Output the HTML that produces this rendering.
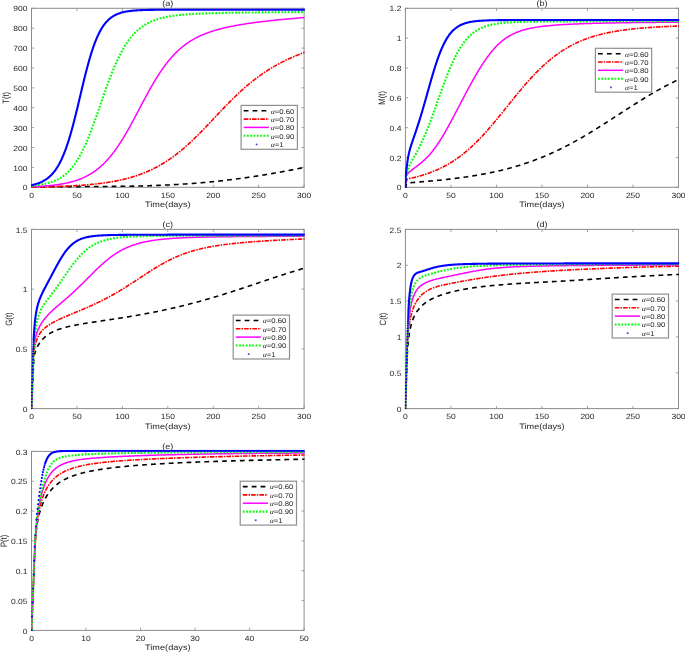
<!DOCTYPE html>
<html><head><meta charset="utf-8"><style>
html,body{margin:0;padding:0;background:#fff;}
body{width:685px;height:652px;overflow:hidden;}
svg{display:block;will-change:transform;}
text{font-family:"Liberation Sans", sans-serif;text-rendering:geometricPrecision;}
</style></head><body>
<svg width="685" height="652" viewBox="0 0 685 652" font-family='"Liberation Sans", sans-serif'>
<rect width="685" height="652" fill="#ffffff"/>
<rect x="31.50" y="8.30" width="272.60" height="179.00" fill="none" stroke="#8c8c8c" stroke-width="1"/>
<path d="M31.50 187.30V184.60M31.50 8.30V11.00M76.93 187.30V184.60M76.93 8.30V11.00M122.37 187.30V184.60M122.37 8.30V11.00M167.80 187.30V184.60M167.80 8.30V11.00M213.23 187.30V184.60M213.23 8.30V11.00M258.67 187.30V184.60M258.67 8.30V11.00M304.10 187.30V184.60M304.10 8.30V11.00M31.50 187.30H34.20M304.10 187.30H301.40M31.50 167.41H34.20M304.10 167.41H301.40M31.50 147.52H34.20M304.10 147.52H301.40M31.50 127.63H34.20M304.10 127.63H301.40M31.50 107.74H34.20M304.10 107.74H301.40M31.50 87.86H34.20M304.10 87.86H301.40M31.50 67.97H34.20M304.10 67.97H301.40M31.50 48.08H34.20M304.10 48.08H301.40M31.50 28.19H34.20M304.10 28.19H301.40M31.50 8.30H34.20M304.10 8.30H301.40" stroke="#8c8c8c" stroke-width="0.8" fill="none"/>
<clipPath id="cpa"><rect x="31.00" y="6.70" width="273.80" height="181.20"/></clipPath>
<g clip-path="url(#cpa)" fill="none" stroke-linejoin="round">
<path d="M31.50 187.19 L32.50 187.15 L33.50 187.11 L34.50 187.08 L35.50 187.05 L36.50 187.02 L37.51 186.99 L38.51 186.96 L39.51 186.94 L40.51 186.91 L41.51 186.89 L42.51 186.87 L43.51 186.85 L44.51 186.83 L45.52 186.81 L46.52 186.80 L47.52 186.78 L48.52 186.77 L49.52 186.75 L50.52 186.74 L51.52 186.73 L52.53 186.72 L53.53 186.71 L54.53 186.70 L55.53 186.69 L56.53 186.68 L57.53 186.67 L58.53 186.66 L59.54 186.66 L60.54 186.65 L61.54 186.64 L62.54 186.64 L63.54 186.63 L64.54 186.63 L65.54 186.62 L66.55 186.62 L67.55 186.62 L68.55 186.61 L69.55 186.61 L70.55 186.60 L71.55 186.60 L72.56 186.60 L73.56 186.59 L74.56 186.59 L75.56 186.59 L76.56 186.59 L77.56 186.58 L78.56 186.58 L79.57 186.58 L80.57 186.58 L81.57 186.57 L82.57 186.57 L83.57 186.57 L84.57 186.57 L85.57 186.56 L86.58 186.56 L87.58 186.56 L88.58 186.56 L89.58 186.55 L90.58 186.55 L91.58 186.55 L92.59 186.54 L93.59 186.54 L94.59 186.54 L95.59 186.53 L96.59 186.53 L97.59 186.52 L98.59 186.52 L99.60 186.51 L100.60 186.51 L101.60 186.50 L102.60 186.50 L103.60 186.49 L104.60 186.49 L105.60 186.48 L106.61 186.47 L107.61 186.47 L108.61 186.46 L109.61 186.45 L110.61 186.44 L111.61 186.43 L112.61 186.42 L113.62 186.41 L114.62 186.40 L115.62 186.39 L116.62 186.38 L117.62 186.37 L118.62 186.36 L119.62 186.35 L120.63 186.34 L121.63 186.32 L122.63 186.31 L123.63 186.29 L124.63 186.28 L125.63 186.26 L126.63 186.25 L127.64 186.23 L128.64 186.21 L129.64 186.20 L130.64 186.18 L131.64 186.16 L132.64 186.14 L133.64 186.12 L134.65 186.10 L135.65 186.08 L136.65 186.05 L137.65 186.03 L138.65 186.01 L139.65 185.98 L140.65 185.96 L141.65 185.93 L142.65 185.91 L143.66 185.88 L144.66 185.85 L145.66 185.82 L146.66 185.79 L147.66 185.76 L148.66 185.73 L149.66 185.70 L150.66 185.67 L151.66 185.63 L152.67 185.60 L153.67 185.56 L154.67 185.53 L155.67 185.49 L156.67 185.45 L157.67 185.42 L158.67 185.38 L159.67 185.34 L160.67 185.29 L161.67 185.25 L162.67 185.21 L163.67 185.16 L164.67 185.12 L165.67 185.07 L166.67 185.03 L167.67 184.98 L168.67 184.93 L169.68 184.88 L170.68 184.83 L171.68 184.78 L172.68 184.72 L173.68 184.67 L174.68 184.61 L175.68 184.56 L176.68 184.50 L177.68 184.44 L178.68 184.38 L179.67 184.32 L180.67 184.26 L181.67 184.20 L182.67 184.14 L183.67 184.07 L184.67 184.01 L185.67 183.94 L186.67 183.87 L187.67 183.80 L188.67 183.73 L189.67 183.66 L190.67 183.59 L191.67 183.51 L192.66 183.44 L193.66 183.36 L194.66 183.29 L195.66 183.21 L196.66 183.13 L197.66 183.05 L198.65 182.97 L199.65 182.88 L200.65 182.80 L201.65 182.72 L202.65 182.63 L203.64 182.54 L204.64 182.45 L205.64 182.36 L206.64 182.27 L207.63 182.18 L208.63 182.08 L209.63 181.99 L210.62 181.89 L211.62 181.80 L212.62 181.70 L213.61 181.60 L214.61 181.50 L215.61 181.39 L216.60 181.29 L217.60 181.19 L218.59 181.08 L219.59 180.97 L220.59 180.86 L221.58 180.75 L222.58 180.64 L223.57 180.53 L224.57 180.42 L225.56 180.30 L226.56 180.19 L227.55 180.07 L228.55 179.95 L229.54 179.83 L230.53 179.71 L231.53 179.59 L232.52 179.47 L233.52 179.34 L234.51 179.22 L235.50 179.09 L236.50 178.96 L237.49 178.83 L238.48 178.70 L239.48 178.57 L240.47 178.43 L241.46 178.30 L242.45 178.16 L243.44 178.03 L244.44 177.89 L245.43 177.75 L246.42 177.61 L247.41 177.47 L248.40 177.32 L249.39 177.18 L250.38 177.03 L251.38 176.89 L252.37 176.74 L253.36 176.59 L254.35 176.44 L255.34 176.29 L256.33 176.14 L257.32 175.98 L258.31 175.83 L259.29 175.67 L260.28 175.51 L261.27 175.36 L262.26 175.20 L263.25 175.04 L264.24 174.87 L265.23 174.71 L266.21 174.55 L267.20 174.38 L268.19 174.22 L269.18 174.05 L270.16 173.88 L271.15 173.71 L272.14 173.54 L273.12 173.37 L274.11 173.20 L275.10 173.02 L276.08 172.85 L277.07 172.67 L278.06 172.49 L279.04 172.32 L280.03 172.14 L281.01 171.96 L282.00 171.78 L282.98 171.59 L283.97 171.41 L284.95 171.23 L285.93 171.04 L286.92 170.85 L287.90 170.67 L288.89 170.48 L289.87 170.29 L290.85 170.10 L291.84 169.91 L292.82 169.72 L293.80 169.52 L294.78 169.33 L295.77 169.14 L296.75 168.94 L297.73 168.74 L298.71 168.55 L299.69 168.35 L300.68 168.15 L301.66 167.95 L302.64 167.75 L303.62 167.55 L304.60 167.34" stroke="#000000" stroke-width="1.60" stroke-linecap="butt" stroke-dasharray="4.8 4.1"/>
<path d="M31.50 187.13 L32.50 187.11 L33.50 187.10 L34.50 187.08 L35.51 187.06 L36.51 187.04 L37.51 187.02 L38.51 187.00 L39.51 186.98 L40.51 186.96 L41.51 186.94 L42.51 186.92 L43.52 186.90 L44.52 186.87 L45.52 186.85 L46.52 186.83 L47.52 186.80 L48.52 186.77 L49.52 186.75 L50.52 186.72 L51.52 186.69 L52.53 186.66 L53.53 186.63 L54.53 186.60 L55.53 186.57 L56.53 186.53 L57.53 186.50 L58.53 186.46 L59.53 186.43 L60.53 186.39 L61.53 186.35 L62.53 186.31 L63.54 186.27 L64.54 186.23 L65.54 186.18 L66.54 186.14 L67.54 186.09 L68.54 186.04 L69.54 185.99 L70.54 185.94 L71.54 185.89 L72.54 185.83 L73.54 185.78 L74.54 185.72 L75.54 185.66 L76.54 185.60 L77.54 185.54 L78.54 185.47 L79.53 185.40 L80.53 185.33 L81.53 185.26 L82.53 185.19 L83.53 185.11 L84.53 185.03 L85.53 184.95 L86.53 184.87 L87.52 184.79 L88.52 184.70 L89.52 184.61 L90.52 184.51 L91.51 184.42 L92.51 184.32 L93.50 184.22 L94.50 184.11 L95.50 184.01 L96.49 183.90 L97.49 183.78 L98.48 183.66 L99.48 183.54 L100.47 183.42 L101.46 183.29 L102.46 183.16 L103.45 183.03 L104.44 182.89 L105.43 182.75 L106.42 182.60 L107.41 182.45 L108.40 182.30 L109.39 182.14 L110.38 181.97 L111.37 181.81 L112.35 181.64 L113.34 181.46 L114.32 181.28 L115.31 181.09 L116.29 180.90 L117.27 180.71 L118.25 180.51 L119.23 180.30 L120.21 180.09 L121.19 179.87 L122.17 179.65 L123.14 179.43 L124.12 179.19 L125.09 178.95 L126.06 178.71 L127.03 178.46 L128.00 178.20 L128.97 177.94 L129.93 177.67 L130.89 177.40 L131.86 177.12 L132.82 176.83 L133.77 176.54 L134.73 176.24 L135.68 175.93 L136.63 175.62 L137.58 175.30 L138.53 174.97 L139.47 174.64 L140.41 174.30 L141.35 173.95 L142.29 173.59 L143.22 173.23 L144.15 172.86 L145.08 172.49 L146.01 172.10 L146.93 171.71 L147.85 171.32 L148.77 170.91 L149.68 170.50 L150.59 170.08 L151.50 169.66 L152.40 169.23 L153.30 168.79 L154.20 168.34 L155.09 167.89 L155.98 167.43 L156.86 166.96 L157.75 166.48 L158.62 166.00 L159.50 165.51 L160.37 165.02 L161.24 164.52 L162.10 164.01 L162.96 163.49 L163.81 162.97 L164.66 162.44 L165.51 161.91 L166.35 161.37 L167.19 160.82 L168.03 160.27 L168.86 159.71 L169.69 159.15 L170.51 158.58 L171.33 158.00 L172.15 157.42 L172.96 156.84 L173.77 156.24 L174.57 155.65 L175.37 155.04 L176.17 154.44 L176.96 153.83 L177.75 153.21 L178.53 152.59 L179.31 151.96 L180.09 151.33 L180.87 150.69 L181.64 150.05 L182.41 149.41 L183.17 148.76 L183.93 148.11 L184.69 147.46 L185.44 146.80 L186.19 146.14 L186.94 145.47 L187.69 144.80 L188.43 144.13 L189.17 143.45 L189.90 142.77 L190.64 142.09 L191.37 141.41 L192.09 140.72 L192.82 140.03 L193.54 139.34 L194.26 138.64 L194.98 137.94 L195.70 137.24 L196.41 136.54 L197.13 135.84 L197.84 135.13 L198.54 134.42 L199.25 133.71 L199.95 133.00 L200.66 132.29 L201.36 131.57 L202.06 130.85 L202.76 130.14 L203.45 129.42 L204.15 128.70 L204.84 127.98 L205.54 127.25 L206.23 126.53 L206.92 125.80 L207.61 125.08 L208.30 124.35 L208.99 123.63 L209.68 122.90 L210.37 122.17 L211.05 121.44 L211.74 120.71 L212.43 119.98 L213.11 119.26 L213.80 118.53 L214.49 117.80 L215.17 117.07 L215.86 116.34 L216.54 115.61 L217.23 114.88 L217.92 114.15 L218.61 113.42 L219.29 112.69 L219.98 111.97 L220.67 111.24 L221.36 110.51 L222.05 109.79 L222.74 109.06 L223.44 108.34 L224.13 107.62 L224.82 106.90 L225.52 106.18 L226.22 105.46 L226.91 104.74 L227.61 104.02 L228.32 103.31 L229.02 102.59 L229.72 101.88 L230.43 101.17 L231.14 100.46 L231.85 99.76 L232.56 99.05 L233.27 98.35 L233.99 97.65 L234.70 96.95 L235.42 96.25 L236.15 95.56 L236.87 94.87 L237.60 94.18 L238.32 93.49 L239.06 92.81 L239.79 92.13 L240.53 91.45 L241.27 90.77 L242.01 90.10 L242.75 89.43 L243.50 88.76 L244.25 88.10 L245.00 87.44 L245.76 86.78 L246.52 86.13 L247.28 85.48 L248.04 84.83 L248.81 84.19 L249.58 83.55 L250.36 82.91 L251.13 82.28 L251.91 81.65 L252.70 81.03 L253.48 80.41 L254.27 79.79 L255.07 79.18 L255.86 78.58 L256.66 77.97 L257.47 77.37 L258.27 76.78 L259.08 76.19 L259.89 75.61 L260.71 75.03 L261.53 74.45 L262.35 73.88 L263.18 73.31 L264.01 72.75 L264.84 72.19 L265.68 71.64 L266.52 71.10 L267.36 70.55 L268.20 70.02 L269.05 69.48 L269.90 68.96 L270.76 68.43 L271.61 67.92 L272.47 67.40 L273.34 66.90 L274.20 66.39 L275.07 65.90 L275.95 65.40 L276.82 64.92 L277.70 64.43 L278.58 63.96 L279.46 63.48 L280.35 63.02 L281.24 62.55 L282.13 62.10 L283.02 61.64 L283.91 61.19 L284.81 60.75 L285.71 60.31 L286.61 59.88 L287.52 59.45 L288.43 59.02 L289.34 58.60 L290.25 58.19 L291.16 57.78 L292.08 57.37 L292.99 56.97 L293.91 56.57 L294.83 56.18 L295.75 55.79 L296.68 55.40 L297.60 55.02 L298.53 54.64 L299.46 54.27 L300.39 53.90 L301.33 53.53 L302.26 53.17 L303.19 52.81 L304.13 52.46 L304.60 52.28" stroke="#ff0000" stroke-width="1.60" stroke-linecap="butt" stroke-dasharray="4.6 1.1 1.5 1.1"/>
<path d="M31.50 186.77 L32.50 186.72 L33.50 186.68 L34.50 186.63 L35.50 186.58 L36.50 186.52 L37.50 186.47 L38.50 186.41 L39.50 186.35 L40.50 186.29 L41.50 186.22 L42.50 186.15 L43.49 186.08 L44.49 186.01 L45.49 185.93 L46.49 185.85 L47.49 185.76 L48.48 185.67 L49.48 185.58 L50.48 185.48 L51.47 185.38 L52.47 185.27 L53.46 185.16 L54.46 185.04 L55.45 184.92 L56.44 184.79 L57.43 184.65 L58.43 184.51 L59.42 184.36 L60.40 184.21 L61.39 184.04 L62.38 183.87 L63.36 183.70 L64.35 183.51 L65.33 183.32 L66.31 183.12 L67.29 182.90 L68.27 182.68 L69.24 182.45 L70.21 182.21 L71.18 181.96 L72.15 181.70 L73.11 181.43 L74.07 181.15 L75.03 180.86 L75.98 180.55 L76.93 180.24 L77.88 179.91 L78.82 179.57 L79.76 179.21 L80.69 178.85 L81.62 178.47 L82.54 178.08 L83.45 177.67 L84.36 177.26 L85.27 176.82 L86.16 176.38 L87.05 175.92 L87.94 175.45 L88.81 174.97 L89.68 174.47 L90.55 173.96 L91.40 173.44 L92.24 172.90 L93.08 172.35 L93.91 171.79 L94.73 171.22 L95.54 170.63 L96.35 170.04 L97.14 169.43 L97.93 168.81 L98.71 168.18 L99.48 167.54 L100.24 166.89 L100.99 166.22 L101.73 165.55 L102.46 164.87 L103.19 164.18 L103.91 163.48 L104.62 162.78 L105.32 162.06 L106.01 161.34 L106.69 160.61 L107.37 159.87 L108.04 159.13 L108.70 158.37 L109.35 157.62 L110.00 156.85 L110.64 156.08 L111.27 155.30 L111.90 154.52 L112.52 153.74 L113.13 152.94 L113.74 152.15 L114.34 151.35 L114.93 150.54 L115.52 149.73 L116.10 148.92 L116.68 148.10 L117.25 147.28 L117.82 146.45 L118.38 145.62 L118.93 144.79 L119.49 143.95 L120.03 143.12 L120.58 142.27 L121.12 141.43 L121.65 140.58 L122.18 139.74 L122.71 138.88 L123.23 138.03 L123.75 137.18 L124.27 136.32 L124.78 135.46 L125.29 134.60 L125.80 133.73 L126.30 132.87 L126.80 132.00 L127.30 131.13 L127.80 130.26 L128.29 129.39 L128.78 128.52 L129.27 127.65 L129.76 126.77 L130.24 125.90 L130.73 125.02 L131.21 124.14 L131.69 123.26 L132.17 122.38 L132.64 121.50 L133.12 120.62 L133.59 119.74 L134.07 118.86 L134.54 117.98 L135.01 117.09 L135.48 116.21 L135.95 115.32 L136.42 114.44 L136.89 113.55 L137.35 112.67 L137.82 111.78 L138.29 110.90 L138.75 110.01 L139.22 109.13 L139.69 108.24 L140.15 107.35 L140.62 106.47 L141.09 105.58 L141.56 104.70 L142.02 103.81 L142.49 102.93 L142.96 102.04 L143.43 101.16 L143.90 100.28 L144.37 99.39 L144.84 98.51 L145.32 97.63 L145.79 96.75 L146.27 95.87 L146.75 94.99 L147.23 94.11 L147.71 93.23 L148.19 92.35 L148.67 91.47 L149.16 90.60 L149.65 89.72 L150.14 88.85 L150.63 87.98 L151.12 87.11 L151.62 86.24 L152.12 85.37 L152.62 84.51 L153.12 83.64 L153.63 82.78 L154.14 81.92 L154.66 81.06 L155.17 80.20 L155.69 79.34 L156.22 78.49 L156.74 77.64 L157.27 76.79 L157.81 75.94 L158.35 75.10 L158.89 74.26 L159.44 73.42 L159.99 72.59 L160.54 71.75 L161.10 70.92 L161.67 70.10 L162.24 69.27 L162.81 68.45 L163.40 67.64 L163.98 66.83 L164.57 66.02 L165.17 65.21 L165.77 64.41 L166.38 63.62 L166.99 62.83 L167.61 62.04 L168.24 61.26 L168.87 60.49 L169.51 59.72 L170.16 58.95 L170.81 58.19 L171.47 57.44 L172.14 56.69 L172.81 55.95 L173.49 55.22 L174.18 54.49 L174.88 53.77 L175.58 53.06 L176.29 52.35 L177.01 51.66 L177.73 50.97 L178.47 50.28 L179.21 49.61 L179.96 48.95 L180.71 48.29 L181.48 47.64 L182.25 47.01 L183.03 46.38 L183.82 45.76 L184.61 45.15 L185.41 44.55 L186.22 43.96 L187.04 43.38 L187.86 42.81 L188.69 42.25 L189.53 41.70 L190.37 41.17 L191.22 40.64 L192.08 40.12 L192.94 39.61 L193.81 39.12 L194.69 38.63 L195.57 38.15 L196.46 37.69 L197.35 37.23 L198.24 36.79 L199.15 36.35 L200.05 35.93 L200.96 35.51 L201.88 35.11 L202.80 34.71 L203.72 34.33 L204.65 33.95 L205.58 33.58 L206.51 33.22 L207.45 32.87 L208.39 32.53 L209.34 32.19 L210.28 31.86 L211.23 31.55 L212.18 31.24 L213.14 30.93 L214.09 30.64 L215.05 30.35 L216.01 30.06 L216.98 29.79 L217.94 29.52 L218.91 29.25 L219.87 29.00 L220.84 28.75 L221.81 28.50 L222.78 28.26 L223.76 28.03 L224.73 27.80 L225.71 27.57 L226.68 27.35 L227.66 27.14 L228.64 26.92 L229.62 26.72 L230.60 26.52 L231.58 26.32 L232.56 26.12 L233.55 25.93 L234.53 25.75 L235.52 25.56 L236.50 25.38 L237.49 25.21 L238.47 25.03 L239.46 24.86 L240.45 24.70 L241.43 24.53 L242.42 24.37 L243.41 24.21 L244.40 24.06 L245.39 23.90 L246.38 23.75 L247.37 23.60 L248.36 23.46 L249.35 23.31 L250.34 23.17 L251.33 23.03 L252.32 22.89 L253.31 22.76 L254.31 22.62 L255.30 22.49 L256.29 22.36 L257.28 22.23 L258.28 22.10 L259.27 21.98 L260.26 21.86 L261.26 21.73 L262.25 21.61 L263.25 21.49 L264.24 21.38 L265.23 21.26 L266.23 21.15 L267.22 21.03 L268.22 20.92 L269.21 20.81 L270.21 20.70 L271.20 20.59 L272.20 20.49 L273.20 20.38 L274.19 20.27 L275.19 20.17 L276.18 20.07 L277.18 19.97 L278.17 19.87 L279.17 19.77 L280.17 19.67 L281.16 19.57 L282.16 19.47 L283.16 19.38 L284.15 19.28 L285.15 19.19 L286.15 19.09 L287.14 19.00 L288.14 18.91 L289.14 18.82 L290.13 18.73 L291.13 18.64 L292.13 18.55 L293.13 18.46 L294.12 18.38 L295.12 18.29 L296.12 18.21 L297.12 18.12 L298.11 18.04 L299.11 17.95 L300.11 17.87 L301.11 17.79 L302.11 17.71 L303.10 17.63 L304.10 17.55 L304.60 17.51" stroke="#ff00ff" stroke-width="1.50" stroke-linecap="butt"/>
<path d="M31.50 186.06 L32.49 185.91 L33.48 185.75 L34.47 185.60 L35.46 185.45 L36.44 185.29 L37.43 185.13 L38.42 184.97 L39.41 184.81 L40.39 184.64 L41.38 184.46 L42.36 184.28 L43.35 184.09 L44.33 183.88 L45.30 183.67 L46.28 183.45 L47.25 183.21 L48.22 182.96 L49.19 182.70 L50.15 182.42 L51.10 182.12 L52.05 181.81 L53.00 181.48 L53.93 181.12 L54.86 180.75 L55.78 180.36 L56.70 179.95 L57.60 179.52 L58.49 179.06 L59.37 178.58 L60.24 178.09 L61.09 177.56 L61.93 177.02 L62.76 176.46 L63.57 175.88 L64.37 175.27 L65.16 174.65 L65.92 174.01 L66.68 173.35 L67.42 172.67 L68.14 171.98 L68.85 171.27 L69.54 170.55 L70.22 169.82 L70.88 169.07 L71.53 168.31 L72.17 167.53 L72.79 166.75 L73.40 165.96 L74.00 165.15 L74.58 164.34 L75.16 163.52 L75.72 162.69 L76.27 161.86 L76.81 161.02 L77.34 160.17 L77.87 159.32 L78.38 158.46 L78.88 157.59 L79.38 156.72 L79.86 155.85 L80.34 154.97 L80.82 154.09 L81.28 153.20 L81.74 152.31 L82.19 151.42 L82.63 150.52 L83.07 149.62 L83.51 148.72 L83.93 147.81 L84.35 146.91 L84.77 146.00 L85.18 145.08 L85.59 144.17 L85.99 143.25 L86.39 142.34 L86.79 141.42 L87.18 140.49 L87.56 139.57 L87.95 138.65 L88.33 137.72 L88.70 136.79 L89.07 135.86 L89.44 134.93 L89.81 134.00 L90.18 133.07 L90.54 132.14 L90.90 131.20 L91.25 130.27 L91.61 129.33 L91.96 128.40 L92.31 127.46 L92.66 126.52 L93.01 125.58 L93.35 124.64 L93.69 123.70 L94.03 122.76 L94.37 121.82 L94.71 120.88 L95.05 119.93 L95.39 118.99 L95.72 118.05 L96.05 117.11 L96.39 116.16 L96.72 115.22 L97.05 114.27 L97.38 113.33 L97.71 112.38 L98.04 111.44 L98.37 110.49 L98.70 109.55 L99.02 108.60 L99.35 107.66 L99.68 106.71 L100.01 105.76 L100.33 104.82 L100.66 103.87 L100.99 102.93 L101.32 101.98 L101.64 101.04 L101.97 100.09 L102.30 99.14 L102.63 98.20 L102.96 97.25 L103.29 96.31 L103.62 95.36 L103.95 94.42 L104.28 93.48 L104.61 92.53 L104.95 91.59 L105.28 90.64 L105.62 89.70 L105.95 88.76 L106.29 87.82 L106.63 86.88 L106.97 85.93 L107.31 84.99 L107.66 84.05 L108.00 83.11 L108.35 82.18 L108.70 81.24 L109.05 80.30 L109.40 79.36 L109.75 78.43 L110.11 77.49 L110.47 76.56 L110.83 75.63 L111.20 74.69 L111.56 73.76 L111.93 72.83 L112.30 71.90 L112.68 70.98 L113.06 70.05 L113.44 69.12 L113.82 68.20 L114.21 67.28 L114.60 66.36 L115.00 65.44 L115.40 64.52 L115.80 63.60 L116.21 62.69 L116.62 61.78 L117.04 60.87 L117.46 59.96 L117.88 59.05 L118.31 58.15 L118.75 57.25 L119.19 56.35 L119.64 55.45 L120.09 54.56 L120.55 53.67 L121.01 52.78 L121.48 51.90 L121.96 51.02 L122.44 50.15 L122.94 49.27 L123.43 48.41 L123.94 47.54 L124.46 46.68 L124.98 45.83 L125.51 44.98 L126.05 44.14 L126.60 43.30 L127.15 42.47 L127.72 41.65 L128.30 40.83 L128.88 40.02 L129.48 39.21 L130.09 38.42 L130.71 37.63 L131.34 36.86 L131.98 36.09 L132.63 35.33 L133.30 34.58 L133.97 33.84 L134.66 33.12 L135.36 32.40 L136.08 31.70 L136.80 31.01 L137.54 30.34 L138.29 29.67 L139.05 29.03 L139.83 28.39 L140.62 27.78 L141.42 27.18 L142.23 26.59 L143.05 26.02 L143.89 25.47 L144.73 24.93 L145.59 24.41 L146.45 23.91 L147.33 23.43 L148.22 22.96 L149.11 22.51 L150.01 22.08 L150.92 21.66 L151.84 21.26 L152.76 20.88 L153.70 20.51 L154.63 20.16 L155.57 19.82 L156.52 19.50 L157.47 19.19 L158.43 18.90 L159.39 18.62 L160.36 18.35 L161.32 18.09 L162.29 17.85 L163.27 17.62 L164.24 17.39 L165.22 17.18 L166.20 16.98 L167.18 16.79 L168.17 16.61 L169.15 16.43 L170.14 16.27 L171.13 16.11 L172.12 15.96 L173.11 15.81 L174.10 15.68 L175.09 15.55 L176.08 15.42 L177.08 15.30 L178.07 15.19 L179.07 15.08 L180.06 14.98 L181.06 14.88 L182.06 14.78 L183.05 14.69 L184.05 14.60 L185.05 14.52 L186.04 14.44 L187.04 14.37 L188.04 14.29 L189.04 14.22 L190.04 14.16 L191.04 14.09 L192.03 14.03 L193.03 13.97 L194.03 13.91 L195.03 13.86 L196.03 13.81 L197.03 13.76 L198.03 13.71 L199.03 13.66 L200.03 13.62 L201.03 13.57 L202.03 13.53 L203.03 13.49 L204.03 13.45 L205.03 13.42 L206.03 13.38 L207.03 13.34 L208.03 13.31 L209.03 13.28 L210.03 13.25 L211.03 13.22 L212.03 13.19 L213.03 13.16 L214.03 13.13 L215.03 13.10 L216.03 13.08 L217.03 13.05 L218.04 13.03 L219.04 13.00 L220.04 12.98 L221.04 12.96 L222.04 12.93 L223.04 12.91 L224.04 12.89 L225.04 12.87 L226.04 12.85 L227.04 12.83 L228.04 12.82 L229.04 12.80 L230.04 12.78 L231.04 12.76 L232.04 12.75 L233.04 12.73 L234.05 12.71 L235.05 12.70 L236.05 12.68 L237.05 12.67 L238.05 12.65 L239.05 12.64 L240.05 12.62 L241.05 12.61 L242.05 12.60 L243.05 12.59 L244.05 12.57 L245.05 12.56 L246.05 12.55 L247.05 12.54 L248.06 12.52 L249.06 12.51 L250.06 12.50 L251.06 12.49 L252.06 12.48 L253.06 12.47 L254.06 12.46 L255.06 12.45 L256.06 12.44 L257.06 12.43 L258.06 12.42 L259.06 12.41 L260.06 12.40 L261.07 12.39 L262.07 12.39 L263.07 12.38 L264.07 12.37 L265.07 12.36 L266.07 12.35 L267.07 12.34 L268.07 12.34 L269.07 12.33 L270.07 12.32 L271.07 12.31 L272.07 12.31 L273.07 12.30 L274.08 12.29 L275.08 12.29 L276.08 12.28 L277.08 12.27 L278.08 12.27 L279.08 12.26 L280.08 12.25 L281.08 12.25 L282.08 12.24 L283.08 12.24 L284.08 12.23 L285.08 12.22 L286.09 12.22 L287.09 12.21 L288.09 12.21 L289.09 12.20 L290.09 12.20 L291.09 12.19 L292.09 12.19 L293.09 12.18 L294.09 12.18 L295.09 12.17 L296.09 12.17 L297.09 12.16 L298.09 12.16 L299.10 12.15 L300.10 12.15 L301.10 12.14 L302.10 12.14 L303.10 12.13 L304.10 12.13 L304.60 12.13" stroke="#00ff00" stroke-width="2.10" stroke-linecap="butt" stroke-dasharray="1.8 1.5"/>
<path d="M31.50 185.16 L32.14 185.01 L32.77 184.86 L33.41 184.71 L34.04 184.55 L34.68 184.37 L35.32 184.20 L35.95 184.01 L36.59 183.81 L37.22 183.61 L37.86 183.39 L38.50 183.16 L39.13 182.92 L39.77 182.67 L40.40 182.40 L41.04 182.12 L41.59 181.87 L42.13 181.61 L42.68 181.34 L43.22 181.05 L43.77 180.75 L44.31 180.44 L44.86 180.11 L45.40 179.77 L45.95 179.42 L46.49 179.04 L47.04 178.65 L47.58 178.25 L48.13 177.82 L48.67 177.38 L49.22 176.92 L49.67 176.52 L50.13 176.10 L50.58 175.67 L51.04 175.22 L51.49 174.76 L51.95 174.28 L52.40 173.79 L52.85 173.27 L53.31 172.74 L53.76 172.19 L54.22 171.62 L54.67 171.03 L55.03 170.54 L55.40 170.05 L55.76 169.53 L56.12 169.00 L56.49 168.46 L56.85 167.91 L57.22 167.34 L57.58 166.75 L57.94 166.15 L58.31 165.54 L58.67 164.90 L59.03 164.25 L59.40 163.59 L59.76 162.91 L60.12 162.21 L60.40 161.67 L60.67 161.13 L60.94 160.58 L61.21 160.01 L61.49 159.44 L61.76 158.85 L62.03 158.25 L62.30 157.65 L62.58 157.03 L62.85 156.41 L63.12 155.77 L63.39 155.12 L63.67 154.46 L63.94 153.79 L64.21 153.11 L64.48 152.42 L64.76 151.72 L65.03 151.00 L65.30 150.28 L65.58 149.54 L65.85 148.79 L66.12 148.04 L66.39 147.27 L66.67 146.48 L66.94 145.69 L67.21 144.89 L67.48 144.07 L67.76 143.25 L68.03 142.41 L68.30 141.56 L68.57 140.71 L68.76 140.13 L68.94 139.54 L69.12 138.96 L69.30 138.36 L69.48 137.76 L69.66 137.16 L69.85 136.55 L70.03 135.94 L70.21 135.33 L70.39 134.70 L70.57 134.08 L70.75 133.45 L70.94 132.81 L71.12 132.17 L71.30 131.53 L71.48 130.88 L71.66 130.23 L71.84 129.57 L72.03 128.91 L72.21 128.24 L72.39 127.57 L72.57 126.90 L72.75 126.22 L72.94 125.54 L73.12 124.85 L73.30 124.17 L73.48 123.47 L73.66 122.78 L73.84 122.08 L74.03 121.37 L74.21 120.66 L74.39 119.95 L74.57 119.24 L74.75 118.52 L74.93 117.80 L75.12 117.08 L75.30 116.35 L75.48 115.62 L75.66 114.89 L75.84 114.16 L76.02 113.42 L76.21 112.68 L76.39 111.94 L76.57 111.19 L76.75 110.45 L76.93 109.70 L77.12 108.95 L77.30 108.20 L77.48 107.44 L77.66 106.69 L77.84 105.93 L78.02 105.17 L78.21 104.41 L78.39 103.65 L78.57 102.88 L78.75 102.12 L78.93 101.36 L79.11 100.59 L79.30 99.82 L79.48 99.06 L79.66 98.29 L79.84 97.52 L80.02 96.76 L80.20 95.99 L80.39 95.22 L80.57 94.45 L80.75 93.69 L80.93 92.92 L81.11 92.15 L81.29 91.39 L81.48 90.62 L81.66 89.86 L81.84 89.10 L82.02 88.33 L82.20 87.57 L82.39 86.81 L82.57 86.06 L82.75 85.30 L82.93 84.54 L83.11 83.79 L83.29 83.04 L83.48 82.29 L83.66 81.54 L83.84 80.80 L84.02 80.05 L84.20 79.31 L84.38 78.58 L84.57 77.84 L84.75 77.11 L84.93 76.38 L85.11 75.65 L85.29 74.93 L85.47 74.21 L85.66 73.49 L85.84 72.78 L86.02 72.06 L86.20 71.36 L86.38 70.65 L86.57 69.95 L86.75 69.26 L86.93 68.56 L87.11 67.87 L87.29 67.19 L87.47 66.51 L87.66 65.83 L87.84 65.16 L88.02 64.49 L88.20 63.82 L88.38 63.16 L88.56 62.51 L88.75 61.86 L88.93 61.21 L89.11 60.57 L89.29 59.93 L89.47 59.30 L89.65 58.67 L89.84 58.05 L90.02 57.43 L90.20 56.81 L90.38 56.21 L90.56 55.60 L90.75 55.00 L90.93 54.41 L91.11 53.82 L91.29 53.24 L91.47 52.66 L91.65 52.09 L91.93 51.23 L92.20 50.40 L92.47 49.57 L92.74 48.75 L93.02 47.95 L93.29 47.16 L93.56 46.38 L93.83 45.61 L94.11 44.85 L94.38 44.11 L94.65 43.37 L94.92 42.65 L95.20 41.94 L95.47 41.25 L95.74 40.56 L96.02 39.89 L96.29 39.22 L96.56 38.57 L96.83 37.93 L97.11 37.31 L97.38 36.69 L97.65 36.08 L97.92 35.49 L98.20 34.90 L98.47 34.33 L98.74 33.77 L99.01 33.22 L99.29 32.68 L99.65 31.97 L100.01 31.29 L100.38 30.62 L100.74 29.97 L101.10 29.34 L101.47 28.72 L101.83 28.13 L102.19 27.54 L102.56 26.98 L102.92 26.43 L103.28 25.90 L103.65 25.38 L104.01 24.87 L104.38 24.38 L104.83 23.79 L105.28 23.22 L105.74 22.68 L106.19 22.15 L106.65 21.64 L107.10 21.15 L107.56 20.68 L108.01 20.23 L108.46 19.80 L108.92 19.38 L109.37 18.98 L109.92 18.52 L110.46 18.08 L111.01 17.66 L111.55 17.26 L112.10 16.88 L112.64 16.52 L113.19 16.18 L113.73 15.85 L114.28 15.54 L114.82 15.24 L115.37 14.96 L115.92 14.70 L116.46 14.44 L117.10 14.16 L117.73 13.90 L118.37 13.65 L119.00 13.41 L119.64 13.19 L120.28 12.99 L120.91 12.79 L121.55 12.61 L122.18 12.43 L122.82 12.27 L123.46 12.12 L124.09 11.97 L124.73 11.84 L125.37 11.71 L126.00 11.59 L126.64 11.48 L127.27 11.37 L127.91 11.27 L128.55 11.18 L129.18 11.09 L129.82 11.00 L130.45 10.93 L131.09 10.85 L131.73 10.78 L132.36 10.72 L133.00 10.66 L133.63 10.60 L134.27 10.55 L134.91 10.50 L135.54 10.45 L136.18 10.40 L136.81 10.36 L137.45 10.32 L138.09 10.29 L138.72 10.25 L139.36 10.22 L139.99 10.19 L140.63 10.16 L141.27 10.13 L141.90 10.11 L142.54 10.08 L143.18 10.06 L143.81 10.04 L144.45 10.02 L145.08 10.00 L145.72 9.98 L146.36 9.97 L146.99 9.95 L147.63 9.94 L148.26 9.92 L148.90 9.91 L149.54 9.90 L150.17 9.89 L150.81 9.87 L151.44 9.86 L152.08 9.86 L152.72 9.85 L153.35 9.84 L153.99 9.83 L154.62 9.82 L155.26 9.82 L155.90 9.81 L156.53 9.80 L157.17 9.80 L157.80 9.79 L158.44 9.79 L159.08 9.78 L159.71 9.78 L160.35 9.77 L160.99 9.77 L161.62 9.77 L162.26 9.76 L162.89 9.76 L163.53 9.75 L164.17 9.75 L164.80 9.75 L165.44 9.75 L166.07 9.74 L166.71 9.74 L167.35 9.74 L167.98 9.74 L168.62 9.74 L169.25 9.73 L169.89 9.73 L170.53 9.73 L171.16 9.73 L171.80 9.73 L172.43 9.73 L173.07 9.72 L173.71 9.72 L174.34 9.72 L174.98 9.72 L175.61 9.72 L176.25 9.72 L176.89 9.72 L177.52 9.72 L178.16 9.72 L178.79 9.72 L179.43 9.72 L180.07 9.71 L180.70 9.71 L181.34 9.71 L181.98 9.71 L182.61 9.71 L183.25 9.71 L183.88 9.71 L184.52 9.71 L185.16 9.71 L185.79 9.71 L186.43 9.71 L187.06 9.71 L187.70 9.71 L188.34 9.71 L188.97 9.71 L189.61 9.71 L190.24 9.71 L190.88 9.71 L191.52 9.71 L192.15 9.71 L192.79 9.71 L193.42 9.71 L194.06 9.71 L194.70 9.71 L195.33 9.71 L195.97 9.71 L196.60 9.70 L197.24 9.70 L197.88 9.70 L198.51 9.70 L199.15 9.70 L199.79 9.70 L200.42 9.70 L201.06 9.70 L201.69 9.70 L202.33 9.70 L202.97 9.70 L203.60 9.70 L204.24 9.70 L204.87 9.70 L205.51 9.70 L206.15 9.70 L206.78 9.70 L207.42 9.70 L208.05 9.70 L208.69 9.70 L209.33 9.70 L209.96 9.70 L210.60 9.70 L211.23 9.70 L211.87 9.70 L212.51 9.70 L213.14 9.70 L213.78 9.70 L214.41 9.70 L215.05 9.70 L215.69 9.70 L216.32 9.70 L216.96 9.70 L217.59 9.70 L218.23 9.70 L218.87 9.70 L219.50 9.70 L220.14 9.70 L220.78 9.70 L221.41 9.70 L222.05 9.70 L222.68 9.70 L223.32 9.70 L223.96 9.70 L224.59 9.70 L225.23 9.70 L225.86 9.70 L226.50 9.70 L227.14 9.70 L227.77 9.70 L228.41 9.70 L229.04 9.70 L229.68 9.70 L230.32 9.70 L230.95 9.70 L231.59 9.70 L232.22 9.70 L232.86 9.70 L233.50 9.70 L234.13 9.70 L234.77 9.70 L235.40 9.70 L236.04 9.70 L236.68 9.70 L237.31 9.70 L237.95 9.70 L238.59 9.70 L239.22 9.70 L239.86 9.70 L240.49 9.70 L241.13 9.70 L241.77 9.70 L242.40 9.70 L243.04 9.70 L243.67 9.70 L244.31 9.70 L244.95 9.70 L245.58 9.70 L246.22 9.70 L246.85 9.70 L247.49 9.70 L248.13 9.70 L248.76 9.70 L249.40 9.70 L250.03 9.70 L250.67 9.70 L251.31 9.70 L251.94 9.70 L252.58 9.70 L253.21 9.70 L253.85 9.70 L254.49 9.70 L255.12 9.70 L255.76 9.70 L256.40 9.70 L257.03 9.70 L257.67 9.70 L258.30 9.70 L258.94 9.70 L259.58 9.70 L260.21 9.70 L260.85 9.70 L261.48 9.70 L262.12 9.70 L262.76 9.70 L263.39 9.70 L264.03 9.70 L264.66 9.70 L265.30 9.70 L265.94 9.70 L266.57 9.70 L267.21 9.70 L267.84 9.70 L268.48 9.70 L269.12 9.70 L269.75 9.70 L270.39 9.70 L271.02 9.70 L271.66 9.70 L272.30 9.70 L272.93 9.70 L273.57 9.70 L274.20 9.70 L274.84 9.70 L275.48 9.70 L276.11 9.70 L276.75 9.70 L277.39 9.70 L278.02 9.70 L278.66 9.70 L279.29 9.70 L279.93 9.70 L280.57 9.70 L281.20 9.70 L281.84 9.70 L282.47 9.70 L283.11 9.70 L283.75 9.70 L284.38 9.70 L285.02 9.70 L285.65 9.70 L286.29 9.70 L286.93 9.70 L287.56 9.70 L288.20 9.70 L288.83 9.70 L289.47 9.70 L290.11 9.70 L290.74 9.70 L291.38 9.70 L292.01 9.70 L292.65 9.70 L293.29 9.70 L293.92 9.70 L294.56 9.70 L295.20 9.70 L295.83 9.70 L296.47 9.70 L297.10 9.70 L297.74 9.70 L298.38 9.70 L299.01 9.70 L299.65 9.70 L300.28 9.70 L300.92 9.70 L301.56 9.70 L302.19 9.70 L302.83 9.70 L303.46 9.70 L304.10 9.70 L304.55 9.70" stroke="#0000ff" stroke-width="2.10" stroke-linecap="round"/>
</g>
<text transform="translate(31.50 197.80) scale(1.120 1)" font-size="7.60" text-anchor="middle" fill="#262626">0</text>
<text transform="translate(76.93 197.80) scale(1.120 1)" font-size="7.60" text-anchor="middle" fill="#262626">50</text>
<text transform="translate(122.37 197.80) scale(1.120 1)" font-size="7.60" text-anchor="middle" fill="#262626">100</text>
<text transform="translate(167.80 197.80) scale(1.120 1)" font-size="7.60" text-anchor="middle" fill="#262626">150</text>
<text transform="translate(213.23 197.80) scale(1.120 1)" font-size="7.60" text-anchor="middle" fill="#262626">200</text>
<text transform="translate(258.67 197.80) scale(1.120 1)" font-size="7.60" text-anchor="middle" fill="#262626">250</text>
<text transform="translate(304.10 197.80) scale(1.120 1)" font-size="7.60" text-anchor="middle" fill="#262626">300</text>
<text transform="translate(27.50 190.40) scale(1.120 1)" font-size="7.60" text-anchor="end" fill="#262626">0</text>
<text transform="translate(27.50 170.51) scale(1.120 1)" font-size="7.60" text-anchor="end" fill="#262626">100</text>
<text transform="translate(27.50 150.62) scale(1.120 1)" font-size="7.60" text-anchor="end" fill="#262626">200</text>
<text transform="translate(27.50 130.73) scale(1.120 1)" font-size="7.60" text-anchor="end" fill="#262626">300</text>
<text transform="translate(27.50 110.84) scale(1.120 1)" font-size="7.60" text-anchor="end" fill="#262626">400</text>
<text transform="translate(27.50 90.96) scale(1.120 1)" font-size="7.60" text-anchor="end" fill="#262626">500</text>
<text transform="translate(27.50 71.07) scale(1.120 1)" font-size="7.60" text-anchor="end" fill="#262626">600</text>
<text transform="translate(27.50 51.18) scale(1.120 1)" font-size="7.60" text-anchor="end" fill="#262626">700</text>
<text transform="translate(27.50 31.29) scale(1.120 1)" font-size="7.60" text-anchor="end" fill="#262626">800</text>
<text transform="translate(27.50 11.40) scale(1.120 1)" font-size="7.60" text-anchor="end" fill="#262626">900</text>
<text transform="translate(167.80 207.30) scale(1.160 1)" font-size="7.90" text-anchor="middle" fill="#262626">Time(days)</text>
<text transform="translate(8.90 97.80) rotate(-90) scale(1 1.200)" font-size="7.70" text-anchor="middle" fill="#262626">T(t)</text>
<text transform="translate(167.80 6.30) scale(1.120 1)" font-size="8.10" text-anchor="middle" fill="#262626">(a)</text>
<rect x="241.10" y="105.40" width="56.30" height="43.90" fill="#ffffff" stroke="#8f8f8f" stroke-width="1.2"/>
<path d="M243.70 110.80H268.90" stroke="#000000" stroke-width="1.60" stroke-linecap="butt" stroke-dasharray="4.8 4.1" fill="none"/>
<text transform="translate(270.70 113.60) scale(1.120 1)" font-size="6.90" text-anchor="start" fill="#262626"><tspan font-family="Liberation Serif" font-style="italic">&#945;</tspan>=0.60</text>
<path d="M243.70 119.10H268.90" stroke="#ff0000" stroke-width="1.60" stroke-linecap="butt" stroke-dasharray="4.6 1.1 1.5 1.1" fill="none"/>
<text transform="translate(270.70 121.90) scale(1.120 1)" font-size="6.90" text-anchor="start" fill="#262626"><tspan font-family="Liberation Serif" font-style="italic">&#945;</tspan>=0.70</text>
<path d="M243.70 127.40H268.90" stroke="#ff00ff" stroke-width="1.50" stroke-linecap="butt" fill="none"/>
<text transform="translate(270.70 130.20) scale(1.120 1)" font-size="6.90" text-anchor="start" fill="#262626"><tspan font-family="Liberation Serif" font-style="italic">&#945;</tspan>=0.80</text>
<path d="M243.70 135.80H268.90" stroke="#00ff00" stroke-width="2.10" stroke-linecap="butt" stroke-dasharray="1.8 1.5" fill="none"/>
<text transform="translate(270.70 138.60) scale(1.120 1)" font-size="6.90" text-anchor="start" fill="#262626"><tspan font-family="Liberation Serif" font-style="italic">&#945;</tspan>=0.90</text>
<rect x="255.75" y="143.60" width="1.7" height="1.7" fill="#3c3cff"/>
<text transform="translate(270.70 147.00) scale(1.120 1)" font-size="6.90" text-anchor="start" fill="#262626"><tspan font-family="Liberation Serif" font-style="italic">&#945;</tspan>=1</text>
<rect x="405.40" y="8.30" width="273.10" height="179.00" fill="none" stroke="#8c8c8c" stroke-width="1"/>
<path d="M405.40 187.30V184.60M405.40 8.30V11.00M450.92 187.30V184.60M450.92 8.30V11.00M496.43 187.30V184.60M496.43 8.30V11.00M541.95 187.30V184.60M541.95 8.30V11.00M587.47 187.30V184.60M587.47 8.30V11.00M632.98 187.30V184.60M632.98 8.30V11.00M678.50 187.30V184.60M678.50 8.30V11.00M405.40 187.30H408.10M678.50 187.30H675.80M405.40 157.47H408.10M678.50 157.47H675.80M405.40 127.63H408.10M678.50 127.63H675.80M405.40 97.80H408.10M678.50 97.80H675.80M405.40 67.97H408.10M678.50 67.97H675.80M405.40 38.13H408.10M678.50 38.13H675.80M405.40 8.30H408.10M678.50 8.30H675.80" stroke="#8c8c8c" stroke-width="0.8" fill="none"/>
<clipPath id="cpb"><rect x="404.90" y="6.70" width="274.30" height="181.20"/></clipPath>
<g clip-path="url(#cpb)" fill="none" stroke-linejoin="round">
<path d="M405.40 188.54 L405.66 187.59 L405.80 186.60 L405.97 185.62 L406.21 184.65 L406.67 183.76 L407.50 183.22 L408.47 182.99 L409.47 182.85 L410.46 182.75 L411.46 182.66 L412.46 182.57 L413.45 182.48 L414.45 182.40 L415.45 182.32 L416.45 182.23 L417.44 182.15 L418.44 182.07 L419.44 181.99 L420.44 181.90 L421.44 181.82 L422.43 181.74 L423.43 181.65 L424.43 181.57 L425.43 181.48 L426.43 181.39 L427.42 181.31 L428.42 181.22 L429.42 181.13 L430.41 181.04 L431.41 180.95 L432.41 180.85 L433.41 180.76 L434.40 180.67 L435.40 180.57 L436.40 180.47 L437.39 180.38 L438.39 180.28 L439.39 180.18 L440.38 180.08 L441.38 179.98 L442.37 179.87 L443.37 179.77 L444.37 179.66 L445.36 179.55 L446.36 179.44 L447.35 179.33 L448.35 179.22 L449.34 179.11 L450.34 178.99 L451.33 178.88 L452.33 178.76 L453.32 178.64 L454.31 178.52 L455.31 178.39 L456.30 178.27 L457.29 178.14 L458.29 178.01 L459.28 177.88 L460.27 177.75 L461.27 177.62 L462.26 177.48 L463.25 177.35 L464.24 177.21 L465.23 177.07 L466.22 176.92 L467.21 176.78 L468.21 176.63 L469.20 176.48 L470.19 176.33 L471.17 176.17 L472.16 176.02 L473.15 175.86 L474.14 175.70 L475.13 175.54 L476.12 175.37 L477.10 175.21 L478.09 175.04 L479.08 174.86 L480.06 174.69 L481.05 174.51 L482.03 174.33 L483.02 174.15 L484.00 173.97 L484.99 173.78 L485.97 173.59 L486.95 173.40 L487.94 173.21 L488.92 173.01 L489.90 172.81 L490.88 172.61 L491.86 172.40 L492.84 172.19 L493.82 171.98 L494.80 171.77 L495.77 171.55 L496.75 171.33 L497.73 171.11 L498.70 170.88 L499.68 170.66 L500.65 170.43 L501.63 170.19 L502.60 169.95 L503.57 169.71 L504.54 169.47 L505.51 169.22 L506.48 168.97 L507.45 168.72 L508.42 168.47 L509.39 168.21 L510.35 167.94 L511.32 167.68 L512.28 167.41 L513.25 167.14 L514.21 166.86 L515.17 166.59 L516.13 166.30 L517.09 166.02 L518.05 165.73 L519.01 165.44 L519.97 165.14 L520.92 164.85 L521.88 164.54 L522.83 164.24 L523.78 163.93 L524.74 163.62 L525.69 163.30 L526.64 162.98 L527.58 162.66 L528.53 162.34 L529.48 162.01 L530.42 161.67 L531.36 161.34 L532.31 161.00 L533.25 160.66 L534.19 160.31 L535.13 159.96 L536.06 159.61 L537.00 159.25 L537.93 158.89 L538.87 158.53 L539.80 158.16 L540.73 157.79 L541.66 157.42 L542.59 157.04 L543.51 156.66 L544.44 156.28 L545.36 155.89 L546.28 155.50 L547.20 155.11 L548.12 154.71 L549.04 154.31 L549.96 153.90 L550.87 153.50 L551.79 153.09 L552.70 152.68 L553.61 152.26 L554.52 151.84 L555.43 151.42 L556.33 150.99 L557.24 150.56 L558.14 150.13 L559.04 149.70 L559.94 149.26 L560.84 148.82 L561.74 148.37 L562.64 147.93 L563.53 147.48 L564.42 147.03 L565.32 146.57 L566.21 146.11 L567.10 145.65 L567.98 145.19 L568.87 144.72 L569.76 144.25 L570.64 143.78 L571.52 143.31 L572.40 142.83 L573.28 142.35 L574.16 141.87 L575.04 141.39 L575.91 140.90 L576.79 140.41 L577.66 139.92 L578.53 139.43 L579.40 138.94 L580.27 138.44 L581.14 137.94 L582.01 137.44 L582.87 136.94 L583.74 136.43 L584.60 135.92 L585.46 135.41 L586.32 134.90 L587.18 134.39 L588.04 133.88 L588.90 133.36 L589.76 132.84 L590.61 132.32 L591.47 131.80 L592.32 131.28 L593.18 130.76 L594.03 130.23 L594.88 129.70 L595.73 129.18 L596.58 128.65 L597.43 128.12 L598.28 127.59 L599.13 127.05 L599.98 126.52 L600.82 125.98 L601.67 125.45 L602.51 124.91 L603.36 124.37 L604.20 123.84 L605.05 123.30 L605.89 122.76 L606.73 122.22 L607.58 121.68 L608.42 121.13 L609.26 120.59 L610.10 120.05 L610.94 119.51 L611.78 118.96 L612.62 118.42 L613.46 117.87 L614.31 117.33 L615.15 116.78 L615.99 116.24 L616.83 115.70 L617.67 115.15 L618.51 114.61 L619.35 114.06 L620.19 113.52 L621.03 112.97 L621.87 112.43 L622.71 111.88 L623.55 111.34 L624.39 110.80 L625.23 110.25 L626.07 109.71 L626.92 109.17 L627.76 108.63 L628.60 108.09 L629.44 107.55 L630.29 107.01 L631.13 106.47 L631.98 105.93 L632.82 105.40 L633.67 104.86 L634.51 104.32 L635.36 103.79 L636.21 103.26 L637.06 102.73 L637.91 102.19 L638.76 101.66 L639.61 101.14 L640.46 100.61 L641.31 100.08 L642.16 99.56 L643.02 99.04 L643.87 98.51 L644.73 97.99 L645.59 97.48 L646.44 96.96 L647.30 96.44 L648.16 95.93 L649.02 95.42 L649.88 94.91 L650.75 94.40 L651.61 93.89 L652.47 93.39 L653.34 92.88 L654.21 92.38 L655.08 91.89 L655.95 91.39 L656.82 90.89 L657.69 90.40 L658.56 89.91 L659.44 89.42 L660.31 88.94 L661.19 88.45 L662.07 87.97 L662.95 87.49 L663.83 87.02 L664.71 86.54 L665.59 86.07 L666.48 85.60 L667.36 85.13 L668.25 84.67 L669.14 84.21 L670.03 83.75 L670.92 83.29 L671.81 82.84 L672.71 82.39 L673.60 81.94 L674.50 81.49 L675.39 81.05 L676.29 80.61 L677.19 80.17 L678.10 79.74 L679.00 79.30" stroke="#000000" stroke-width="1.60" stroke-linecap="butt" stroke-dasharray="4.8 4.1"/>
<path d="M405.40 182.56 L406.10 181.94 L406.41 180.99 L406.74 180.05 L407.32 179.24 L408.22 178.82 L409.19 178.57 L410.16 178.35 L411.14 178.13 L412.12 177.91 L413.09 177.69 L414.07 177.46 L415.04 177.22 L416.01 176.98 L416.98 176.73 L417.95 176.48 L418.91 176.22 L419.88 175.95 L420.84 175.68 L421.80 175.40 L422.76 175.11 L423.72 174.82 L424.67 174.52 L425.63 174.21 L426.58 173.89 L427.53 173.57 L428.47 173.24 L429.41 172.91 L430.35 172.56 L431.29 172.21 L432.23 171.85 L433.16 171.49 L434.09 171.11 L435.01 170.73 L435.93 170.34 L436.85 169.94 L437.77 169.54 L438.68 169.12 L439.59 168.70 L440.49 168.27 L441.39 167.83 L442.29 167.39 L443.18 166.94 L444.07 166.47 L444.95 166.01 L445.83 165.53 L446.71 165.05 L447.58 164.55 L448.45 164.05 L449.31 163.55 L450.17 163.03 L451.02 162.51 L451.87 161.98 L452.72 161.44 L453.56 160.90 L454.40 160.35 L455.23 159.79 L456.05 159.23 L456.88 158.66 L457.69 158.08 L458.51 157.49 L459.31 156.90 L460.12 156.31 L460.92 155.70 L461.71 155.09 L462.50 154.48 L463.28 153.86 L464.06 153.23 L464.84 152.60 L465.61 151.96 L466.38 151.32 L467.14 150.67 L467.90 150.01 L468.65 149.36 L469.40 148.69 L470.15 148.02 L470.89 147.35 L471.63 146.67 L472.36 145.99 L473.09 145.31 L473.82 144.62 L474.54 143.92 L475.26 143.23 L475.97 142.52 L476.68 141.82 L477.39 141.11 L478.09 140.40 L478.79 139.68 L479.49 138.97 L480.18 138.24 L480.87 137.52 L481.56 136.79 L482.24 136.06 L482.92 135.33 L483.60 134.59 L484.28 133.85 L484.95 133.11 L485.62 132.37 L486.29 131.62 L486.95 130.87 L487.62 130.12 L488.28 129.37 L488.94 128.62 L489.59 127.86 L490.25 127.10 L490.90 126.34 L491.55 125.58 L492.20 124.82 L492.84 124.06 L493.49 123.29 L494.13 122.52 L494.77 121.75 L495.41 120.98 L496.05 120.21 L496.69 119.44 L497.32 118.67 L497.96 117.90 L498.59 117.12 L499.23 116.35 L499.86 115.57 L500.49 114.79 L501.12 114.01 L501.75 113.24 L502.38 112.46 L503.01 111.68 L503.63 110.90 L504.26 110.12 L504.89 109.34 L505.52 108.56 L506.14 107.78 L506.77 107.00 L507.39 106.21 L508.02 105.43 L508.65 104.65 L509.27 103.87 L509.90 103.09 L510.53 102.31 L511.16 101.53 L511.78 100.75 L512.41 99.97 L513.04 99.20 L513.67 98.42 L514.30 97.64 L514.93 96.86 L515.57 96.09 L516.20 95.31 L516.83 94.54 L517.47 93.76 L518.11 92.99 L518.75 92.22 L519.38 91.45 L520.03 90.68 L520.67 89.91 L521.31 89.15 L521.96 88.38 L522.60 87.62 L523.25 86.86 L523.90 86.10 L524.56 85.34 L525.21 84.58 L525.87 83.83 L526.53 83.07 L527.19 82.32 L527.85 81.57 L528.52 80.82 L529.19 80.08 L529.86 79.34 L530.53 78.60 L531.21 77.86 L531.89 77.12 L532.57 76.39 L533.26 75.66 L533.94 74.93 L534.64 74.21 L535.33 73.49 L536.03 72.77 L536.73 72.06 L537.43 71.34 L538.14 70.64 L538.85 69.93 L539.56 69.23 L540.28 68.53 L541.00 67.84 L541.73 67.15 L542.46 66.46 L543.19 65.78 L543.93 65.10 L544.67 64.43 L545.42 63.76 L546.16 63.10 L546.92 62.44 L547.68 61.79 L548.44 61.14 L549.20 60.49 L549.97 59.85 L550.75 59.22 L551.53 58.59 L552.31 57.97 L553.10 57.35 L553.89 56.74 L554.69 56.13 L555.49 55.53 L556.29 54.94 L557.10 54.35 L557.92 53.77 L558.74 53.19 L559.56 52.62 L560.39 52.06 L561.22 51.50 L562.06 50.95 L562.90 50.41 L563.74 49.88 L564.59 49.35 L565.45 48.83 L566.31 48.31 L567.17 47.80 L568.04 47.30 L568.91 46.81 L569.79 46.33 L570.67 45.85 L571.55 45.38 L572.44 44.92 L573.33 44.46 L574.22 44.01 L575.12 43.57 L576.02 43.14 L576.93 42.72 L577.84 42.30 L578.75 41.89 L579.67 41.49 L580.59 41.09 L581.51 40.70 L582.44 40.32 L583.37 39.95 L584.30 39.59 L585.24 39.23 L586.17 38.88 L587.11 38.53 L588.06 38.20 L589.00 37.87 L589.95 37.55 L590.90 37.23 L591.85 36.92 L592.81 36.62 L593.76 36.33 L594.72 36.04 L595.68 35.76 L596.65 35.48 L597.61 35.22 L598.58 34.95 L599.54 34.70 L600.51 34.45 L601.48 34.20 L602.46 33.97 L603.43 33.73 L604.40 33.51 L605.38 33.28 L606.36 33.07 L607.34 32.86 L608.32 32.65 L609.30 32.45 L610.28 32.26 L611.26 32.07 L612.25 31.88 L613.23 31.70 L614.22 31.52 L615.20 31.35 L616.19 31.18 L617.18 31.02 L618.16 30.86 L619.15 30.71 L620.14 30.56 L621.13 30.41 L622.12 30.27 L623.12 30.13 L624.11 29.99 L625.10 29.86 L626.09 29.73 L627.09 29.60 L628.08 29.48 L629.07 29.36 L630.07 29.25 L631.06 29.13 L632.06 29.02 L633.05 28.92 L634.05 28.81 L635.04 28.71 L636.04 28.61 L637.04 28.51 L638.03 28.42 L639.03 28.33 L640.03 28.24 L641.02 28.15 L642.02 28.07 L643.02 27.98 L644.02 27.90 L645.01 27.83 L646.01 27.75 L647.01 27.68 L648.01 27.60 L649.01 27.53 L650.01 27.46 L651.00 27.40 L652.00 27.33 L653.00 27.27 L654.00 27.21 L655.00 27.14 L656.00 27.09 L657.00 27.03 L658.00 26.97 L659.00 26.92 L660.00 26.86 L661.00 26.81 L662.00 26.76 L663.00 26.71 L664.00 26.66 L665.00 26.62 L666.00 26.57 L667.00 26.53 L668.00 26.48 L669.00 26.44 L670.00 26.40 L671.00 26.36 L672.00 26.32 L673.00 26.28 L674.00 26.24 L675.00 26.20 L676.00 26.17 L677.00 26.13 L678.00 26.10 L679.00 26.06" stroke="#ff0000" stroke-width="1.60" stroke-linecap="butt" stroke-dasharray="4.6 1.1 1.5 1.1"/>
<path d="M405.40 176.10 L406.06 175.34 L406.73 174.61 L407.43 173.89 L408.15 173.19 L408.88 172.51 L409.63 171.85 L410.39 171.20 L411.16 170.56 L411.94 169.93 L412.73 169.32 L413.52 168.71 L414.31 168.10 L415.11 167.50 L415.91 166.90 L416.71 166.29 L417.50 165.69 L418.30 165.08 L419.09 164.46 L419.87 163.84 L420.65 163.21 L421.42 162.58 L422.18 161.93 L422.94 161.27 L423.68 160.61 L424.42 159.93 L425.15 159.25 L425.87 158.55 L426.58 157.85 L427.28 157.14 L427.97 156.41 L428.66 155.68 L429.33 154.94 L429.99 154.19 L430.65 153.44 L431.29 152.67 L431.93 151.90 L432.55 151.12 L433.17 150.34 L433.79 149.55 L434.39 148.75 L434.99 147.94 L435.57 147.14 L436.16 146.32 L436.73 145.50 L437.30 144.68 L437.86 143.86 L438.42 143.02 L438.97 142.19 L439.52 141.35 L440.06 140.51 L440.59 139.67 L441.12 138.82 L441.65 137.97 L442.17 137.11 L442.69 136.26 L443.20 135.40 L443.71 134.54 L444.22 133.68 L444.72 132.81 L445.22 131.95 L445.72 131.08 L446.21 130.21 L446.71 129.34 L447.20 128.47 L447.68 127.59 L448.17 126.72 L448.65 125.84 L449.13 124.96 L449.61 124.08 L450.08 123.21 L450.56 122.33 L451.03 121.44 L451.50 120.56 L451.98 119.68 L452.44 118.80 L452.91 117.91 L453.38 117.03 L453.85 116.14 L454.31 115.26 L454.78 114.37 L455.24 113.49 L455.71 112.60 L456.17 111.72 L456.63 110.83 L457.09 109.94 L457.56 109.05 L458.02 108.17 L458.48 107.28 L458.94 106.39 L459.40 105.51 L459.87 104.62 L460.33 103.73 L460.79 102.84 L461.25 101.96 L461.72 101.07 L462.18 100.19 L462.64 99.30 L463.11 98.41 L463.57 97.53 L464.04 96.64 L464.50 95.76 L464.97 94.87 L465.44 93.99 L465.91 93.11 L466.38 92.22 L466.85 91.34 L467.32 90.46 L467.79 89.58 L468.27 88.70 L468.74 87.82 L469.22 86.94 L469.70 86.06 L470.18 85.18 L470.66 84.30 L471.14 83.43 L471.62 82.55 L472.11 81.68 L472.60 80.80 L473.09 79.93 L473.58 79.06 L474.07 78.19 L474.57 77.32 L475.07 76.46 L475.57 75.59 L476.07 74.72 L476.57 73.86 L477.08 73.00 L477.59 72.14 L478.11 71.28 L478.62 70.43 L479.14 69.57 L479.67 68.72 L480.19 67.87 L480.72 67.02 L481.26 66.17 L481.79 65.33 L482.34 64.49 L482.88 63.65 L483.43 62.82 L483.99 61.98 L484.54 61.15 L485.11 60.33 L485.68 59.51 L486.25 58.69 L486.83 57.87 L487.42 57.06 L488.01 56.25 L488.61 55.45 L489.21 54.65 L489.82 53.86 L490.44 53.07 L491.06 52.29 L491.69 51.52 L492.33 50.75 L492.98 49.99 L493.64 49.23 L494.30 48.48 L494.97 47.74 L495.65 47.01 L496.34 46.29 L497.04 45.57 L497.75 44.87 L498.47 44.17 L499.20 43.49 L499.94 42.82 L500.69 42.16 L501.45 41.51 L502.22 40.87 L503.01 40.24 L503.80 39.63 L504.60 39.04 L505.41 38.45 L506.24 37.89 L507.07 37.33 L507.91 36.80 L508.77 36.27 L509.63 35.77 L510.50 35.28 L511.38 34.80 L512.27 34.35 L513.17 33.90 L514.07 33.48 L514.99 33.07 L515.90 32.67 L516.83 32.29 L517.76 31.93 L518.70 31.58 L519.64 31.24 L520.59 30.92 L521.54 30.61 L522.49 30.31 L523.45 30.03 L524.41 29.76 L525.38 29.50 L526.35 29.25 L527.32 29.01 L528.30 28.79 L529.27 28.57 L530.25 28.36 L531.23 28.16 L532.21 27.97 L533.19 27.79 L534.18 27.61 L535.17 27.44 L536.15 27.28 L537.14 27.13 L538.13 26.98 L539.12 26.84 L540.11 26.70 L541.10 26.57 L542.09 26.44 L543.09 26.32 L544.08 26.20 L545.07 26.09 L546.07 25.98 L547.06 25.88 L548.06 25.78 L549.05 25.68 L550.05 25.59 L551.05 25.50 L552.04 25.41 L553.04 25.32 L554.04 25.24 L555.03 25.16 L556.03 25.09 L557.03 25.01 L558.02 24.94 L559.02 24.87 L560.02 24.80 L561.02 24.74 L562.02 24.68 L563.02 24.62 L564.01 24.56 L565.01 24.50 L566.01 24.44 L567.01 24.39 L568.01 24.33 L569.01 24.28 L570.01 24.23 L571.00 24.18 L572.00 24.14 L573.00 24.09 L574.00 24.04 L575.00 24.00 L576.00 23.96 L577.00 23.92 L578.00 23.88 L579.00 23.84 L580.00 23.80 L581.00 23.76 L582.00 23.72 L583.00 23.69 L584.00 23.65 L585.00 23.62 L586.00 23.59 L587.00 23.55 L587.99 23.52 L588.99 23.49 L589.99 23.46 L590.99 23.43 L591.99 23.40 L592.99 23.37 L593.99 23.34 L594.99 23.32 L595.99 23.29 L596.99 23.27 L597.99 23.24 L598.99 23.21 L599.99 23.19 L600.99 23.17 L601.99 23.14 L602.99 23.12 L603.99 23.10 L604.99 23.08 L605.99 23.05 L606.99 23.03 L607.99 23.01 L608.99 22.99 L609.99 22.97 L610.99 22.95 L611.99 22.94 L612.99 22.92 L613.99 22.90 L614.99 22.88 L615.99 22.86 L616.99 22.85 L617.99 22.83 L618.99 22.81 L619.99 22.80 L620.99 22.78 L621.99 22.76 L622.99 22.75 L623.99 22.73 L624.99 22.72 L625.99 22.70 L626.99 22.69 L627.99 22.68 L628.99 22.66 L629.99 22.65 L630.99 22.64 L631.99 22.62 L632.99 22.61 L633.99 22.60 L634.99 22.59 L635.99 22.57 L636.99 22.56 L637.99 22.55 L638.99 22.54 L639.99 22.53 L640.99 22.52 L641.99 22.50 L642.99 22.49 L643.99 22.48 L644.99 22.47 L645.99 22.46 L647.00 22.45 L648.00 22.44 L649.00 22.43 L650.00 22.42 L651.00 22.41 L652.00 22.41 L653.00 22.40 L654.00 22.39 L655.00 22.38 L656.00 22.37 L657.00 22.36 L658.00 22.35 L659.00 22.35 L660.00 22.34 L661.00 22.33 L662.00 22.32 L663.00 22.31 L664.00 22.31 L665.00 22.30 L666.00 22.29 L667.00 22.28 L668.00 22.28 L669.00 22.27 L670.00 22.26 L671.00 22.26 L672.00 22.25 L673.00 22.24 L674.00 22.24 L675.00 22.23 L676.00 22.22 L677.00 22.22 L678.00 22.21 L679.00 22.21" stroke="#ff00ff" stroke-width="1.50" stroke-linecap="butt"/>
<path d="M405.40 178.85 L405.95 178.02 L406.39 177.12 L406.69 176.17 L406.93 175.19 L407.14 174.22 L407.33 173.23 L407.51 172.25 L407.70 171.27 L407.91 170.29 L408.13 169.31 L408.38 168.34 L408.67 167.38 L409.00 166.44 L409.38 165.52 L409.80 164.61 L410.26 163.72 L410.74 162.84 L411.23 161.97 L411.73 161.10 L412.23 160.24 L412.74 159.37 L413.24 158.51 L413.74 157.64 L414.23 156.77 L414.72 155.90 L415.21 155.02 L415.69 154.15 L416.17 153.27 L416.64 152.39 L417.11 151.50 L417.58 150.62 L418.03 149.73 L418.49 148.84 L418.94 147.94 L419.38 147.05 L419.82 146.15 L420.26 145.25 L420.69 144.34 L421.12 143.44 L421.54 142.53 L421.96 141.62 L422.38 140.71 L422.79 139.80 L423.20 138.89 L423.60 137.97 L424.01 137.06 L424.40 136.14 L424.80 135.22 L425.19 134.30 L425.58 133.38 L425.96 132.45 L426.34 131.53 L426.72 130.60 L427.10 129.67 L427.47 128.75 L427.84 127.82 L428.21 126.89 L428.58 125.96 L428.94 125.02 L429.31 124.09 L429.67 123.16 L430.02 122.22 L430.38 121.29 L430.74 120.35 L431.09 119.42 L431.44 118.48 L431.79 117.54 L432.14 116.60 L432.48 115.67 L432.83 114.73 L433.17 113.79 L433.52 112.85 L433.86 111.91 L434.20 110.97 L434.54 110.02 L434.88 109.08 L435.21 108.14 L435.55 107.20 L435.89 106.26 L436.23 105.31 L436.56 104.37 L436.90 103.43 L437.23 102.49 L437.57 101.54 L437.90 100.60 L438.24 99.66 L438.57 98.71 L438.91 97.77 L439.24 96.83 L439.58 95.89 L439.91 94.94 L440.25 94.00 L440.58 93.06 L440.92 92.12 L441.26 91.17 L441.60 90.23 L441.94 89.29 L442.28 88.35 L442.62 87.41 L442.96 86.47 L443.30 85.53 L443.65 84.59 L443.99 83.65 L444.34 82.71 L444.69 81.78 L445.04 80.84 L445.39 79.90 L445.75 78.97 L446.10 78.03 L446.46 77.10 L446.82 76.16 L447.18 75.23 L447.55 74.30 L447.92 73.37 L448.29 72.44 L448.66 71.51 L449.04 70.59 L449.42 69.66 L449.80 68.74 L450.19 67.81 L450.58 66.89 L450.98 65.97 L451.38 65.05 L451.78 64.14 L452.19 63.22 L452.60 62.31 L453.01 61.40 L453.44 60.50 L453.86 59.59 L454.30 58.69 L454.73 57.79 L455.18 56.89 L455.63 56.00 L456.09 55.11 L456.55 54.22 L457.02 53.34 L457.50 52.46 L457.99 51.59 L458.49 50.72 L458.99 49.86 L459.50 49.00 L460.02 48.14 L460.56 47.29 L461.10 46.45 L461.65 45.62 L462.21 44.79 L462.79 43.97 L463.37 43.16 L463.97 42.36 L464.58 41.57 L465.20 40.78 L465.84 40.01 L466.49 39.25 L467.16 38.50 L467.84 37.77 L468.53 37.05 L469.24 36.34 L469.96 35.65 L470.70 34.97 L471.45 34.31 L472.22 33.67 L473.00 33.05 L473.80 32.45 L474.61 31.86 L475.44 31.30 L476.28 30.76 L477.14 30.24 L478.00 29.74 L478.88 29.26 L479.77 28.80 L480.67 28.36 L481.58 27.95 L482.50 27.56 L483.43 27.18 L484.37 26.83 L485.31 26.49 L486.26 26.18 L487.21 25.88 L488.17 25.60 L489.14 25.34 L490.11 25.09 L491.08 24.86 L492.06 24.64 L493.04 24.44 L494.02 24.25 L495.01 24.07 L495.99 23.90 L496.98 23.74 L497.97 23.60 L498.96 23.46 L499.95 23.33 L500.95 23.21 L501.94 23.10 L502.94 22.99 L503.93 22.89 L504.93 22.80 L505.92 22.71 L506.92 22.63 L507.92 22.56 L508.92 22.49 L509.92 22.42 L510.92 22.36 L511.91 22.30 L512.91 22.25 L513.91 22.20 L514.91 22.15 L515.91 22.10 L516.91 22.06 L517.91 22.02 L518.91 21.99 L519.91 21.95 L520.91 21.92 L521.91 21.89 L522.91 21.86 L523.91 21.83 L524.91 21.81 L525.91 21.78 L526.91 21.76 L527.91 21.74 L528.91 21.72 L529.91 21.70 L530.91 21.68 L531.91 21.66 L532.91 21.65 L533.92 21.63 L534.92 21.62 L535.92 21.60 L536.92 21.59 L537.92 21.58 L538.92 21.56 L539.92 21.55 L540.92 21.54 L541.92 21.53 L542.92 21.52 L543.92 21.51 L544.92 21.50 L545.92 21.50 L546.92 21.49 L547.92 21.48 L548.92 21.47 L549.92 21.47 L550.92 21.46 L551.93 21.45 L552.93 21.45 L553.93 21.44 L554.93 21.44 L555.93 21.43 L556.93 21.42 L557.93 21.42 L558.93 21.42 L559.93 21.41 L560.93 21.41 L561.93 21.40 L562.93 21.40 L563.93 21.39 L564.93 21.39 L565.93 21.39 L566.93 21.38 L567.93 21.38 L568.93 21.38 L569.94 21.37 L570.94 21.37 L571.94 21.37 L572.94 21.36 L573.94 21.36 L574.94 21.36 L575.94 21.35 L576.94 21.35 L577.94 21.35 L578.94 21.35 L579.94 21.34 L580.94 21.34 L581.94 21.34 L582.94 21.34 L583.94 21.34 L584.94 21.33 L585.94 21.33 L586.95 21.33 L587.95 21.33 L588.95 21.33 L589.95 21.32 L590.95 21.32 L591.95 21.32 L592.95 21.32 L593.95 21.32 L594.95 21.32 L595.95 21.31 L596.95 21.31 L597.95 21.31 L598.95 21.31 L599.95 21.31 L600.95 21.31 L601.95 21.30 L602.95 21.30 L603.96 21.30 L604.96 21.30 L605.96 21.30 L606.96 21.30 L607.96 21.30 L608.96 21.30 L609.96 21.30 L610.96 21.29 L611.96 21.29 L612.96 21.29 L613.96 21.29 L614.96 21.29 L615.96 21.29 L616.96 21.29 L617.96 21.29 L618.96 21.29 L619.97 21.28 L620.97 21.28 L621.97 21.28 L622.97 21.28 L623.97 21.28 L624.97 21.28 L625.97 21.28 L626.97 21.28 L627.97 21.28 L628.97 21.28 L629.97 21.28 L630.97 21.28 L631.97 21.28 L632.97 21.27 L633.97 21.27 L634.97 21.27 L635.97 21.27 L636.98 21.27 L637.98 21.27 L638.98 21.27 L639.98 21.27 L640.98 21.27 L641.98 21.27 L642.98 21.27 L643.98 21.27 L644.98 21.27 L645.98 21.27 L646.98 21.27 L647.98 21.27 L648.98 21.26 L649.98 21.26 L650.98 21.26 L651.98 21.26 L652.98 21.26 L653.99 21.26 L654.99 21.26 L655.99 21.26 L656.99 21.26 L657.99 21.26 L658.99 21.26 L659.99 21.26 L660.99 21.26 L661.99 21.26 L662.99 21.26 L663.99 21.26 L664.99 21.26 L665.99 21.26 L666.99 21.26 L667.99 21.26 L668.99 21.26 L669.99 21.26 L671.00 21.26 L672.00 21.26 L673.00 21.25 L674.00 21.25 L675.00 21.25 L676.00 21.25 L677.00 21.25 L678.00 21.25 L679.00 21.25" stroke="#00ff00" stroke-width="2.10" stroke-linecap="butt" stroke-dasharray="1.8 1.5"/>
<path d="M405.40 187.30L405.85 174.52M405.40 176.02 L405.58 175.43 L405.76 174.54 L405.95 173.38 L406.04 172.74 L406.13 172.05 L406.22 171.34 L406.31 170.61 L406.40 169.86 L406.49 169.10 L406.58 168.34 L406.67 167.59 L406.77 166.84 L406.86 166.10 L406.95 165.37 L407.04 164.65 L407.13 163.95 L407.22 163.26 L407.31 162.60 L407.40 161.95 L407.49 161.31 L407.58 160.70 L407.68 160.10 L407.86 158.96 L408.04 157.88 L408.22 156.86 L408.40 155.90 L408.59 154.98 L408.77 154.11 L408.95 153.28 L409.13 152.49 L409.31 151.73 L409.50 151.00 L409.68 150.30 L409.86 149.62 L410.04 148.95 L410.22 148.31 L410.41 147.68 L410.59 147.07 L410.77 146.47 L410.95 145.88 L411.14 145.29 L411.32 144.72 L411.59 143.88 L411.86 143.04 L412.14 142.22 L412.41 141.41 L412.68 140.61 L412.96 139.81 L413.23 139.01 L413.50 138.22 L413.78 137.42 L414.05 136.63 L414.32 135.84 L414.59 135.05 L414.87 134.25 L415.14 133.46 L415.41 132.66 L415.69 131.85 L415.96 131.05 L416.23 130.24 L416.51 129.42 L416.78 128.60 L417.05 127.78 L417.33 126.95 L417.60 126.12 L417.87 125.28 L418.14 124.44 L418.42 123.59 L418.69 122.73 L418.87 122.16 L419.05 121.59 L419.24 121.01 L419.42 120.43 L419.60 119.85 L419.78 119.26 L419.97 118.68 L420.15 118.09 L420.33 117.50 L420.51 116.90 L420.69 116.31 L420.88 115.71 L421.06 115.11 L421.24 114.50 L421.42 113.90 L421.60 113.29 L421.79 112.68 L421.97 112.07 L422.15 111.45 L422.33 110.84 L422.51 110.22 L422.70 109.60 L422.88 108.98 L423.06 108.35 L423.24 107.73 L423.42 107.10 L423.61 106.47 L423.79 105.84 L423.97 105.21 L424.15 104.58 L424.33 103.94 L424.52 103.30 L424.70 102.67 L424.88 102.03 L425.06 101.39 L425.25 100.75 L425.43 100.10 L425.61 99.46 L425.79 98.82 L425.97 98.17 L426.16 97.52 L426.34 96.88 L426.52 96.23 L426.70 95.58 L426.88 94.94 L427.07 94.29 L427.25 93.64 L427.43 92.99 L427.61 92.34 L427.79 91.69 L427.98 91.05 L428.16 90.40 L428.34 89.75 L428.52 89.10 L428.70 88.45 L428.89 87.81 L429.07 87.16 L429.25 86.52 L429.43 85.87 L429.61 85.23 L429.80 84.59 L429.98 83.95 L430.16 83.31 L430.34 82.67 L430.53 82.03 L430.71 81.39 L430.89 80.76 L431.07 80.13 L431.25 79.50 L431.44 78.87 L431.62 78.24 L431.80 77.61 L431.98 76.99 L432.16 76.37 L432.35 75.75 L432.53 75.14 L432.71 74.52 L432.89 73.91 L433.07 73.30 L433.26 72.70 L433.44 72.09 L433.62 71.49 L433.80 70.89 L433.98 70.30 L434.17 69.71 L434.35 69.12 L434.53 68.53 L434.71 67.95 L434.89 67.37 L435.08 66.80 L435.26 66.23 L435.53 65.37 L435.81 64.53 L436.08 63.70 L436.35 62.87 L436.62 62.05 L436.90 61.24 L437.17 60.44 L437.44 59.65 L437.72 58.87 L437.99 58.10 L438.26 57.33 L438.54 56.58 L438.81 55.84 L439.08 55.10 L439.36 54.38 L439.63 53.67 L439.90 52.96 L440.17 52.27 L440.45 51.59 L440.72 50.91 L440.99 50.25 L441.27 49.60 L441.54 48.96 L441.81 48.32 L442.09 47.70 L442.36 47.09 L442.63 46.49 L442.91 45.90 L443.18 45.32 L443.45 44.74 L443.73 44.18 L444.00 43.63 L444.27 43.09 L444.64 42.39 L445.00 41.70 L445.36 41.03 L445.73 40.37 L446.09 39.74 L446.46 39.12 L446.82 38.51 L447.18 37.92 L447.55 37.35 L447.91 36.80 L448.28 36.26 L448.64 35.73 L449.00 35.22 L449.37 34.73 L449.73 34.24 L450.19 33.66 L450.64 33.10 L451.10 32.56 L451.55 32.04 L452.01 31.54 L452.46 31.06 L452.92 30.60 L453.37 30.16 L453.83 29.73 L454.28 29.32 L454.74 28.93 L455.29 28.48 L455.83 28.05 L456.38 27.64 L456.92 27.25 L457.47 26.88 L458.02 26.53 L458.56 26.19 L459.11 25.87 L459.66 25.57 L460.20 25.29 L460.75 25.01 L461.29 24.76 L461.93 24.47 L462.57 24.20 L463.21 23.95 L463.84 23.71 L464.48 23.49 L465.12 23.28 L465.76 23.09 L466.39 22.90 L467.03 22.73 L467.67 22.56 L468.30 22.41 L468.94 22.27 L469.58 22.13 L470.22 22.01 L470.85 21.89 L471.49 21.77 L472.13 21.67 L472.76 21.57 L473.40 21.48 L474.04 21.39 L474.68 21.31 L475.31 21.23 L475.95 21.16 L476.59 21.09 L477.23 21.03 L477.86 20.97 L478.50 20.91 L479.14 20.86 L479.77 20.81 L480.41 20.77 L481.05 20.72 L481.69 20.68 L482.32 20.64 L482.96 20.61 L483.60 20.57 L484.23 20.54 L484.87 20.51 L485.51 20.48 L486.15 20.45 L486.78 20.43 L487.42 20.41 L488.06 20.38 L488.70 20.36 L489.33 20.34 L489.97 20.32 L490.61 20.31 L491.24 20.29 L491.88 20.27 L492.52 20.26 L493.16 20.25 L493.79 20.23 L494.43 20.22 L495.07 20.21 L495.71 20.20 L496.34 20.19 L496.98 20.18 L497.62 20.17 L498.25 20.16 L498.89 20.15 L499.53 20.15 L500.17 20.14 L500.80 20.13 L501.44 20.12 L502.08 20.12 L502.71 20.11 L503.35 20.11 L503.99 20.10 L504.63 20.10 L505.26 20.09 L505.90 20.09 L506.54 20.08 L507.18 20.08 L507.81 20.08 L508.45 20.07 L509.09 20.07 L509.72 20.06 L510.36 20.06 L511.00 20.06 L511.64 20.06 L512.27 20.05 L512.91 20.05 L513.55 20.05 L514.18 20.05 L514.82 20.04 L515.46 20.04 L516.10 20.04 L516.73 20.04 L517.37 20.04 L518.01 20.03 L518.65 20.03 L519.28 20.03 L519.92 20.03 L520.56 20.03 L521.19 20.03 L521.83 20.02 L522.47 20.02 L523.11 20.02 L523.74 20.02 L524.38 20.02 L525.02 20.02 L525.66 20.02 L526.29 20.02 L526.93 20.01 L527.57 20.01 L528.20 20.01 L528.84 20.01 L529.48 20.01 L530.12 20.01 L530.75 20.01 L531.39 20.01 L532.03 20.01 L532.66 20.01 L533.30 20.01 L533.94 20.01 L534.58 20.01 L535.21 20.00 L535.85 20.00 L536.49 20.00 L537.13 20.00 L537.76 20.00 L538.40 20.00 L539.04 20.00 L539.67 20.00 L540.31 20.00 L540.95 20.00 L541.59 20.00 L542.22 20.00 L542.86 20.00 L543.50 20.00 L544.13 20.00 L544.77 20.00 L545.41 20.00 L546.05 20.00 L546.68 20.00 L547.32 20.00 L547.96 19.99 L548.60 19.99 L549.23 19.99 L549.87 19.99 L550.51 19.99 L551.14 19.99 L551.78 19.99 L552.42 19.99 L553.06 19.99 L553.69 19.99 L554.33 19.99 L554.97 19.99 L555.60 19.99 L556.24 19.99 L556.88 19.99 L557.52 19.99 L558.15 19.99 L558.79 19.99 L559.43 19.99 L560.07 19.99 L560.70 19.99 L561.34 19.99 L561.98 19.99 L562.61 19.99 L563.25 19.99 L563.89 19.99 L564.53 19.99 L565.16 19.99 L565.80 19.99 L566.44 19.99 L567.08 19.99 L567.71 19.99 L568.35 19.99 L568.99 19.99 L569.62 19.99 L570.26 19.99 L570.90 19.99 L571.54 19.99 L572.17 19.99 L572.81 19.99 L573.45 19.99 L574.08 19.99 L574.72 19.99 L575.36 19.99 L576.00 19.99 L576.63 19.98 L577.27 19.98 L577.91 19.98 L578.55 19.98 L579.18 19.98 L579.82 19.98 L580.46 19.98 L581.09 19.98 L581.73 19.98 L582.37 19.98 L583.01 19.98 L583.64 19.98 L584.28 19.98 L584.92 19.98 L585.55 19.98 L586.19 19.98 L586.83 19.98 L587.47 19.98 L588.10 19.98 L588.74 19.98 L589.38 19.98 L590.02 19.98 L590.65 19.98 L591.29 19.98 L591.93 19.98 L592.56 19.98 L593.20 19.98 L593.84 19.98 L594.48 19.98 L595.11 19.98 L595.75 19.98 L596.39 19.98 L597.03 19.98 L597.66 19.98 L598.30 19.98 L598.94 19.98 L599.57 19.98 L600.21 19.98 L600.85 19.98 L601.49 19.98 L602.12 19.98 L602.76 19.98 L603.40 19.98 L604.03 19.98 L604.67 19.98 L605.31 19.98 L605.95 19.98 L606.58 19.98 L607.22 19.98 L607.86 19.98 L608.50 19.98 L609.13 19.98 L609.77 19.98 L610.41 19.98 L611.04 19.98 L611.68 19.98 L612.32 19.98 L612.96 19.98 L613.59 19.98 L614.23 19.98 L614.87 19.98 L615.50 19.98 L616.14 19.98 L616.78 19.98 L617.42 19.98 L618.05 19.98 L618.69 19.98 L619.33 19.98 L619.97 19.98 L620.60 19.98 L621.24 19.98 L621.88 19.98 L622.51 19.98 L623.15 19.98 L623.79 19.98 L624.43 19.98 L625.06 19.98 L625.70 19.98 L626.34 19.98 L626.98 19.98 L627.61 19.98 L628.25 19.98 L628.89 19.98 L629.52 19.98 L630.16 19.98 L630.80 19.98 L631.44 19.98 L632.07 19.98 L632.71 19.98 L633.35 19.98 L633.98 19.98 L634.62 19.98 L635.26 19.98 L635.90 19.98 L636.53 19.98 L637.17 19.98 L637.81 19.98 L638.45 19.98 L639.08 19.98 L639.72 19.98 L640.36 19.98 L640.99 19.98 L641.63 19.98 L642.27 19.98 L642.91 19.98 L643.54 19.98 L644.18 19.98 L644.82 19.98 L645.45 19.98 L646.09 19.98 L646.73 19.98 L647.37 19.98 L648.00 19.98 L648.64 19.98 L649.28 19.98 L649.92 19.98 L650.55 19.98 L651.19 19.98 L651.83 19.98 L652.46 19.98 L653.10 19.98 L653.74 19.98 L654.38 19.98 L655.01 19.98 L655.65 19.98 L656.29 19.98 L656.93 19.98 L657.56 19.98 L658.20 19.98 L658.84 19.98 L659.47 19.98 L660.11 19.98 L660.75 19.98 L661.39 19.98 L662.02 19.98 L662.66 19.98 L663.30 19.98 L663.93 19.98 L664.57 19.98 L665.21 19.98 L665.85 19.98 L666.48 19.98 L667.12 19.98 L667.76 19.98 L668.40 19.98 L669.03 19.98 L669.67 19.98 L670.31 19.98 L670.94 19.98 L671.58 19.98 L672.22 19.98 L672.86 19.98 L673.49 19.98 L674.13 19.98 L674.77 19.98 L675.40 19.98 L676.04 19.98 L676.68 19.98 L677.32 19.98 L677.95 19.98 L678.59 19.98 L678.96 19.98" stroke="#0000ff" stroke-width="2.10" stroke-linecap="round"/>
</g>
<text transform="translate(405.40 197.80) scale(1.120 1)" font-size="7.60" text-anchor="middle" fill="#262626">0</text>
<text transform="translate(450.92 197.80) scale(1.120 1)" font-size="7.60" text-anchor="middle" fill="#262626">50</text>
<text transform="translate(496.43 197.80) scale(1.120 1)" font-size="7.60" text-anchor="middle" fill="#262626">100</text>
<text transform="translate(541.95 197.80) scale(1.120 1)" font-size="7.60" text-anchor="middle" fill="#262626">150</text>
<text transform="translate(587.47 197.80) scale(1.120 1)" font-size="7.60" text-anchor="middle" fill="#262626">200</text>
<text transform="translate(632.98 197.80) scale(1.120 1)" font-size="7.60" text-anchor="middle" fill="#262626">250</text>
<text transform="translate(678.50 197.80) scale(1.120 1)" font-size="7.60" text-anchor="middle" fill="#262626">300</text>
<text transform="translate(401.40 190.40) scale(1.120 1)" font-size="7.60" text-anchor="end" fill="#262626">0</text>
<text transform="translate(401.40 160.57) scale(1.120 1)" font-size="7.60" text-anchor="end" fill="#262626">0.2</text>
<text transform="translate(401.40 130.73) scale(1.120 1)" font-size="7.60" text-anchor="end" fill="#262626">0.4</text>
<text transform="translate(401.40 100.90) scale(1.120 1)" font-size="7.60" text-anchor="end" fill="#262626">0.6</text>
<text transform="translate(401.40 71.07) scale(1.120 1)" font-size="7.60" text-anchor="end" fill="#262626">0.8</text>
<text transform="translate(401.40 41.23) scale(1.120 1)" font-size="7.60" text-anchor="end" fill="#262626">1</text>
<text transform="translate(401.40 11.40) scale(1.120 1)" font-size="7.60" text-anchor="end" fill="#262626">1.2</text>
<text transform="translate(541.95 207.30) scale(1.160 1)" font-size="7.90" text-anchor="middle" fill="#262626">Time(days)</text>
<text transform="translate(384.60 97.80) rotate(-90) scale(1 1.200)" font-size="7.70" text-anchor="middle" fill="#262626">M(t)</text>
<text transform="translate(541.95 6.30) scale(1.120 1)" font-size="8.10" text-anchor="middle" fill="#262626">(b)</text>
<rect x="595.40" y="48.30" width="56.30" height="43.90" fill="#ffffff" stroke="#8f8f8f" stroke-width="1.2"/>
<path d="M598.00 53.70H623.20" stroke="#000000" stroke-width="1.60" stroke-linecap="butt" stroke-dasharray="4.8 4.1" fill="none"/>
<text transform="translate(625.00 56.50) scale(1.120 1)" font-size="6.90" text-anchor="start" fill="#262626"><tspan font-family="Liberation Serif" font-style="italic">&#945;</tspan>=0.60</text>
<path d="M598.00 62.00H623.20" stroke="#ff0000" stroke-width="1.60" stroke-linecap="butt" stroke-dasharray="4.6 1.1 1.5 1.1" fill="none"/>
<text transform="translate(625.00 64.80) scale(1.120 1)" font-size="6.90" text-anchor="start" fill="#262626"><tspan font-family="Liberation Serif" font-style="italic">&#945;</tspan>=0.70</text>
<path d="M598.00 70.30H623.20" stroke="#ff00ff" stroke-width="1.50" stroke-linecap="butt" fill="none"/>
<text transform="translate(625.00 73.10) scale(1.120 1)" font-size="6.90" text-anchor="start" fill="#262626"><tspan font-family="Liberation Serif" font-style="italic">&#945;</tspan>=0.80</text>
<path d="M598.00 78.70H623.20" stroke="#00ff00" stroke-width="2.10" stroke-linecap="butt" stroke-dasharray="1.8 1.5" fill="none"/>
<text transform="translate(625.00 81.50) scale(1.120 1)" font-size="6.90" text-anchor="start" fill="#262626"><tspan font-family="Liberation Serif" font-style="italic">&#945;</tspan>=0.90</text>
<rect x="610.05" y="86.50" width="1.7" height="1.7" fill="#3c3cff"/>
<text transform="translate(625.00 89.90) scale(1.120 1)" font-size="6.90" text-anchor="start" fill="#262626"><tspan font-family="Liberation Serif" font-style="italic">&#945;</tspan>=1</text>
<rect x="31.50" y="229.40" width="272.60" height="179.20" fill="none" stroke="#8c8c8c" stroke-width="1"/>
<path d="M31.50 408.60V405.90M31.50 229.40V232.10M76.93 408.60V405.90M76.93 229.40V232.10M122.37 408.60V405.90M122.37 229.40V232.10M167.80 408.60V405.90M167.80 229.40V232.10M213.23 408.60V405.90M213.23 229.40V232.10M258.67 408.60V405.90M258.67 229.40V232.10M304.10 408.60V405.90M304.10 229.40V232.10M31.50 408.60H34.20M304.10 408.60H301.40M31.50 348.87H34.20M304.10 348.87H301.40M31.50 289.13H34.20M304.10 289.13H301.40M31.50 229.40H34.20M304.10 229.40H301.40" stroke="#8c8c8c" stroke-width="0.8" fill="none"/>
<clipPath id="cpc"><rect x="31.00" y="227.80" width="273.80" height="181.40"/></clipPath>
<g clip-path="url(#cpc)" fill="none" stroke-linejoin="round">
<path d="M31.50 408.60 L31.55 407.58 L31.60 406.56 L31.64 405.54 L31.69 404.52 L31.74 403.50 L31.79 402.48 L31.84 401.46 L31.88 400.45 L31.93 399.43 L31.98 398.41 L32.03 397.39 L32.08 396.37 L32.12 395.35 L32.17 394.33 L32.22 393.31 L32.27 392.29 L32.32 391.27 L32.36 390.25 L32.41 389.23 L32.46 388.21 L32.51 387.19 L32.56 386.17 L32.61 385.16 L32.65 384.14 L32.70 383.12 L32.75 382.10 L32.80 381.08 L32.85 380.06 L32.89 379.04 L32.94 378.02 L32.99 377.00 L33.04 375.98 L33.09 374.96 L33.13 373.94 L33.18 372.92 L33.23 371.90 L33.28 370.88 L33.33 369.87 L33.37 368.85 L33.42 367.83 L33.47 366.81 L33.52 365.79 L33.57 364.77 L33.61 363.75 L33.66 362.73 L33.71 361.71 L33.76 360.69 L33.81 359.67 L33.85 358.65 L33.90 357.63 L33.95 356.61 L34.17 355.64 L34.41 354.67 L34.68 353.70 L34.96 352.74 L35.27 351.79 L35.61 350.85 L35.97 349.92 L36.35 348.99 L36.76 348.08 L37.19 347.17 L37.64 346.28 L38.12 345.41 L38.63 344.54 L39.16 343.70 L39.72 342.86 L40.30 342.05 L40.91 341.25 L41.54 340.48 L42.19 339.72 L42.87 338.99 L43.57 338.27 L44.30 337.58 L45.04 336.91 L45.81 336.27 L46.59 335.65 L47.40 335.06 L48.22 334.48 L49.05 333.94 L49.91 333.41 L50.77 332.91 L51.65 332.43 L52.54 331.97 L53.44 331.53 L54.34 331.11 L55.26 330.71 L56.19 330.33 L57.12 329.96 L58.05 329.61 L59.00 329.27 L59.94 328.95 L60.90 328.64 L61.85 328.35 L62.81 328.06 L63.77 327.79 L64.74 327.52 L65.70 327.27 L66.67 327.02 L67.65 326.79 L68.62 326.55 L69.59 326.33 L70.57 326.11 L71.55 325.90 L72.53 325.70 L73.51 325.50 L74.49 325.30 L75.47 325.11 L76.45 324.92 L77.44 324.74 L78.42 324.56 L79.41 324.39 L80.39 324.21 L81.38 324.04 L82.37 323.87 L83.35 323.71 L84.34 323.55 L85.33 323.38 L86.31 323.22 L87.30 323.07 L88.29 322.91 L89.28 322.76 L90.27 322.60 L91.26 322.45 L92.25 322.30 L93.23 322.15 L94.22 322.00 L95.21 321.85 L96.20 321.70 L97.19 321.55 L98.18 321.40 L99.17 321.25 L100.16 321.11 L101.15 320.96 L102.14 320.81 L103.13 320.66 L104.12 320.52 L105.11 320.37 L106.10 320.22 L107.09 320.07 L108.08 319.93 L109.07 319.78 L110.06 319.63 L111.04 319.48 L112.03 319.33 L113.02 319.18 L114.01 319.03 L115.00 318.88 L115.99 318.73 L116.98 318.58 L117.97 318.42 L118.96 318.27 L119.94 318.11 L120.93 317.96 L121.92 317.80 L122.91 317.65 L123.90 317.49 L124.89 317.33 L125.87 317.17 L126.86 317.01 L127.85 316.85 L128.84 316.68 L129.82 316.52 L130.81 316.36 L131.80 316.19 L132.78 316.02 L133.77 315.86 L134.75 315.69 L135.74 315.52 L136.73 315.35 L137.71 315.17 L138.70 315.00 L139.68 314.83 L140.67 314.65 L141.65 314.47 L142.64 314.30 L143.62 314.12 L144.60 313.93 L145.59 313.75 L146.57 313.57 L147.56 313.38 L148.54 313.20 L149.52 313.01 L150.50 312.82 L151.49 312.63 L152.47 312.44 L153.45 312.25 L154.43 312.05 L155.41 311.86 L156.39 311.66 L157.37 311.46 L158.35 311.26 L159.33 311.06 L160.31 310.86 L161.29 310.65 L162.27 310.45 L163.25 310.24 L164.23 310.03 L165.21 309.82 L166.19 309.61 L167.16 309.39 L168.14 309.18 L169.12 308.96 L170.09 308.74 L171.07 308.52 L172.04 308.30 L173.02 308.08 L174.00 307.86 L174.97 307.63 L175.94 307.40 L176.92 307.18 L177.89 306.94 L178.87 306.71 L179.84 306.48 L180.81 306.24 L181.78 306.01 L182.75 305.77 L183.73 305.53 L184.70 305.29 L185.67 305.05 L186.64 304.80 L187.61 304.56 L188.58 304.31 L189.55 304.06 L190.51 303.81 L191.48 303.56 L192.45 303.30 L193.42 303.05 L194.39 302.79 L195.35 302.54 L196.32 302.28 L197.28 302.01 L198.25 301.75 L199.21 301.49 L200.18 301.22 L201.14 300.96 L202.11 300.69 L203.07 300.42 L204.03 300.15 L205.00 299.87 L205.96 299.60 L206.92 299.32 L207.88 299.05 L208.84 298.77 L209.80 298.49 L210.76 298.21 L211.72 297.93 L212.68 297.64 L213.64 297.36 L214.60 297.07 L215.56 296.78 L216.52 296.50 L217.48 296.21 L218.43 295.92 L219.39 295.62 L220.35 295.33 L221.30 295.03 L222.26 294.74 L223.21 294.44 L224.17 294.14 L225.12 293.84 L226.08 293.54 L227.03 293.24 L227.99 292.94 L228.94 292.64 L229.89 292.33 L230.84 292.03 L231.80 291.72 L232.75 291.42 L233.70 291.11 L234.65 290.80 L235.60 290.49 L236.56 290.18 L237.51 289.87 L238.46 289.56 L239.41 289.25 L240.36 288.93 L241.31 288.62 L242.26 288.30 L243.21 287.99 L244.16 287.67 L245.11 287.36 L246.06 287.04 L247.00 286.73 L247.95 286.41 L248.90 286.09 L249.85 285.77 L250.80 285.45 L251.75 285.14 L252.70 284.82 L253.64 284.50 L254.59 284.18 L255.54 283.86 L256.49 283.54 L257.44 283.22 L258.39 282.90 L259.33 282.58 L260.28 282.26 L261.23 281.94 L262.18 281.62 L263.13 281.30 L264.07 280.99 L265.02 280.67 L265.97 280.35 L266.92 280.03 L267.87 279.71 L268.82 279.40 L269.77 279.08 L270.72 278.76 L271.66 278.45 L272.61 278.13 L273.56 277.82 L274.51 277.50 L275.46 277.19 L276.41 276.87 L277.36 276.56 L278.32 276.25 L279.27 275.94 L280.22 275.63 L281.17 275.32 L282.12 275.01 L283.07 274.71 L284.03 274.40 L284.98 274.09 L285.93 273.79 L286.89 273.49 L287.84 273.18 L288.79 272.88 L289.75 272.58 L290.70 272.29 L291.66 271.99 L292.61 271.69 L293.57 271.40 L294.53 271.11 L295.48 270.82 L296.44 270.53 L297.40 270.24 L298.36 269.95 L299.32 269.67 L300.28 269.38 L301.24 269.10 L302.20 268.82 L303.16 268.54 L304.12 268.26 L304.60 268.12" stroke="#000000" stroke-width="1.60" stroke-linecap="butt" stroke-dasharray="4.8 4.1"/>
<path d="M31.50 408.60 L31.54 407.59 L31.57 406.58 L31.61 405.56 L31.65 404.55 L31.69 403.54 L31.72 402.53 L31.76 401.51 L31.80 400.50 L31.84 399.49 L31.87 398.48 L31.91 397.47 L31.95 396.45 L31.99 395.44 L32.02 394.43 L32.06 393.42 L32.10 392.41 L32.14 391.39 L32.17 390.38 L32.21 389.37 L32.25 388.36 L32.29 387.34 L32.32 386.33 L32.36 385.32 L32.40 384.31 L32.43 383.30 L32.47 382.28 L32.51 381.27 L32.55 380.26 L32.58 379.25 L32.62 378.24 L32.66 377.22 L32.70 376.21 L32.73 375.20 L32.77 374.19 L32.81 373.17 L32.85 372.16 L32.88 371.15 L32.92 370.14 L32.96 369.13 L33.00 368.11 L33.03 367.10 L33.07 366.09 L33.11 365.08 L33.15 364.07 L33.18 363.05 L33.22 362.04 L33.26 361.03 L33.30 360.02 L33.33 359.00 L33.37 357.99 L33.41 356.98 L33.51 355.98 L33.61 354.99 L33.73 354.00 L33.85 353.00 L33.98 352.01 L34.12 351.02 L34.26 350.03 L34.42 349.04 L34.60 348.06 L34.78 347.07 L34.98 346.09 L35.19 345.12 L35.42 344.14 L35.67 343.18 L35.94 342.21 L36.24 341.26 L36.55 340.31 L36.89 339.37 L37.26 338.44 L37.66 337.52 L38.09 336.61 L38.55 335.73 L39.04 334.86 L39.56 334.00 L40.12 333.17 L40.71 332.36 L41.33 331.58 L41.98 330.82 L42.65 330.08 L43.36 329.37 L44.08 328.68 L44.83 328.01 L45.60 327.37 L46.38 326.75 L47.18 326.15 L48.00 325.57 L48.83 325.01 L49.66 324.47 L50.51 323.94 L51.37 323.42 L52.24 322.92 L53.11 322.44 L53.99 321.96 L54.88 321.49 L55.77 321.04 L56.66 320.59 L57.56 320.15 L58.46 319.72 L59.37 319.30 L60.28 318.88 L61.19 318.46 L62.10 318.06 L63.02 317.65 L63.93 317.25 L64.85 316.85 L65.77 316.46 L66.69 316.07 L67.61 315.68 L68.54 315.29 L69.46 314.91 L70.38 314.52 L71.31 314.14 L72.23 313.76 L73.16 313.38 L74.08 312.99 L75.01 312.61 L75.93 312.23 L76.85 311.85 L77.78 311.47 L78.70 311.08 L79.63 310.70 L80.55 310.31 L81.47 309.92 L82.39 309.53 L83.31 309.14 L84.23 308.75 L85.15 308.35 L86.07 307.96 L86.99 307.56 L87.90 307.16 L88.82 306.75 L89.73 306.35 L90.65 305.94 L91.56 305.52 L92.47 305.11 L93.38 304.69 L94.28 304.27 L95.19 303.85 L96.10 303.42 L97.00 302.99 L97.90 302.56 L98.80 302.12 L99.70 301.69 L100.60 301.24 L101.49 300.80 L102.39 300.35 L103.28 299.90 L104.17 299.44 L105.06 298.98 L105.95 298.52 L106.83 298.05 L107.71 297.58 L108.60 297.11 L109.48 296.64 L110.35 296.16 L111.23 295.67 L112.11 295.19 L112.98 294.70 L113.85 294.21 L114.72 293.71 L115.59 293.21 L116.45 292.71 L117.31 292.21 L118.18 291.70 L119.04 291.19 L119.90 290.68 L120.75 290.16 L121.61 289.64 L122.46 289.12 L123.32 288.60 L124.17 288.07 L125.02 287.54 L125.86 287.01 L126.71 286.48 L127.56 285.95 L128.40 285.41 L129.24 284.87 L130.08 284.33 L130.93 283.79 L131.77 283.25 L132.61 282.70 L133.44 282.16 L134.28 281.61 L135.12 281.06 L135.95 280.51 L136.79 279.96 L137.63 279.41 L138.46 278.86 L139.30 278.31 L140.13 277.76 L140.97 277.21 L141.80 276.66 L142.64 276.11 L143.47 275.56 L144.31 275.01 L145.15 274.46 L145.98 273.92 L146.82 273.37 L147.66 272.83 L148.50 272.28 L149.34 271.74 L150.19 271.20 L151.03 270.66 L151.87 270.13 L152.72 269.60 L153.57 269.07 L154.42 268.54 L155.27 268.02 L156.13 267.49 L156.98 266.98 L157.84 266.46 L158.70 265.95 L159.56 265.44 L160.43 264.94 L161.29 264.44 L162.16 263.95 L163.04 263.46 L163.91 262.98 L164.79 262.50 L165.67 262.02 L166.55 261.55 L167.44 261.09 L168.33 260.63 L169.22 260.18 L170.12 259.73 L171.02 259.29 L171.92 258.86 L172.82 258.43 L173.73 258.01 L174.64 257.59 L175.55 257.19 L176.47 256.78 L177.39 256.39 L178.31 256.00 L179.23 255.62 L180.16 255.24 L181.09 254.88 L182.03 254.52 L182.96 254.16 L183.90 253.82 L184.84 253.48 L185.78 253.14 L186.73 252.82 L187.68 252.50 L188.63 252.19 L189.58 251.88 L190.54 251.58 L191.49 251.29 L192.45 251.00 L193.41 250.73 L194.37 250.45 L195.34 250.19 L196.30 249.93 L197.27 249.67 L198.24 249.43 L199.21 249.18 L200.18 248.95 L201.16 248.72 L202.13 248.49 L203.11 248.27 L204.09 248.06 L205.06 247.85 L206.04 247.65 L207.02 247.45 L208.00 247.25 L208.99 247.06 L209.97 246.88 L210.95 246.70 L211.94 246.52 L212.92 246.35 L213.91 246.18 L214.90 246.02 L215.88 245.86 L216.87 245.70 L217.86 245.55 L218.85 245.40 L219.84 245.25 L220.83 245.11 L221.82 244.97 L222.81 244.83 L223.80 244.70 L224.79 244.57 L225.79 244.44 L226.78 244.32 L227.77 244.19 L228.77 244.07 L229.76 243.96 L230.75 243.84 L231.75 243.73 L232.74 243.62 L233.74 243.51 L234.73 243.41 L235.72 243.30 L236.72 243.20 L237.72 243.10 L238.71 243.00 L239.71 242.91 L240.70 242.81 L241.70 242.72 L242.69 242.63 L243.69 242.54 L244.69 242.45 L245.68 242.36 L246.68 242.28 L247.68 242.20 L248.67 242.11 L249.67 242.03 L250.67 241.95 L251.67 241.88 L252.66 241.80 L253.66 241.72 L254.66 241.65 L255.66 241.57 L256.65 241.50 L257.65 241.43 L258.65 241.36 L259.65 241.29 L260.65 241.22 L261.64 241.16 L262.64 241.09 L263.64 241.02 L264.64 240.96 L265.64 240.90 L266.64 240.83 L267.63 240.77 L268.63 240.71 L269.63 240.65 L270.63 240.59 L271.63 240.53 L272.63 240.47 L273.63 240.42 L274.62 240.36 L275.62 240.30 L276.62 240.25 L277.62 240.19 L278.62 240.14 L279.62 240.09 L280.62 240.03 L281.62 239.98 L282.62 239.93 L283.61 239.88 L284.61 239.83 L285.61 239.78 L286.61 239.73 L287.61 239.68 L288.61 239.63 L289.61 239.58 L290.61 239.53 L291.61 239.49 L292.61 239.44 L293.61 239.39 L294.61 239.35 L295.61 239.30 L296.60 239.26 L297.60 239.22 L298.60 239.17 L299.60 239.13 L300.60 239.08 L301.60 239.04 L302.60 239.00 L303.60 238.96 L304.60 238.92" stroke="#ff0000" stroke-width="1.60" stroke-linecap="butt" stroke-dasharray="4.6 1.1 1.5 1.1"/>
<path d="M31.50 408.60 L31.53 407.59 L31.56 406.57 L31.58 405.56 L31.61 404.55 L31.64 403.53 L31.67 402.52 L31.69 401.51 L31.72 400.50 L31.75 399.48 L31.78 398.47 L31.81 397.46 L31.83 396.44 L31.86 395.43 L31.89 394.42 L31.92 393.40 L31.94 392.39 L31.97 391.38 L32.00 390.36 L32.03 389.35 L32.06 388.34 L32.08 387.33 L32.11 386.31 L32.14 385.30 L32.17 384.29 L32.19 383.27 L32.22 382.26 L32.25 381.25 L32.28 380.23 L32.31 379.22 L32.33 378.21 L32.36 377.20 L32.39 376.18 L32.42 375.17 L32.44 374.16 L32.47 373.14 L32.50 372.13 L32.53 371.12 L32.56 370.10 L32.58 369.09 L32.61 368.08 L32.64 367.06 L32.67 366.05 L32.69 365.04 L32.72 364.03 L32.75 363.01 L32.78 362.00 L32.81 360.99 L32.83 359.97 L32.86 358.96 L32.89 357.95 L32.92 356.93 L32.98 355.94 L33.05 354.94 L33.12 353.94 L33.20 352.94 L33.29 351.94 L33.38 350.95 L33.47 349.95 L33.58 348.95 L33.69 347.96 L33.80 346.97 L33.93 345.97 L34.07 344.98 L34.21 343.99 L34.37 343.00 L34.54 342.02 L34.72 341.03 L34.91 340.05 L35.12 339.07 L35.34 338.09 L35.58 337.12 L35.84 336.15 L36.11 335.19 L36.40 334.23 L36.71 333.28 L37.04 332.34 L37.38 331.40 L37.75 330.47 L38.14 329.54 L38.54 328.63 L38.97 327.72 L39.42 326.83 L39.89 325.94 L40.37 325.07 L40.88 324.20 L41.40 323.35 L41.94 322.51 L42.50 321.68 L43.08 320.86 L43.67 320.05 L44.27 319.26 L44.90 318.47 L45.53 317.70 L46.18 316.94 L46.84 316.19 L47.51 315.44 L48.20 314.71 L48.89 313.99 L49.59 313.28 L50.30 312.57 L51.02 311.88 L51.75 311.19 L52.48 310.50 L53.22 309.83 L53.96 309.15 L54.70 308.49 L55.45 307.83 L56.21 307.17 L56.96 306.51 L57.72 305.86 L58.48 305.21 L59.24 304.56 L60.01 303.91 L60.77 303.26 L61.53 302.61 L62.30 301.96 L63.06 301.32 L63.82 300.67 L64.58 300.02 L65.34 299.36 L66.10 298.71 L66.85 298.05 L67.61 297.40 L68.36 296.74 L69.11 296.08 L69.86 295.41 L70.61 294.74 L71.35 294.07 L72.09 293.40 L72.83 292.73 L73.57 292.05 L74.30 291.37 L75.04 290.69 L75.77 290.00 L76.49 289.32 L77.22 288.63 L77.94 287.93 L78.66 287.24 L79.38 286.54 L80.10 285.85 L80.81 285.15 L81.53 284.44 L82.24 283.74 L82.95 283.04 L83.66 282.33 L84.37 281.62 L85.08 280.91 L85.78 280.21 L86.49 279.50 L87.19 278.79 L87.90 278.08 L88.61 277.37 L89.31 276.66 L90.02 275.95 L90.72 275.24 L91.43 274.53 L92.14 273.82 L92.85 273.11 L93.56 272.41 L94.27 271.71 L94.98 271.01 L95.70 270.31 L96.42 269.61 L97.14 268.91 L97.86 268.22 L98.59 267.53 L99.32 266.85 L100.05 266.16 L100.78 265.49 L101.52 264.81 L102.27 264.14 L103.02 263.48 L103.77 262.82 L104.52 262.16 L105.29 261.51 L106.05 260.87 L106.82 260.23 L107.60 259.60 L108.38 258.97 L109.17 258.35 L109.96 257.74 L110.76 257.14 L111.57 256.55 L112.38 255.96 L113.19 255.38 L114.02 254.81 L114.85 254.25 L115.68 253.70 L116.53 253.16 L117.37 252.63 L118.23 252.11 L119.09 251.60 L119.96 251.10 L120.83 250.62 L121.71 250.14 L122.60 249.67 L123.49 249.22 L124.39 248.77 L125.29 248.34 L126.20 247.92 L127.11 247.52 L128.03 247.12 L128.96 246.73 L129.88 246.36 L130.82 246.00 L131.76 245.65 L132.70 245.31 L133.64 244.98 L134.59 244.66 L135.55 244.36 L136.50 244.06 L137.46 243.78 L138.42 243.50 L139.39 243.24 L140.36 242.98 L141.33 242.73 L142.30 242.50 L143.27 242.27 L144.25 242.05 L145.23 241.84 L146.21 241.64 L147.19 241.44 L148.17 241.25 L149.16 241.07 L150.14 240.90 L151.13 240.73 L152.12 240.58 L153.11 240.42 L154.10 240.28 L155.09 240.13 L156.08 240.00 L157.07 239.87 L158.07 239.74 L159.06 239.62 L160.05 239.51 L161.05 239.40 L162.04 239.29 L163.04 239.19 L164.04 239.09 L165.03 239.00 L166.03 238.90 L167.03 238.82 L168.02 238.73 L169.02 238.65 L170.02 238.58 L171.02 238.50 L172.02 238.43 L173.01 238.36 L174.01 238.29 L175.01 238.23 L176.01 238.17 L177.01 238.11 L178.01 238.05 L179.01 238.00 L180.01 237.94 L181.01 237.89 L182.01 237.84 L183.01 237.80 L184.01 237.75 L185.01 237.71 L186.01 237.66 L187.01 237.62 L188.01 237.58 L189.01 237.54 L190.01 237.51 L191.01 237.47 L192.01 237.44 L193.01 237.40 L194.01 237.37 L195.01 237.34 L196.01 237.31 L197.01 237.28 L198.01 237.25 L199.01 237.22 L200.01 237.20 L201.01 237.17 L202.01 237.15 L203.01 237.12 L204.01 237.10 L205.01 237.07 L206.02 237.05 L207.02 237.03 L208.02 237.01 L209.02 236.99 L210.02 236.97 L211.02 236.95 L212.02 236.93 L213.02 236.91 L214.02 236.90 L215.02 236.88 L216.02 236.86 L217.02 236.85 L218.02 236.83 L219.02 236.81 L220.03 236.80 L221.03 236.78 L222.03 236.77 L223.03 236.76 L224.03 236.74 L225.03 236.73 L226.03 236.72 L227.03 236.70 L228.03 236.69 L229.03 236.68 L230.03 236.67 L231.03 236.66 L232.04 236.64 L233.04 236.63 L234.04 236.62 L235.04 236.61 L236.04 236.60 L237.04 236.59 L238.04 236.58 L239.04 236.57 L240.04 236.56 L241.04 236.55 L242.04 236.55 L243.04 236.54 L244.05 236.53 L245.05 236.52 L246.05 236.51 L247.05 236.50 L248.05 236.50 L249.05 236.49 L250.05 236.48 L251.05 236.47 L252.05 236.47 L253.05 236.46 L254.05 236.45 L255.06 236.44 L256.06 236.44 L257.06 236.43 L258.06 236.43 L259.06 236.42 L260.06 236.41 L261.06 236.41 L262.06 236.40 L263.06 236.39 L264.06 236.39 L265.06 236.38 L266.07 236.38 L267.07 236.37 L268.07 236.37 L269.07 236.36 L270.07 236.36 L271.07 236.35 L272.07 236.35 L273.07 236.34 L274.07 236.34 L275.07 236.33 L276.07 236.33 L277.08 236.32 L278.08 236.32 L279.08 236.31 L280.08 236.31 L281.08 236.31 L282.08 236.30 L283.08 236.30 L284.08 236.29 L285.08 236.29 L286.08 236.28 L287.08 236.28 L288.09 236.28 L289.09 236.27 L290.09 236.27 L291.09 236.27 L292.09 236.26 L293.09 236.26 L294.09 236.26 L295.09 236.25 L296.09 236.25 L297.09 236.25 L298.09 236.24 L299.10 236.24 L300.10 236.24 L301.10 236.23 L302.10 236.23 L303.10 236.23 L304.10 236.22 L304.60 236.22" stroke="#ff00ff" stroke-width="1.50" stroke-linecap="butt"/>
<path d="M31.50 408.60 L31.53 407.59 L31.57 406.58 L31.60 405.57 L31.64 404.56 L31.67 403.55 L31.71 402.54 L31.74 401.53 L31.78 400.52 L31.81 399.51 L31.85 398.50 L31.88 397.49 L31.92 396.48 L31.95 395.47 L31.99 394.46 L32.02 393.45 L32.06 392.44 L32.09 391.43 L32.13 390.42 L32.16 389.41 L32.20 388.40 L32.23 387.39 L32.27 386.38 L32.30 385.37 L32.34 384.36 L32.37 383.35 L32.41 382.34 L32.44 381.33 L32.48 380.32 L32.51 379.31 L32.55 378.30 L32.58 377.29 L32.62 376.28 L32.65 375.27 L32.69 374.26 L32.72 373.25 L32.76 372.24 L32.79 371.23 L32.83 370.22 L32.86 369.21 L32.90 368.20 L32.93 367.19 L32.97 366.17 L33.00 365.16 L33.04 364.15 L33.07 363.14 L33.11 362.13 L33.14 361.12 L33.18 360.11 L33.21 359.10 L33.25 358.09 L33.28 357.08 L33.32 356.08 L33.38 355.08 L33.43 354.08 L33.49 353.08 L33.54 352.08 L33.60 351.08 L33.66 350.09 L33.73 349.09 L33.79 348.09 L33.86 347.09 L33.93 346.09 L34.00 345.10 L34.07 344.10 L34.15 343.10 L34.23 342.10 L34.31 341.11 L34.40 340.11 L34.49 339.11 L34.58 338.12 L34.68 337.12 L34.78 336.13 L34.88 335.13 L35.00 334.14 L35.11 333.14 L35.23 332.15 L35.36 331.16 L35.49 330.17 L35.63 329.18 L35.78 328.19 L35.93 327.20 L36.09 326.21 L36.27 325.22 L36.45 324.24 L36.64 323.26 L36.84 322.28 L37.06 321.30 L37.28 320.33 L37.53 319.36 L37.78 318.39 L38.06 317.43 L38.35 316.47 L38.65 315.52 L38.98 314.57 L39.32 313.63 L39.69 312.70 L40.07 311.78 L40.48 310.86 L40.91 309.96 L41.35 309.07 L41.82 308.18 L42.31 307.31 L42.81 306.44 L43.33 305.59 L43.87 304.74 L44.42 303.91 L44.98 303.08 L45.55 302.26 L46.13 301.44 L46.72 300.64 L47.32 299.83 L47.92 299.03 L48.52 298.23 L49.12 297.43 L49.73 296.64 L50.33 295.84 L50.94 295.05 L51.55 294.25 L52.15 293.45 L52.75 292.65 L53.35 291.85 L53.95 291.05 L54.55 290.25 L55.14 289.44 L55.74 288.64 L56.33 287.83 L56.91 287.02 L57.50 286.21 L58.08 285.39 L58.66 284.58 L59.24 283.76 L59.81 282.94 L60.39 282.12 L60.96 281.30 L61.53 280.48 L62.10 279.66 L62.67 278.84 L63.24 278.02 L63.81 277.19 L64.38 276.37 L64.95 275.55 L65.52 274.72 L66.09 273.90 L66.66 273.08 L67.23 272.26 L67.80 271.44 L68.38 270.62 L68.96 269.81 L69.54 268.99 L70.12 268.18 L70.71 267.37 L71.30 266.56 L71.90 265.76 L72.50 264.96 L73.10 264.16 L73.71 263.37 L74.32 262.58 L74.94 261.79 L75.57 261.01 L76.20 260.24 L76.84 259.47 L77.49 258.71 L78.14 257.95 L78.81 257.20 L79.48 256.46 L80.16 255.72 L80.85 255.00 L81.55 254.28 L82.25 253.58 L82.97 252.88 L83.70 252.19 L84.44 251.52 L85.19 250.86 L85.95 250.21 L86.73 249.58 L87.51 248.96 L88.31 248.35 L89.11 247.76 L89.93 247.18 L90.76 246.63 L91.60 246.08 L92.46 245.56 L93.32 245.05 L94.19 244.57 L95.08 244.10 L95.97 243.64 L96.87 243.21 L97.78 242.80 L98.70 242.40 L99.63 242.02 L100.56 241.66 L101.50 241.32 L102.44 240.99 L103.40 240.68 L104.35 240.39 L105.31 240.12 L106.28 239.85 L107.25 239.61 L108.22 239.37 L109.20 239.16 L110.18 238.95 L111.16 238.75 L112.14 238.57 L113.13 238.40 L114.12 238.24 L115.10 238.09 L116.09 237.94 L117.09 237.81 L118.08 237.69 L119.07 237.57 L120.07 237.46 L121.06 237.35 L122.06 237.26 L123.05 237.17 L124.05 237.08 L125.05 237.00 L126.05 236.93 L127.04 236.86 L128.04 236.79 L129.04 236.73 L130.04 236.67 L131.04 236.62 L132.04 236.57 L133.04 236.52 L134.04 236.47 L135.04 236.43 L136.03 236.39 L137.03 236.35 L138.03 236.32 L139.03 236.28 L140.03 236.25 L141.03 236.22 L142.03 236.20 L143.03 236.17 L144.03 236.15 L145.03 236.12 L146.03 236.10 L147.03 236.08 L148.04 236.06 L149.04 236.04 L150.04 236.02 L151.04 236.01 L152.04 235.99 L153.04 235.98 L154.04 235.96 L155.04 235.95 L156.04 235.94 L157.04 235.93 L158.04 235.91 L159.04 235.90 L160.04 235.89 L161.04 235.88 L162.04 235.87 L163.04 235.86 L164.04 235.86 L165.04 235.85 L166.04 235.84 L167.04 235.83 L168.04 235.82 L169.04 235.82 L170.04 235.81 L171.04 235.80 L172.04 235.80 L173.04 235.79 L174.04 235.79 L175.04 235.78 L176.05 235.78 L177.05 235.77 L178.05 235.77 L179.05 235.76 L180.05 235.76 L181.05 235.75 L182.05 235.75 L183.05 235.74 L184.05 235.74 L185.05 235.73 L186.05 235.73 L187.05 235.73 L188.05 235.72 L189.05 235.72 L190.05 235.72 L191.05 235.71 L192.05 235.71 L193.05 235.71 L194.05 235.70 L195.05 235.70 L196.05 235.70 L197.05 235.69 L198.05 235.69 L199.06 235.69 L200.06 235.69 L201.06 235.68 L202.06 235.68 L203.06 235.68 L204.06 235.67 L205.06 235.67 L206.06 235.67 L207.06 235.67 L208.06 235.67 L209.06 235.66 L210.06 235.66 L211.06 235.66 L212.06 235.66 L213.06 235.65 L214.06 235.65 L215.06 235.65 L216.06 235.65 L217.06 235.65 L218.06 235.64 L219.06 235.64 L220.06 235.64 L221.06 235.64 L222.06 235.64 L223.07 235.63 L224.07 235.63 L225.07 235.63 L226.07 235.63 L227.07 235.63 L228.07 235.63 L229.07 235.62 L230.07 235.62 L231.07 235.62 L232.07 235.62 L233.07 235.62 L234.07 235.62 L235.07 235.61 L236.07 235.61 L237.07 235.61 L238.07 235.61 L239.07 235.61 L240.07 235.61 L241.07 235.61 L242.07 235.60 L243.07 235.60 L244.07 235.60 L245.07 235.60 L246.08 235.60 L247.08 235.60 L248.08 235.60 L249.08 235.59 L250.08 235.59 L251.08 235.59 L252.08 235.59 L253.08 235.59 L254.08 235.59 L255.08 235.59 L256.08 235.59 L257.08 235.58 L258.08 235.58 L259.08 235.58 L260.08 235.58 L261.08 235.58 L262.08 235.58 L263.08 235.58 L264.08 235.58 L265.08 235.58 L266.08 235.57 L267.08 235.57 L268.08 235.57 L269.08 235.57 L270.09 235.57 L271.09 235.57 L272.09 235.57 L273.09 235.57 L274.09 235.57 L275.09 235.56 L276.09 235.56 L277.09 235.56 L278.09 235.56 L279.09 235.56 L280.09 235.56 L281.09 235.56 L282.09 235.56 L283.09 235.56 L284.09 235.56 L285.09 235.56 L286.09 235.55 L287.09 235.55 L288.09 235.55 L289.09 235.55 L290.09 235.55 L291.09 235.55 L292.09 235.55 L293.10 235.55 L294.10 235.55 L295.10 235.55 L296.10 235.55 L297.10 235.54 L298.10 235.54 L299.10 235.54 L300.10 235.54 L301.10 235.54 L302.10 235.54 L303.10 235.54 L304.10 235.54 L304.60 235.54" stroke="#00ff00" stroke-width="2.10" stroke-linecap="butt" stroke-dasharray="1.8 1.5"/>
<path d="M31.50 408.60l0 0.01M31.59 405.33l0 0.01M31.68 402.07l0 0.01M31.77 398.80l0 0.01M31.86 395.53l0 0.01M31.95 392.27l0 0.01M32.05 389.00l0 0.01M32.14 385.74l0 0.01M32.23 382.47l0 0.01M32.32 379.20l0 0.01M32.41 375.94l0 0.01M32.50 372.67l0 0.01M32.59 369.40l0 0.01M32.68 366.14l0 0.01M32.77 362.87l0 0.01M32.86 359.60l0 0.01M32.95 356.38l0 0.01M33.04 353.75l0 0.01M33.14 351.26l0 0.01M33.23 348.91l0 0.01M33.32 346.68l0 0.01M33.41 344.57l0 0.01M33.50 342.58l0 0.01M33.59 340.70 L33.68 338.91 L33.77 337.22 L33.86 335.62 L33.95 334.11 L34.04 332.66 L34.14 331.30 L34.23 330.00 L34.32 328.76 L34.41 327.58 L34.50 326.46 L34.59 325.39 L34.68 324.36 L34.77 323.39 L34.86 322.45 L34.95 321.56 L35.04 320.70 L35.13 319.88 L35.23 319.09 L35.32 318.33 L35.41 317.60 L35.50 316.90 L35.59 316.22 L35.68 315.57 L35.77 314.94 L35.86 314.34 L36.04 313.19 L36.23 312.11 L36.41 311.10 L36.59 310.14 L36.77 309.24 L36.95 308.39 L37.13 307.58 L37.32 306.81 L37.50 306.08 L37.68 305.38 L37.86 304.71 L38.04 304.07 L38.22 303.45 L38.41 302.85 L38.59 302.28 L38.86 301.45 L39.13 300.66 L39.41 299.90 L39.68 299.17 L39.95 298.47 L40.22 297.79 L40.50 297.13 L40.77 296.49 L41.04 295.86 L41.31 295.25 L41.59 294.65 L41.86 294.07 L42.13 293.49 L42.40 292.92 L42.68 292.36 L42.95 291.81 L43.22 291.26 L43.49 290.72 L43.77 290.19 L44.13 289.48 L44.49 288.78 L44.86 288.08 L45.22 287.39 L45.58 286.70 L45.95 286.01 L46.31 285.32 L46.67 284.64 L47.04 283.96 L47.40 283.27 L47.77 282.59 L48.13 281.91 L48.49 281.22 L48.86 280.54 L49.22 279.86 L49.58 279.17 L49.95 278.49 L50.31 277.80 L50.67 277.12 L51.04 276.43 L51.40 275.74 L51.76 275.05 L52.13 274.37 L52.49 273.68 L52.85 272.99 L53.22 272.30 L53.58 271.62 L53.94 270.93 L54.31 270.25 L54.67 269.57 L55.03 268.89 L55.40 268.21 L55.76 267.54 L56.12 266.86 L56.49 266.20 L56.85 265.53 L57.22 264.87 L57.58 264.21 L57.94 263.56 L58.31 262.91 L58.67 262.27 L59.03 261.64 L59.40 261.01 L59.76 260.38 L60.12 259.77 L60.49 259.16 L60.85 258.55 L61.21 257.96 L61.58 257.37 L61.94 256.79 L62.30 256.22 L62.67 255.66 L63.03 255.10 L63.39 254.56 L63.76 254.02 L64.12 253.49 L64.48 252.98 L64.85 252.47 L65.21 251.97 L65.58 251.48 L65.94 251.00 L66.39 250.42 L66.85 249.85 L67.30 249.29 L67.76 248.75 L68.21 248.23 L68.66 247.72 L69.12 247.23 L69.57 246.75 L70.03 246.29 L70.48 245.84 L70.94 245.41 L71.39 244.99 L71.84 244.58 L72.39 244.11 L72.94 243.67 L73.48 243.24 L74.03 242.83 L74.57 242.43 L75.12 242.06 L75.66 241.70 L76.21 241.36 L76.75 241.03 L77.30 240.72 L77.84 240.43 L78.39 240.15 L78.93 239.88 L79.48 239.62 L80.11 239.34 L80.75 239.07 L81.39 238.82 L82.02 238.59 L82.66 238.37 L83.29 238.16 L83.93 237.96 L84.57 237.77 L85.20 237.60 L85.84 237.43 L86.47 237.28 L87.11 237.14 L87.75 237.00 L88.38 236.87 L89.02 236.75 L89.65 236.64 L90.29 236.53 L90.93 236.43 L91.56 236.34 L92.20 236.25 L92.84 236.16 L93.47 236.09 L94.11 236.01 L94.74 235.94 L95.38 235.88 L96.02 235.82 L96.65 235.76 L97.29 235.71 L97.92 235.65 L98.56 235.61 L99.20 235.56 L99.83 235.52 L100.47 235.48 L101.10 235.44 L101.74 235.40 L102.38 235.37 L103.01 235.34 L103.65 235.31 L104.28 235.28 L104.92 235.25 L105.56 235.23 L106.19 235.20 L106.83 235.18 L107.46 235.16 L108.10 235.14 L108.74 235.12 L109.37 235.10 L110.01 235.08 L110.64 235.07 L111.28 235.05 L111.92 235.04 L112.55 235.02 L113.19 235.01 L113.83 234.99 L114.46 234.98 L115.10 234.97 L115.73 234.96 L116.37 234.95 L117.01 234.94 L117.64 234.93 L118.28 234.92 L118.91 234.91 L119.55 234.90 L120.19 234.89 L120.82 234.89 L121.46 234.88 L122.09 234.87 L122.73 234.87 L123.37 234.86 L124.00 234.85 L124.64 234.85 L125.27 234.84 L125.91 234.83 L126.55 234.83 L127.18 234.82 L127.82 234.82 L128.45 234.81 L129.09 234.81 L129.73 234.81 L130.36 234.80 L131.00 234.80 L131.64 234.79 L132.27 234.79 L132.91 234.78 L133.54 234.78 L134.18 234.78 L134.82 234.77 L135.45 234.77 L136.09 234.77 L136.72 234.76 L137.36 234.76 L138.00 234.76 L138.63 234.76 L139.27 234.75 L139.90 234.75 L140.54 234.75 L141.18 234.74 L141.81 234.74 L142.45 234.74 L143.08 234.74 L143.72 234.73 L144.36 234.73 L144.99 234.73 L145.63 234.73 L146.26 234.73 L146.90 234.72 L147.54 234.72 L148.17 234.72 L148.81 234.72 L149.44 234.72 L150.08 234.71 L150.72 234.71 L151.35 234.71 L151.99 234.71 L152.63 234.71 L153.26 234.70 L153.90 234.70 L154.53 234.70 L155.17 234.70 L155.81 234.70 L156.44 234.70 L157.08 234.70 L157.71 234.69 L158.35 234.69 L158.99 234.69 L159.62 234.69 L160.26 234.69 L160.89 234.69 L161.53 234.69 L162.17 234.68 L162.80 234.68 L163.44 234.68 L164.07 234.68 L164.71 234.68 L165.35 234.68 L165.98 234.68 L166.62 234.68 L167.25 234.67 L167.89 234.67 L168.53 234.67 L169.16 234.67 L169.80 234.67 L170.44 234.67 L171.07 234.67 L171.71 234.67 L172.34 234.67 L172.98 234.67 L173.62 234.66 L174.25 234.66 L174.89 234.66 L175.52 234.66 L176.16 234.66 L176.80 234.66 L177.43 234.66 L178.07 234.66 L178.70 234.66 L179.34 234.66 L179.98 234.66 L180.61 234.65 L181.25 234.65 L181.88 234.65 L182.52 234.65 L183.16 234.65 L183.79 234.65 L184.43 234.65 L185.06 234.65 L185.70 234.65 L186.34 234.65 L186.97 234.65 L187.61 234.65 L188.25 234.65 L188.88 234.65 L189.52 234.64 L190.15 234.64 L190.79 234.64 L191.43 234.64 L192.06 234.64 L192.70 234.64 L193.33 234.64 L193.97 234.64 L194.61 234.64 L195.24 234.64 L195.88 234.64 L196.51 234.64 L197.15 234.64 L197.79 234.64 L198.42 234.64 L199.06 234.64 L199.69 234.63 L200.33 234.63 L200.97 234.63 L201.60 234.63 L202.24 234.63 L202.87 234.63 L203.51 234.63 L204.15 234.63 L204.78 234.63 L205.42 234.63 L206.05 234.63 L206.69 234.63 L207.33 234.63 L207.96 234.63 L208.60 234.63 L209.24 234.63 L209.87 234.63 L210.51 234.63 L211.14 234.63 L211.78 234.63 L212.42 234.62 L213.05 234.62 L213.69 234.62 L214.32 234.62 L214.96 234.62 L215.60 234.62 L216.23 234.62 L216.87 234.62 L217.50 234.62 L218.14 234.62 L218.78 234.62 L219.41 234.62 L220.05 234.62 L220.68 234.62 L221.32 234.62 L221.96 234.62 L222.59 234.62 L223.23 234.62 L223.86 234.62 L224.50 234.62 L225.14 234.62 L225.77 234.62 L226.41 234.62 L227.05 234.62 L227.68 234.62 L228.32 234.62 L228.95 234.61 L229.59 234.61 L230.23 234.61 L230.86 234.61 L231.50 234.61 L232.13 234.61 L232.77 234.61 L233.41 234.61 L234.04 234.61 L234.68 234.61 L235.31 234.61 L235.95 234.61 L236.59 234.61 L237.22 234.61 L237.86 234.61 L238.49 234.61 L239.13 234.61 L239.77 234.61 L240.40 234.61 L241.04 234.61 L241.67 234.61 L242.31 234.61 L242.95 234.61 L243.58 234.61 L244.22 234.61 L244.85 234.61 L245.49 234.61 L246.13 234.61 L246.76 234.61 L247.40 234.61 L248.04 234.61 L248.67 234.61 L249.31 234.61 L249.94 234.61 L250.58 234.61 L251.22 234.60 L251.85 234.60 L252.49 234.60 L253.12 234.60 L253.76 234.60 L254.40 234.60 L255.03 234.60 L255.67 234.60 L256.30 234.60 L256.94 234.60 L257.58 234.60 L258.21 234.60 L258.85 234.60 L259.48 234.60 L260.12 234.60 L260.76 234.60 L261.39 234.60 L262.03 234.60 L262.66 234.60 L263.30 234.60 L263.94 234.60 L264.57 234.60 L265.21 234.60 L265.85 234.60 L266.48 234.60 L267.12 234.60 L267.75 234.60 L268.39 234.60 L269.03 234.60 L269.66 234.60 L270.30 234.60 L270.93 234.60 L271.57 234.60 L272.21 234.60 L272.84 234.60 L273.48 234.60 L274.11 234.60 L274.75 234.60 L275.39 234.60 L276.02 234.60 L276.66 234.60 L277.29 234.60 L277.93 234.60 L278.57 234.60 L279.20 234.60 L279.84 234.60 L280.47 234.60 L281.11 234.60 L281.75 234.59 L282.38 234.59 L283.02 234.59 L283.66 234.59 L284.29 234.59 L284.93 234.59 L285.56 234.59 L286.20 234.59 L286.84 234.59 L287.47 234.59 L288.11 234.59 L288.74 234.59 L289.38 234.59 L290.02 234.59 L290.65 234.59 L291.29 234.59 L291.92 234.59 L292.56 234.59 L293.20 234.59 L293.83 234.59 L294.47 234.59 L295.10 234.59 L295.74 234.59 L296.38 234.59 L297.01 234.59 L297.65 234.59 L298.28 234.59 L298.92 234.59 L299.56 234.59 L300.19 234.59 L300.83 234.59 L301.46 234.59 L302.10 234.59 L302.74 234.59 L303.37 234.59 L304.01 234.59 L304.55 234.59" stroke="#0000ff" stroke-width="2.10" stroke-linecap="round"/>
</g>
<text transform="translate(31.50 419.10) scale(1.120 1)" font-size="7.60" text-anchor="middle" fill="#262626">0</text>
<text transform="translate(76.93 419.10) scale(1.120 1)" font-size="7.60" text-anchor="middle" fill="#262626">50</text>
<text transform="translate(122.37 419.10) scale(1.120 1)" font-size="7.60" text-anchor="middle" fill="#262626">100</text>
<text transform="translate(167.80 419.10) scale(1.120 1)" font-size="7.60" text-anchor="middle" fill="#262626">150</text>
<text transform="translate(213.23 419.10) scale(1.120 1)" font-size="7.60" text-anchor="middle" fill="#262626">200</text>
<text transform="translate(258.67 419.10) scale(1.120 1)" font-size="7.60" text-anchor="middle" fill="#262626">250</text>
<text transform="translate(304.10 419.10) scale(1.120 1)" font-size="7.60" text-anchor="middle" fill="#262626">300</text>
<text transform="translate(27.50 411.70) scale(1.120 1)" font-size="7.60" text-anchor="end" fill="#262626">0</text>
<text transform="translate(27.50 351.97) scale(1.120 1)" font-size="7.60" text-anchor="end" fill="#262626">0.5</text>
<text transform="translate(27.50 292.23) scale(1.120 1)" font-size="7.60" text-anchor="end" fill="#262626">1</text>
<text transform="translate(27.50 232.50) scale(1.120 1)" font-size="7.60" text-anchor="end" fill="#262626">1.5</text>
<text transform="translate(167.80 428.60) scale(1.160 1)" font-size="7.90" text-anchor="middle" fill="#262626">Time(days)</text>
<text transform="translate(11.60 319.00) rotate(-90) scale(1 1.200)" font-size="7.70" text-anchor="middle" fill="#262626">G(t)</text>
<text transform="translate(167.80 227.40) scale(1.120 1)" font-size="8.10" text-anchor="middle" fill="#262626">(c)</text>
<rect x="233.20" y="315.10" width="56.30" height="43.90" fill="#ffffff" stroke="#8f8f8f" stroke-width="1.2"/>
<path d="M235.80 320.50H261.00" stroke="#000000" stroke-width="1.60" stroke-linecap="butt" stroke-dasharray="4.8 4.1" fill="none"/>
<text transform="translate(262.80 323.30) scale(1.120 1)" font-size="6.90" text-anchor="start" fill="#262626"><tspan font-family="Liberation Serif" font-style="italic">&#945;</tspan>=0.60</text>
<path d="M235.80 328.80H261.00" stroke="#ff0000" stroke-width="1.60" stroke-linecap="butt" stroke-dasharray="4.6 1.1 1.5 1.1" fill="none"/>
<text transform="translate(262.80 331.60) scale(1.120 1)" font-size="6.90" text-anchor="start" fill="#262626"><tspan font-family="Liberation Serif" font-style="italic">&#945;</tspan>=0.70</text>
<path d="M235.80 337.10H261.00" stroke="#ff00ff" stroke-width="1.50" stroke-linecap="butt" fill="none"/>
<text transform="translate(262.80 339.90) scale(1.120 1)" font-size="6.90" text-anchor="start" fill="#262626"><tspan font-family="Liberation Serif" font-style="italic">&#945;</tspan>=0.80</text>
<path d="M235.80 345.50H261.00" stroke="#00ff00" stroke-width="2.10" stroke-linecap="butt" stroke-dasharray="1.8 1.5" fill="none"/>
<text transform="translate(262.80 348.30) scale(1.120 1)" font-size="6.90" text-anchor="start" fill="#262626"><tspan font-family="Liberation Serif" font-style="italic">&#945;</tspan>=0.90</text>
<rect x="247.85" y="353.30" width="1.7" height="1.7" fill="#3c3cff"/>
<text transform="translate(262.80 356.70) scale(1.120 1)" font-size="6.90" text-anchor="start" fill="#262626"><tspan font-family="Liberation Serif" font-style="italic">&#945;</tspan>=1</text>
<rect x="405.40" y="229.40" width="273.10" height="179.20" fill="none" stroke="#8c8c8c" stroke-width="1"/>
<path d="M405.40 408.60V405.90M405.40 229.40V232.10M450.92 408.60V405.90M450.92 229.40V232.10M496.43 408.60V405.90M496.43 229.40V232.10M541.95 408.60V405.90M541.95 229.40V232.10M587.47 408.60V405.90M587.47 229.40V232.10M632.98 408.60V405.90M632.98 229.40V232.10M678.50 408.60V405.90M678.50 229.40V232.10M405.40 408.60H408.10M678.50 408.60H675.80M405.40 372.76H408.10M678.50 372.76H675.80M405.40 336.92H408.10M678.50 336.92H675.80M405.40 301.08H408.10M678.50 301.08H675.80M405.40 265.24H408.10M678.50 265.24H675.80M405.40 229.40H408.10M678.50 229.40H675.80" stroke="#8c8c8c" stroke-width="0.8" fill="none"/>
<clipPath id="cpd"><rect x="404.90" y="227.80" width="274.30" height="181.40"/></clipPath>
<g clip-path="url(#cpd)" fill="none" stroke-linejoin="round">
<path d="M405.40 408.60 L405.44 407.59 L405.47 406.58 L405.51 405.57 L405.54 404.56 L405.58 403.54 L405.61 402.53 L405.65 401.52 L405.69 400.51 L405.72 399.50 L405.76 398.49 L405.79 397.48 L405.83 396.47 L405.87 395.46 L405.90 394.44 L405.94 393.43 L405.97 392.42 L406.01 391.41 L406.04 390.40 L406.08 389.39 L406.12 388.38 L406.15 387.37 L406.19 386.35 L406.22 385.34 L406.26 384.33 L406.30 383.32 L406.33 382.31 L406.37 381.30 L406.40 380.29 L406.44 379.28 L406.47 378.27 L406.51 377.25 L406.55 376.24 L406.58 375.23 L406.62 374.22 L406.65 373.21 L406.69 372.20 L406.72 371.19 L406.76 370.18 L406.80 369.17 L406.83 368.15 L406.87 367.14 L406.90 366.13 L406.94 365.12 L406.98 364.11 L407.01 363.10 L407.05 362.09 L407.08 361.08 L407.12 360.06 L407.15 359.05 L407.19 358.04 L407.23 357.03 L407.26 356.02 L407.30 355.01 L407.33 354.00 L407.37 352.99 L407.41 351.98 L407.47 350.98 L407.55 349.98 L407.62 348.98 L407.70 347.99 L407.78 346.99 L407.87 345.99 L407.96 345.00 L408.05 344.00 L408.15 343.01 L408.25 342.01 L408.36 341.02 L408.47 340.02 L408.59 339.03 L408.71 338.04 L408.84 337.05 L408.98 336.06 L409.12 335.07 L409.27 334.08 L409.43 333.09 L409.60 332.10 L409.78 331.12 L409.96 330.14 L410.16 329.16 L410.36 328.18 L410.58 327.20 L410.82 326.23 L411.06 325.26 L411.32 324.29 L411.59 323.33 L411.88 322.38 L412.19 321.42 L412.51 320.48 L412.86 319.54 L413.22 318.61 L413.61 317.68 L414.01 316.77 L414.44 315.87 L414.89 314.97 L415.36 314.09 L415.86 313.23 L416.39 312.37 L416.93 311.54 L417.51 310.72 L418.10 309.91 L418.72 309.13 L419.37 308.37 L420.03 307.62 L420.72 306.90 L421.43 306.19 L422.16 305.51 L422.91 304.84 L423.68 304.20 L424.46 303.58 L425.26 302.98 L426.07 302.40 L426.90 301.83 L427.74 301.29 L428.59 300.76 L429.45 300.26 L430.32 299.76 L431.20 299.29 L432.09 298.83 L432.98 298.39 L433.89 297.96 L434.80 297.54 L435.71 297.14 L436.63 296.75 L437.56 296.37 L438.49 296.01 L439.43 295.65 L440.36 295.31 L441.31 294.98 L442.25 294.65 L443.20 294.34 L444.16 294.03 L445.11 293.74 L446.07 293.45 L447.03 293.17 L447.99 292.90 L448.96 292.64 L449.92 292.38 L450.89 292.13 L451.86 291.89 L452.83 291.65 L453.81 291.42 L454.78 291.19 L455.76 290.97 L456.73 290.76 L457.71 290.55 L458.69 290.35 L459.67 290.15 L460.65 289.95 L461.63 289.76 L462.62 289.58 L463.60 289.40 L464.58 289.22 L465.57 289.05 L466.55 288.88 L467.54 288.72 L468.53 288.56 L469.52 288.40 L470.50 288.25 L471.49 288.10 L472.48 287.95 L473.47 287.80 L474.46 287.66 L475.45 287.53 L476.44 287.39 L477.43 287.26 L478.42 287.13 L479.42 287.00 L480.41 286.88 L481.40 286.76 L482.39 286.64 L483.39 286.52 L484.38 286.40 L485.37 286.29 L486.37 286.18 L487.36 286.07 L488.36 285.97 L489.35 285.86 L490.35 285.76 L491.34 285.66 L492.34 285.56 L493.33 285.47 L494.33 285.37 L495.32 285.28 L496.32 285.19 L497.32 285.10 L498.31 285.01 L499.31 284.93 L500.30 284.84 L501.30 284.76 L502.30 284.68 L503.29 284.59 L504.29 284.52 L505.29 284.44 L506.29 284.36 L507.28 284.29 L508.28 284.21 L509.28 284.14 L510.27 284.07 L511.27 284.00 L512.27 283.93 L513.27 283.86 L514.27 283.79 L515.26 283.73 L516.26 283.66 L517.26 283.60 L518.26 283.53 L519.25 283.47 L520.25 283.41 L521.25 283.35 L522.25 283.29 L523.25 283.23 L524.25 283.17 L525.24 283.11 L526.24 283.05 L527.24 282.99 L528.24 282.94 L529.24 282.88 L530.24 282.82 L531.23 282.77 L532.23 282.71 L533.23 282.66 L534.23 282.61 L535.23 282.55 L536.23 282.50 L537.23 282.44 L538.22 282.39 L539.22 282.34 L540.22 282.29 L541.22 282.23 L542.22 282.18 L543.22 282.13 L544.22 282.08 L545.22 282.02 L546.21 281.97 L547.21 281.92 L548.21 281.87 L549.21 281.81 L550.21 281.76 L551.21 281.71 L552.21 281.65 L553.20 281.60 L554.20 281.54 L555.20 281.49 L556.20 281.44 L557.20 281.38 L558.20 281.33 L559.20 281.27 L560.19 281.21 L561.19 281.16 L562.19 281.10 L563.19 281.04 L564.19 280.99 L565.19 280.93 L566.18 280.87 L567.18 280.81 L568.18 280.75 L569.18 280.69 L570.18 280.63 L571.18 280.57 L572.17 280.51 L573.17 280.45 L574.17 280.39 L575.17 280.33 L576.17 280.26 L577.16 280.20 L578.16 280.14 L579.16 280.07 L580.16 280.01 L581.16 279.95 L582.15 279.88 L583.15 279.82 L584.15 279.76 L585.15 279.69 L586.15 279.63 L587.14 279.56 L588.14 279.50 L589.14 279.43 L590.14 279.37 L591.14 279.30 L592.13 279.24 L593.13 279.17 L594.13 279.11 L595.13 279.04 L596.13 278.98 L597.12 278.91 L598.12 278.85 L599.12 278.78 L600.12 278.72 L601.11 278.65 L602.11 278.59 L603.11 278.53 L604.11 278.46 L605.11 278.40 L606.10 278.33 L607.10 278.27 L608.10 278.21 L609.10 278.14 L610.10 278.08 L611.09 278.02 L612.09 277.96 L613.09 277.89 L614.09 277.83 L615.09 277.77 L616.09 277.71 L617.08 277.65 L618.08 277.59 L619.08 277.53 L620.08 277.47 L621.08 277.41 L622.07 277.35 L623.07 277.29 L624.07 277.23 L625.07 277.17 L626.07 277.11 L627.07 277.05 L628.06 276.99 L629.06 276.94 L630.06 276.88 L631.06 276.82 L632.06 276.76 L633.06 276.71 L634.05 276.65 L635.05 276.60 L636.05 276.54 L637.05 276.48 L638.05 276.43 L639.05 276.37 L640.05 276.32 L641.04 276.27 L642.04 276.21 L643.04 276.16 L644.04 276.11 L645.04 276.05 L646.04 276.00 L647.04 275.95 L648.03 275.89 L649.03 275.84 L650.03 275.79 L651.03 275.74 L652.03 275.69 L653.03 275.64 L654.03 275.59 L655.03 275.54 L656.02 275.49 L657.02 275.44 L658.02 275.39 L659.02 275.34 L660.02 275.29 L661.02 275.24 L662.02 275.19 L663.02 275.15 L664.02 275.10 L665.01 275.05 L666.01 275.00 L667.01 274.96 L668.01 274.91 L669.01 274.86 L670.01 274.82 L671.01 274.77 L672.01 274.73 L673.01 274.68 L674.00 274.64 L675.00 274.59 L676.00 274.55 L677.00 274.50 L678.00 274.46 L679.00 274.41" stroke="#000000" stroke-width="1.60" stroke-linecap="butt" stroke-dasharray="4.8 4.1"/>
<path d="M405.40 408.60 L405.42 407.59 L405.45 406.58 L405.47 405.57 L405.49 404.56 L405.52 403.55 L405.54 402.54 L405.56 401.54 L405.59 400.53 L405.61 399.52 L405.63 398.51 L405.66 397.50 L405.68 396.49 L405.70 395.48 L405.73 394.47 L405.75 393.46 L405.77 392.45 L405.80 391.44 L405.82 390.43 L405.84 389.42 L405.87 388.41 L405.89 387.41 L405.91 386.40 L405.94 385.39 L405.96 384.38 L405.98 383.37 L406.01 382.36 L406.03 381.35 L406.05 380.34 L406.08 379.33 L406.10 378.32 L406.12 377.31 L406.15 376.30 L406.17 375.29 L406.19 374.28 L406.22 373.28 L406.24 372.27 L406.26 371.26 L406.29 370.25 L406.31 369.24 L406.33 368.23 L406.36 367.22 L406.38 366.21 L406.40 365.20 L406.43 364.19 L406.45 363.18 L406.47 362.17 L406.50 361.16 L406.52 360.16 L406.54 359.15 L406.57 358.14 L406.59 357.13 L406.61 356.12 L406.64 355.11 L406.66 354.10 L406.68 353.09 L406.71 352.08 L406.75 351.08 L406.80 350.08 L406.86 349.08 L406.92 348.08 L406.98 347.08 L407.05 346.08 L407.12 345.08 L407.19 344.08 L407.26 343.09 L407.33 342.09 L407.41 341.09 L407.49 340.09 L407.58 339.10 L407.66 338.10 L407.76 337.10 L407.85 336.11 L407.95 335.11 L408.05 334.11 L408.16 333.12 L408.27 332.12 L408.38 331.13 L408.50 330.14 L408.63 329.14 L408.76 328.15 L408.90 327.16 L409.04 326.17 L409.19 325.18 L409.35 324.19 L409.51 323.20 L409.68 322.22 L409.86 321.23 L410.05 320.25 L410.24 319.27 L410.45 318.29 L410.66 317.31 L410.89 316.34 L411.13 315.36 L411.37 314.40 L411.64 313.43 L411.91 312.47 L412.20 311.51 L412.50 310.56 L412.82 309.61 L413.16 308.66 L413.51 307.73 L413.89 306.80 L414.28 305.88 L414.69 304.97 L415.12 304.06 L415.58 303.17 L416.06 302.29 L416.56 301.43 L417.08 300.58 L417.63 299.74 L418.21 298.92 L418.81 298.12 L419.44 297.34 L420.09 296.58 L420.77 295.84 L421.47 295.13 L422.19 294.44 L422.94 293.78 L423.72 293.14 L424.51 292.53 L425.32 291.95 L426.15 291.39 L427.00 290.87 L427.87 290.36 L428.75 289.89 L429.64 289.44 L430.55 289.01 L431.46 288.60 L432.39 288.22 L433.32 287.86 L434.26 287.52 L435.21 287.20 L436.16 286.89 L437.12 286.60 L438.08 286.32 L439.05 286.05 L440.01 285.80 L440.99 285.56 L441.96 285.32 L442.93 285.09 L443.91 284.87 L444.89 284.65 L445.86 284.44 L446.84 284.24 L447.82 284.04 L448.80 283.84 L449.79 283.64 L450.77 283.45 L451.75 283.25 L452.73 283.06 L453.71 282.87 L454.70 282.69 L455.68 282.50 L456.66 282.31 L457.65 282.13 L458.63 281.95 L459.62 281.76 L460.60 281.58 L461.58 281.40 L462.57 281.22 L463.55 281.04 L464.54 280.86 L465.52 280.69 L466.51 280.51 L467.49 280.34 L468.48 280.17 L469.47 279.99 L470.45 279.82 L471.44 279.65 L472.43 279.49 L473.41 279.32 L474.40 279.16 L475.39 278.99 L476.37 278.83 L477.36 278.67 L478.35 278.51 L479.34 278.36 L480.33 278.20 L481.32 278.05 L482.31 277.90 L483.30 277.75 L484.29 277.60 L485.28 277.45 L486.27 277.31 L487.26 277.17 L488.25 277.03 L489.24 276.89 L490.23 276.75 L491.22 276.62 L492.21 276.48 L493.21 276.35 L494.20 276.22 L495.19 276.09 L496.18 275.97 L497.18 275.84 L498.17 275.72 L499.16 275.60 L500.16 275.48 L501.15 275.36 L502.15 275.24 L503.14 275.13 L504.13 275.01 L505.13 274.90 L506.12 274.79 L507.12 274.68 L508.11 274.57 L509.11 274.47 L510.10 274.36 L511.10 274.26 L512.09 274.16 L513.09 274.06 L514.09 273.96 L515.08 273.86 L516.08 273.76 L517.07 273.67 L518.07 273.57 L519.07 273.48 L520.06 273.39 L521.06 273.29 L522.06 273.20 L523.05 273.12 L524.05 273.03 L525.05 272.94 L526.05 272.86 L527.04 272.77 L528.04 272.69 L529.04 272.61 L530.03 272.53 L531.03 272.45 L532.03 272.37 L533.03 272.29 L534.03 272.21 L535.02 272.13 L536.02 272.06 L537.02 271.98 L538.02 271.91 L539.02 271.84 L540.01 271.76 L541.01 271.69 L542.01 271.62 L543.01 271.55 L544.01 271.48 L545.01 271.41 L546.00 271.35 L547.00 271.28 L548.00 271.21 L549.00 271.15 L550.00 271.08 L551.00 271.02 L552.00 270.96 L553.00 270.89 L553.99 270.83 L554.99 270.77 L555.99 270.71 L556.99 270.65 L557.99 270.59 L558.99 270.53 L559.99 270.47 L560.99 270.42 L561.99 270.36 L562.99 270.30 L563.98 270.25 L564.98 270.19 L565.98 270.14 L566.98 270.08 L567.98 270.03 L568.98 269.97 L569.98 269.92 L570.98 269.87 L571.98 269.82 L572.98 269.77 L573.98 269.71 L574.98 269.66 L575.98 269.61 L576.98 269.56 L577.98 269.52 L578.98 269.47 L579.98 269.42 L580.98 269.37 L581.98 269.32 L582.98 269.28 L583.98 269.23 L584.98 269.18 L585.97 269.14 L586.97 269.09 L587.97 269.05 L588.97 269.00 L589.97 268.96 L590.97 268.92 L591.97 268.87 L592.97 268.83 L593.97 268.79 L594.97 268.75 L595.97 268.70 L596.97 268.66 L597.97 268.62 L598.97 268.58 L599.97 268.54 L600.97 268.50 L601.97 268.46 L602.97 268.42 L603.97 268.38 L604.97 268.34 L605.97 268.30 L606.97 268.27 L607.97 268.23 L608.97 268.19 L609.97 268.15 L610.97 268.12 L611.97 268.08 L612.97 268.04 L613.97 268.01 L614.97 267.97 L615.98 267.93 L616.98 267.90 L617.98 267.86 L618.98 267.83 L619.98 267.79 L620.98 267.76 L621.98 267.73 L622.98 267.69 L623.98 267.66 L624.98 267.63 L625.98 267.59 L626.98 267.56 L627.98 267.53 L628.98 267.49 L629.98 267.46 L630.98 267.43 L631.98 267.40 L632.98 267.37 L633.98 267.34 L634.98 267.30 L635.98 267.27 L636.98 267.24 L637.98 267.21 L638.98 267.18 L639.98 267.15 L640.98 267.12 L641.98 267.09 L642.98 267.06 L643.98 267.04 L644.98 267.01 L645.98 266.98 L646.98 266.95 L647.98 266.92 L648.99 266.89 L649.99 266.86 L650.99 266.84 L651.99 266.81 L652.99 266.78 L653.99 266.75 L654.99 266.73 L655.99 266.70 L656.99 266.67 L657.99 266.65 L658.99 266.62 L659.99 266.59 L660.99 266.57 L661.99 266.54 L662.99 266.52 L663.99 266.49 L664.99 266.47 L665.99 266.44 L666.99 266.42 L667.99 266.39 L668.99 266.37 L670.00 266.34 L671.00 266.32 L672.00 266.29 L673.00 266.27 L674.00 266.24 L675.00 266.22 L676.00 266.20 L677.00 266.17 L678.00 266.15 L679.00 266.13" stroke="#ff0000" stroke-width="1.60" stroke-linecap="butt" stroke-dasharray="4.6 1.1 1.5 1.1"/>
<path d="M405.40 408.60 L405.43 407.59 L405.45 406.57 L405.48 405.56 L405.51 404.55 L405.54 403.53 L405.56 402.52 L405.59 401.51 L405.62 400.49 L405.65 399.48 L405.67 398.47 L405.70 397.46 L405.73 396.44 L405.76 395.43 L405.78 394.42 L405.81 393.40 L405.84 392.39 L405.87 391.38 L405.89 390.36 L405.92 389.35 L405.95 388.34 L405.98 387.32 L406.00 386.31 L406.03 385.30 L406.06 384.28 L406.09 383.27 L406.11 382.26 L406.14 381.25 L406.17 380.23 L406.20 379.22 L406.22 378.21 L406.25 377.19 L406.28 376.18 L406.31 375.17 L406.33 374.15 L406.36 373.14 L406.39 372.13 L406.42 371.11 L406.44 370.10 L406.47 369.09 L406.50 368.07 L406.53 367.06 L406.55 366.05 L406.58 365.03 L406.61 364.02 L406.64 363.01 L406.66 362.00 L406.69 360.98 L406.72 359.97 L406.75 358.96 L406.77 357.94 L406.80 356.93 L406.83 355.92 L406.85 354.90 L406.88 353.89 L406.91 352.88 L406.94 351.86 L406.98 350.86 L407.02 349.86 L407.06 348.86 L407.10 347.86 L407.15 346.86 L407.19 345.86 L407.24 344.86 L407.29 343.86 L407.34 342.86 L407.39 341.86 L407.44 340.86 L407.49 339.86 L407.54 338.86 L407.60 337.86 L407.66 336.86 L407.71 335.86 L407.77 334.86 L407.84 333.86 L407.90 332.87 L407.97 331.87 L408.03 330.87 L408.10 329.87 L408.17 328.87 L408.25 327.87 L408.33 326.87 L408.41 325.87 L408.49 324.88 L408.57 323.88 L408.66 322.88 L408.75 321.89 L408.85 320.89 L408.95 319.89 L409.05 318.90 L409.16 317.90 L409.27 316.91 L409.38 315.91 L409.50 314.92 L409.63 313.92 L409.76 312.93 L409.90 311.94 L410.04 310.95 L410.20 309.96 L410.36 308.97 L410.52 307.98 L410.70 307.00 L410.89 306.01 L411.08 305.03 L411.29 304.05 L411.51 303.08 L411.75 302.10 L412.00 301.13 L412.26 300.17 L412.54 299.21 L412.84 298.25 L413.16 297.30 L413.51 296.36 L413.88 295.43 L414.27 294.51 L414.69 293.60 L415.15 292.71 L415.63 291.84 L416.15 290.98 L416.70 290.15 L417.29 289.34 L417.92 288.56 L418.59 287.81 L419.28 287.09 L420.02 286.41 L420.78 285.76 L421.58 285.15 L422.40 284.58 L423.24 284.04 L424.11 283.54 L424.99 283.07 L425.89 282.62 L426.80 282.21 L427.72 281.82 L428.65 281.45 L429.59 281.10 L430.54 280.77 L431.49 280.46 L432.45 280.17 L433.41 279.89 L434.37 279.61 L435.34 279.35 L436.31 279.10 L437.28 278.86 L438.25 278.63 L439.23 278.40 L440.20 278.17 L441.18 277.95 L442.16 277.74 L443.13 277.53 L444.11 277.32 L445.09 277.11 L446.07 276.91 L447.05 276.70 L448.03 276.50 L449.01 276.30 L450.00 276.09 L450.98 275.89 L451.96 275.69 L452.94 275.49 L453.92 275.29 L454.90 275.08 L455.88 274.88 L456.86 274.68 L457.84 274.47 L458.82 274.27 L459.80 274.07 L460.78 273.86 L461.76 273.66 L462.74 273.46 L463.72 273.25 L464.70 273.05 L465.68 272.85 L466.66 272.65 L467.65 272.45 L468.63 272.26 L469.61 272.06 L470.59 271.87 L471.58 271.68 L472.56 271.49 L473.54 271.31 L474.53 271.12 L475.51 270.94 L476.50 270.77 L477.48 270.60 L478.47 270.43 L479.46 270.26 L480.45 270.10 L481.44 269.94 L482.43 269.79 L483.42 269.64 L484.41 269.50 L485.40 269.36 L486.39 269.22 L487.38 269.09 L488.38 268.96 L489.37 268.84 L490.36 268.72 L491.36 268.60 L492.35 268.49 L493.35 268.38 L494.34 268.28 L495.34 268.18 L496.34 268.08 L497.33 267.99 L498.33 267.90 L499.33 267.81 L500.33 267.73 L501.32 267.65 L502.32 267.57 L503.32 267.50 L504.32 267.43 L505.32 267.36 L506.32 267.29 L507.32 267.23 L508.32 267.17 L509.32 267.11 L510.32 267.05 L511.31 267.00 L512.31 266.95 L513.31 266.90 L514.31 266.85 L515.31 266.80 L516.32 266.76 L517.32 266.71 L518.32 266.67 L519.32 266.63 L520.32 266.59 L521.32 266.55 L522.32 266.52 L523.32 266.48 L524.32 266.45 L525.32 266.42 L526.32 266.38 L527.32 266.35 L528.32 266.32 L529.32 266.30 L530.32 266.27 L531.32 266.24 L532.33 266.21 L533.33 266.19 L534.33 266.16 L535.33 266.14 L536.33 266.12 L537.33 266.09 L538.33 266.07 L539.33 266.05 L540.33 266.03 L541.33 266.01 L542.34 265.99 L543.34 265.97 L544.34 265.95 L545.34 265.93 L546.34 265.92 L547.34 265.90 L548.34 265.88 L549.34 265.86 L550.34 265.85 L551.35 265.83 L552.35 265.82 L553.35 265.80 L554.35 265.79 L555.35 265.77 L556.35 265.76 L557.35 265.74 L558.35 265.73 L559.35 265.72 L560.36 265.70 L561.36 265.69 L562.36 265.68 L563.36 265.67 L564.36 265.65 L565.36 265.64 L566.36 265.63 L567.36 265.62 L568.36 265.61 L569.37 265.60 L570.37 265.58 L571.37 265.57 L572.37 265.56 L573.37 265.55 L574.37 265.54 L575.37 265.53 L576.37 265.52 L577.38 265.51 L578.38 265.50 L579.38 265.49 L580.38 265.49 L581.38 265.48 L582.38 265.47 L583.38 265.46 L584.38 265.45 L585.39 265.44 L586.39 265.43 L587.39 265.42 L588.39 265.42 L589.39 265.41 L590.39 265.40 L591.39 265.39 L592.39 265.39 L593.39 265.38 L594.40 265.37 L595.40 265.36 L596.40 265.36 L597.40 265.35 L598.40 265.34 L599.40 265.33 L600.40 265.33 L601.40 265.32 L602.41 265.31 L603.41 265.31 L604.41 265.30 L605.41 265.29 L606.41 265.29 L607.41 265.28 L608.41 265.28 L609.41 265.27 L610.42 265.26 L611.42 265.26 L612.42 265.25 L613.42 265.25 L614.42 265.24 L615.42 265.23 L616.42 265.23 L617.42 265.22 L618.43 265.22 L619.43 265.21 L620.43 265.21 L621.43 265.20 L622.43 265.20 L623.43 265.19 L624.43 265.19 L625.43 265.18 L626.44 265.18 L627.44 265.17 L628.44 265.17 L629.44 265.16 L630.44 265.16 L631.44 265.15 L632.44 265.15 L633.44 265.14 L634.45 265.14 L635.45 265.13 L636.45 265.13 L637.45 265.13 L638.45 265.12 L639.45 265.12 L640.45 265.11 L641.45 265.11 L642.45 265.10 L643.46 265.10 L644.46 265.10 L645.46 265.09 L646.46 265.09 L647.46 265.08 L648.46 265.08 L649.46 265.08 L650.46 265.07 L651.47 265.07 L652.47 265.07 L653.47 265.06 L654.47 265.06 L655.47 265.05 L656.47 265.05 L657.47 265.05 L658.47 265.04 L659.48 265.04 L660.48 265.04 L661.48 265.03 L662.48 265.03 L663.48 265.03 L664.48 265.02 L665.48 265.02 L666.48 265.02 L667.49 265.01 L668.49 265.01 L669.49 265.01 L670.49 265.00 L671.49 265.00 L672.49 265.00 L673.49 264.99 L674.49 264.99 L675.50 264.99 L676.50 264.99 L677.50 264.98 L678.50 264.98 L679.00 264.98" stroke="#ff00ff" stroke-width="1.50" stroke-linecap="butt"/>
<path d="M405.40 408.60 L405.43 407.59 L405.46 406.57 L405.48 405.56 L405.51 404.54 L405.54 403.53 L405.57 402.51 L405.59 401.50 L405.62 400.48 L405.65 399.47 L405.68 398.46 L405.70 397.44 L405.73 396.43 L405.76 395.41 L405.79 394.40 L405.81 393.38 L405.84 392.37 L405.87 391.35 L405.90 390.34 L405.93 389.32 L405.95 388.31 L405.98 387.30 L406.01 386.28 L406.04 385.27 L406.06 384.25 L406.09 383.24 L406.12 382.22 L406.15 381.21 L406.17 380.19 L406.20 379.18 L406.23 378.17 L406.26 377.15 L406.29 376.14 L406.31 375.12 L406.34 374.11 L406.37 373.09 L406.40 372.08 L406.42 371.06 L406.45 370.05 L406.48 369.04 L406.51 368.02 L406.53 367.01 L406.56 365.99 L406.59 364.98 L406.62 363.96 L406.64 362.95 L406.67 361.93 L406.70 360.92 L406.73 359.90 L406.76 358.89 L406.78 357.88 L406.81 356.86 L406.84 355.85 L406.87 354.83 L406.89 353.82 L406.92 352.80 L406.95 351.79 L406.98 350.79 L407.02 349.79 L407.06 348.79 L407.09 347.79 L407.13 346.79 L407.17 345.79 L407.21 344.79 L407.25 343.79 L407.29 342.79 L407.33 341.79 L407.37 340.79 L407.41 339.79 L407.46 338.79 L407.50 337.79 L407.55 336.80 L407.59 335.80 L407.64 334.80 L407.69 333.80 L407.74 332.80 L407.79 331.80 L407.84 330.80 L407.89 329.80 L407.95 328.80 L408.01 327.80 L408.06 326.80 L408.12 325.81 L408.18 324.81 L408.24 323.81 L408.31 322.81 L408.37 321.81 L408.44 320.81 L408.51 319.82 L408.58 318.82 L408.66 317.82 L408.73 316.82 L408.81 315.83 L408.89 314.83 L408.98 313.83 L409.06 312.84 L409.15 311.84 L409.25 310.84 L409.35 309.85 L409.45 308.85 L409.55 307.86 L409.66 306.86 L409.77 305.87 L409.89 304.88 L410.01 303.88 L410.14 302.89 L410.28 301.90 L410.42 300.91 L410.57 299.92 L410.72 298.93 L410.88 297.94 L411.06 296.96 L411.24 295.97 L411.43 294.99 L411.64 294.01 L411.85 293.04 L412.08 292.06 L412.33 291.09 L412.59 290.13 L412.88 289.17 L413.18 288.22 L413.51 287.27 L413.86 286.34 L414.25 285.41 L414.66 284.50 L415.12 283.61 L415.61 282.74 L416.15 281.90 L416.74 281.09 L417.38 280.32 L418.07 279.60 L418.81 278.93 L419.60 278.31 L420.42 277.75 L421.29 277.24 L422.18 276.78 L423.09 276.37 L424.01 275.99 L424.95 275.64 L425.90 275.32 L426.85 275.02 L427.81 274.72 L428.77 274.44 L429.73 274.17 L430.69 273.89 L431.66 273.63 L432.62 273.36 L433.59 273.10 L434.55 272.83 L435.52 272.57 L436.48 272.32 L437.45 272.06 L438.42 271.81 L439.39 271.56 L440.36 271.31 L441.33 271.07 L442.30 270.83 L443.27 270.60 L444.25 270.37 L445.22 270.15 L446.20 269.94 L447.18 269.73 L448.16 269.53 L449.14 269.33 L450.12 269.14 L451.11 268.96 L452.09 268.79 L453.08 268.62 L454.06 268.46 L455.05 268.30 L456.04 268.15 L457.03 268.01 L458.02 267.87 L459.01 267.74 L460.01 267.61 L461.00 267.49 L461.99 267.37 L462.99 267.26 L463.98 267.15 L464.98 267.05 L465.97 266.95 L466.97 266.86 L467.96 266.77 L468.96 266.69 L469.96 266.60 L470.96 266.53 L471.95 266.45 L472.95 266.38 L473.95 266.31 L474.95 266.24 L475.95 266.18 L476.94 266.12 L477.94 266.06 L478.94 266.01 L479.94 265.95 L480.94 265.90 L481.94 265.85 L482.94 265.80 L483.94 265.76 L484.94 265.71 L485.94 265.67 L486.94 265.63 L487.94 265.59 L488.94 265.55 L489.93 265.52 L490.93 265.48 L491.93 265.45 L492.93 265.42 L493.93 265.39 L494.93 265.36 L495.93 265.33 L496.93 265.30 L497.93 265.27 L498.93 265.24 L499.93 265.22 L500.93 265.19 L501.93 265.17 L502.93 265.15 L503.93 265.13 L504.93 265.10 L505.94 265.08 L506.94 265.06 L507.94 265.04 L508.94 265.02 L509.94 265.00 L510.94 264.99 L511.94 264.97 L512.94 264.95 L513.94 264.94 L514.94 264.92 L515.94 264.90 L516.94 264.89 L517.94 264.87 L518.94 264.86 L519.94 264.85 L520.94 264.83 L521.94 264.82 L522.94 264.81 L523.94 264.79 L524.94 264.78 L525.94 264.77 L526.94 264.76 L527.94 264.75 L528.94 264.73 L529.94 264.72 L530.94 264.71 L531.94 264.70 L532.94 264.69 L533.94 264.68 L534.94 264.67 L535.94 264.66 L536.94 264.65 L537.94 264.65 L538.95 264.64 L539.95 264.63 L540.95 264.62 L541.95 264.61 L542.95 264.60 L543.95 264.60 L544.95 264.59 L545.95 264.58 L546.95 264.57 L547.95 264.57 L548.95 264.56 L549.95 264.55 L550.95 264.54 L551.95 264.54 L552.95 264.53 L553.95 264.52 L554.95 264.52 L555.95 264.51 L556.95 264.51 L557.95 264.50 L558.95 264.49 L559.95 264.49 L560.95 264.48 L561.95 264.48 L562.95 264.47 L563.95 264.47 L564.95 264.46 L565.96 264.45 L566.96 264.45 L567.96 264.44 L568.96 264.44 L569.96 264.43 L570.96 264.43 L571.96 264.42 L572.96 264.42 L573.96 264.42 L574.96 264.41 L575.96 264.41 L576.96 264.40 L577.96 264.40 L578.96 264.39 L579.96 264.39 L580.96 264.39 L581.96 264.38 L582.96 264.38 L583.96 264.37 L584.96 264.37 L585.96 264.37 L586.96 264.36 L587.96 264.36 L588.96 264.35 L589.96 264.35 L590.97 264.35 L591.97 264.34 L592.97 264.34 L593.97 264.34 L594.97 264.33 L595.97 264.33 L596.97 264.33 L597.97 264.32 L598.97 264.32 L599.97 264.32 L600.97 264.31 L601.97 264.31 L602.97 264.31 L603.97 264.31 L604.97 264.30 L605.97 264.30 L606.97 264.30 L607.97 264.29 L608.97 264.29 L609.97 264.29 L610.97 264.29 L611.97 264.28 L612.97 264.28 L613.97 264.28 L614.97 264.28 L615.97 264.27 L616.98 264.27 L617.98 264.27 L618.98 264.27 L619.98 264.26 L620.98 264.26 L621.98 264.26 L622.98 264.26 L623.98 264.25 L624.98 264.25 L625.98 264.25 L626.98 264.25 L627.98 264.24 L628.98 264.24 L629.98 264.24 L630.98 264.24 L631.98 264.24 L632.98 264.23 L633.98 264.23 L634.98 264.23 L635.98 264.23 L636.98 264.23 L637.98 264.22 L638.98 264.22 L639.98 264.22 L640.98 264.22 L641.99 264.22 L642.99 264.21 L643.99 264.21 L644.99 264.21 L645.99 264.21 L646.99 264.21 L647.99 264.20 L648.99 264.20 L649.99 264.20 L650.99 264.20 L651.99 264.20 L652.99 264.20 L653.99 264.19 L654.99 264.19 L655.99 264.19 L656.99 264.19 L657.99 264.19 L658.99 264.19 L659.99 264.18 L660.99 264.18 L661.99 264.18 L662.99 264.18 L663.99 264.18 L664.99 264.18 L665.99 264.17 L667.00 264.17 L668.00 264.17 L669.00 264.17 L670.00 264.17 L671.00 264.17 L672.00 264.17 L673.00 264.16 L674.00 264.16 L675.00 264.16 L676.00 264.16 L677.00 264.16 L678.00 264.16 L679.00 264.16" stroke="#00ff00" stroke-width="2.10" stroke-linecap="butt" stroke-dasharray="1.8 1.5"/>
<path d="M405.40 408.60l0 0.01M405.49 405.32l0 0.01M405.58 402.04l0 0.01M405.67 398.76l0 0.01M405.76 395.48l0 0.01M405.86 392.20l0 0.01M405.95 388.92l0 0.01M406.04 385.64l0 0.01M406.13 382.36l0 0.01M406.22 379.08l0 0.01M406.31 375.80l0 0.01M406.40 372.52l0 0.01M406.49 369.25l0 0.01M406.58 365.97l0 0.01M406.67 362.69l0 0.01M406.77 359.41l0 0.01M406.86 356.13l0 0.01M406.95 352.85l0 0.01M407.04 349.41l0 0.01M407.13 345.98l0 0.01M407.22 342.69l0 0.01M407.31 339.54l0 0.01M407.40 336.52l0 0.01M407.49 333.63l0 0.01M407.58 330.87l0 0.01M407.68 328.25l0 0.01M407.77 325.74l0 0.01M407.86 323.36l0 0.01M407.95 321.08l0 0.01M408.04 318.92l0 0.01M408.13 316.87l0 0.01M408.22 314.91l0 0.01M408.31 313.05 L408.40 311.28 L408.50 309.59 L408.59 307.99 L408.68 306.46 L408.77 305.01 L408.86 303.63 L408.95 302.31 L409.04 301.05 L409.13 299.86 L409.22 298.72 L409.31 297.63 L409.41 296.59 L409.50 295.60 L409.59 294.65 L409.68 293.75 L409.77 292.89 L409.86 292.06 L409.95 291.27 L410.04 290.52 L410.13 289.79 L410.22 289.10 L410.32 288.44 L410.41 287.81 L410.50 287.20 L410.68 286.06 L410.86 285.02 L411.04 284.05 L411.23 283.16 L411.41 282.35 L411.59 281.59 L411.77 280.89 L411.95 280.25 L412.14 279.65 L412.41 278.84 L412.68 278.12 L412.96 277.47 L413.23 276.90 L413.59 276.22 L413.96 275.64 L414.32 275.15 L414.78 274.61 L415.23 274.17 L415.78 273.73 L416.32 273.37 L416.87 273.06 L417.42 272.81 L418.05 272.56 L418.69 272.34 L419.33 272.14 L419.97 271.95 L420.60 271.77 L421.24 271.59 L421.88 271.40 L422.51 271.21 L423.15 271.02 L423.79 270.82 L424.43 270.62 L425.06 270.41 L425.70 270.20 L426.34 269.99 L426.97 269.77 L427.61 269.56 L428.25 269.35 L428.89 269.14 L429.52 268.93 L430.16 268.72 L430.80 268.52 L431.44 268.33 L432.07 268.14 L432.71 267.95 L433.35 267.77 L433.98 267.60 L434.62 267.43 L435.26 267.27 L435.90 267.12 L436.53 266.97 L437.17 266.82 L437.81 266.69 L438.45 266.55 L439.08 266.43 L439.72 266.31 L440.36 266.19 L440.99 266.08 L441.63 265.97 L442.27 265.87 L442.91 265.77 L443.54 265.68 L444.18 265.59 L444.82 265.51 L445.45 265.43 L446.09 265.35 L446.73 265.28 L447.37 265.21 L448.00 265.14 L448.64 265.07 L449.28 265.01 L449.92 264.95 L450.55 264.90 L451.19 264.84 L451.83 264.79 L452.46 264.74 L453.10 264.70 L453.74 264.65 L454.38 264.61 L455.01 264.57 L455.65 264.53 L456.29 264.49 L456.92 264.45 L457.56 264.42 L458.20 264.39 L458.84 264.35 L459.47 264.32 L460.11 264.29 L460.75 264.26 L461.39 264.24 L462.02 264.21 L462.66 264.19 L463.30 264.16 L463.93 264.14 L464.57 264.12 L465.21 264.10 L465.85 264.07 L466.48 264.05 L467.12 264.04 L467.76 264.02 L468.40 264.00 L469.03 263.98 L469.67 263.97 L470.31 263.95 L470.94 263.93 L471.58 263.92 L472.22 263.91 L472.86 263.89 L473.49 263.88 L474.13 263.87 L474.77 263.85 L475.40 263.84 L476.04 263.83 L476.68 263.82 L477.32 263.81 L477.95 263.80 L478.59 263.79 L479.23 263.78 L479.87 263.77 L480.50 263.76 L481.14 263.75 L481.78 263.74 L482.41 263.73 L483.05 263.72 L483.69 263.72 L484.33 263.71 L484.96 263.70 L485.60 263.69 L486.24 263.69 L486.87 263.68 L487.51 263.67 L488.15 263.67 L488.79 263.66 L489.42 263.66 L490.06 263.65 L490.70 263.64 L491.34 263.64 L491.97 263.63 L492.61 263.63 L493.25 263.62 L493.88 263.62 L494.52 263.61 L495.16 263.61 L495.80 263.60 L496.43 263.60 L497.07 263.60 L497.71 263.59 L498.35 263.59 L498.98 263.58 L499.62 263.58 L500.26 263.58 L500.89 263.57 L501.53 263.57 L502.17 263.57 L502.81 263.56 L503.44 263.56 L504.08 263.56 L504.72 263.55 L505.35 263.55 L505.99 263.55 L506.63 263.54 L507.27 263.54 L507.90 263.54 L508.54 263.54 L509.18 263.53 L509.82 263.53 L510.45 263.53 L511.09 263.52 L511.73 263.52 L512.36 263.52 L513.00 263.52 L513.64 263.52 L514.28 263.51 L514.91 263.51 L515.55 263.51 L516.19 263.51 L516.82 263.50 L517.46 263.50 L518.10 263.50 L518.74 263.50 L519.37 263.50 L520.01 263.50 L520.65 263.49 L521.29 263.49 L521.92 263.49 L522.56 263.49 L523.20 263.49 L523.83 263.49 L524.47 263.48 L525.11 263.48 L525.75 263.48 L526.38 263.48 L527.02 263.48 L527.66 263.48 L528.29 263.47 L528.93 263.47 L529.57 263.47 L530.21 263.47 L530.84 263.47 L531.48 263.47 L532.12 263.47 L532.76 263.47 L533.39 263.46 L534.03 263.46 L534.67 263.46 L535.30 263.46 L535.94 263.46 L536.58 263.46 L537.22 263.46 L537.85 263.46 L538.49 263.46 L539.13 263.45 L539.77 263.45 L540.40 263.45 L541.04 263.45 L541.68 263.45 L542.31 263.45 L542.95 263.45 L543.59 263.45 L544.23 263.45 L544.86 263.45 L545.50 263.45 L546.14 263.44 L546.77 263.44 L547.41 263.44 L548.05 263.44 L548.69 263.44 L549.32 263.44 L549.96 263.44 L550.60 263.44 L551.24 263.44 L551.87 263.44 L552.51 263.44 L553.15 263.44 L553.78 263.43 L554.42 263.43 L555.06 263.43 L555.70 263.43 L556.33 263.43 L556.97 263.43 L557.61 263.43 L558.24 263.43 L558.88 263.43 L559.52 263.43 L560.16 263.43 L560.79 263.43 L561.43 263.43 L562.07 263.43 L562.71 263.43 L563.34 263.43 L563.98 263.42 L564.62 263.42 L565.25 263.42 L565.89 263.42 L566.53 263.42 L567.17 263.42 L567.80 263.42 L568.44 263.42 L569.08 263.42 L569.72 263.42 L570.35 263.42 L570.99 263.42 L571.63 263.42 L572.26 263.42 L572.90 263.42 L573.54 263.42 L574.18 263.42 L574.81 263.42 L575.45 263.42 L576.09 263.42 L576.72 263.42 L577.36 263.41 L578.00 263.41 L578.64 263.41 L579.27 263.41 L579.91 263.41 L580.55 263.41 L581.19 263.41 L581.82 263.41 L582.46 263.41 L583.10 263.41 L583.73 263.41 L584.37 263.41 L585.01 263.41 L585.65 263.41 L586.28 263.41 L586.92 263.41 L587.56 263.41 L588.19 263.41 L588.83 263.41 L589.47 263.41 L590.11 263.41 L590.74 263.41 L591.38 263.41 L592.02 263.41 L592.66 263.41 L593.29 263.41 L593.93 263.41 L594.57 263.41 L595.20 263.40 L595.84 263.40 L596.48 263.40 L597.12 263.40 L597.75 263.40 L598.39 263.40 L599.03 263.40 L599.67 263.40 L600.30 263.40 L600.94 263.40 L601.58 263.40 L602.21 263.40 L602.85 263.40 L603.49 263.40 L604.13 263.40 L604.76 263.40 L605.40 263.40 L606.04 263.40 L606.67 263.40 L607.31 263.40 L607.95 263.40 L608.59 263.40 L609.22 263.40 L609.86 263.40 L610.50 263.40 L611.14 263.40 L611.77 263.40 L612.41 263.40 L613.05 263.40 L613.68 263.40 L614.32 263.40 L614.96 263.40 L615.60 263.40 L616.23 263.40 L616.87 263.40 L617.51 263.40 L618.14 263.40 L618.78 263.40 L619.42 263.40 L620.06 263.40 L620.69 263.39 L621.33 263.39 L621.97 263.39 L622.61 263.39 L623.24 263.39 L623.88 263.39 L624.52 263.39 L625.15 263.39 L625.79 263.39 L626.43 263.39 L627.07 263.39 L627.70 263.39 L628.34 263.39 L628.98 263.39 L629.62 263.39 L630.25 263.39 L630.89 263.39 L631.53 263.39 L632.16 263.39 L632.80 263.39 L633.44 263.39 L634.08 263.39 L634.71 263.39 L635.35 263.39 L635.99 263.39 L636.62 263.39 L637.26 263.39 L637.90 263.39 L638.54 263.39 L639.17 263.39 L639.81 263.39 L640.45 263.39 L641.09 263.39 L641.72 263.39 L642.36 263.39 L643.00 263.39 L643.63 263.39 L644.27 263.39 L644.91 263.39 L645.55 263.39 L646.18 263.39 L646.82 263.39 L647.46 263.39 L648.09 263.39 L648.73 263.39 L649.37 263.39 L650.01 263.39 L650.64 263.39 L651.28 263.39 L651.92 263.39 L652.56 263.39 L653.19 263.39 L653.83 263.39 L654.47 263.39 L655.10 263.39 L655.74 263.39 L656.38 263.39 L657.02 263.39 L657.65 263.39 L658.29 263.39 L658.93 263.39 L659.57 263.39 L660.20 263.39 L660.84 263.39 L661.48 263.39 L662.11 263.38 L662.75 263.38 L663.39 263.38 L664.03 263.38 L664.66 263.38 L665.30 263.38 L665.94 263.38 L666.57 263.38 L667.21 263.38 L667.85 263.38 L668.49 263.38 L669.12 263.38 L669.76 263.38 L670.40 263.38 L671.04 263.38 L671.67 263.38 L672.31 263.38 L672.95 263.38 L673.58 263.38 L674.22 263.38 L674.86 263.38 L675.50 263.38 L676.13 263.38 L676.77 263.38 L677.41 263.38 L678.04 263.38 L678.68 263.38 L678.96 263.38" stroke="#0000ff" stroke-width="2.10" stroke-linecap="round"/>
</g>
<text transform="translate(405.40 419.10) scale(1.120 1)" font-size="7.60" text-anchor="middle" fill="#262626">0</text>
<text transform="translate(450.92 419.10) scale(1.120 1)" font-size="7.60" text-anchor="middle" fill="#262626">50</text>
<text transform="translate(496.43 419.10) scale(1.120 1)" font-size="7.60" text-anchor="middle" fill="#262626">100</text>
<text transform="translate(541.95 419.10) scale(1.120 1)" font-size="7.60" text-anchor="middle" fill="#262626">150</text>
<text transform="translate(587.47 419.10) scale(1.120 1)" font-size="7.60" text-anchor="middle" fill="#262626">200</text>
<text transform="translate(632.98 419.10) scale(1.120 1)" font-size="7.60" text-anchor="middle" fill="#262626">250</text>
<text transform="translate(678.50 419.10) scale(1.120 1)" font-size="7.60" text-anchor="middle" fill="#262626">300</text>
<text transform="translate(401.40 411.70) scale(1.120 1)" font-size="7.60" text-anchor="end" fill="#262626">0</text>
<text transform="translate(401.40 375.86) scale(1.120 1)" font-size="7.60" text-anchor="end" fill="#262626">0.5</text>
<text transform="translate(401.40 340.02) scale(1.120 1)" font-size="7.60" text-anchor="end" fill="#262626">1</text>
<text transform="translate(401.40 304.18) scale(1.120 1)" font-size="7.60" text-anchor="end" fill="#262626">1.5</text>
<text transform="translate(401.40 268.34) scale(1.120 1)" font-size="7.60" text-anchor="end" fill="#262626">2</text>
<text transform="translate(401.40 232.50) scale(1.120 1)" font-size="7.60" text-anchor="end" fill="#262626">2.5</text>
<text transform="translate(541.95 428.60) scale(1.160 1)" font-size="7.90" text-anchor="middle" fill="#262626">Time(days)</text>
<text transform="translate(385.90 319.00) rotate(-90) scale(1 1.200)" font-size="7.70" text-anchor="middle" fill="#262626">C(t)</text>
<text transform="translate(541.95 227.40) scale(1.120 1)" font-size="8.10" text-anchor="middle" fill="#262626">(d)</text>
<rect x="612.20" y="294.10" width="56.30" height="43.90" fill="#ffffff" stroke="#8f8f8f" stroke-width="1.2"/>
<path d="M614.80 299.50H640.00" stroke="#000000" stroke-width="1.60" stroke-linecap="butt" stroke-dasharray="4.8 4.1" fill="none"/>
<text transform="translate(641.80 302.30) scale(1.120 1)" font-size="6.90" text-anchor="start" fill="#262626"><tspan font-family="Liberation Serif" font-style="italic">&#945;</tspan>=0.60</text>
<path d="M614.80 307.80H640.00" stroke="#ff0000" stroke-width="1.60" stroke-linecap="butt" stroke-dasharray="4.6 1.1 1.5 1.1" fill="none"/>
<text transform="translate(641.80 310.60) scale(1.120 1)" font-size="6.90" text-anchor="start" fill="#262626"><tspan font-family="Liberation Serif" font-style="italic">&#945;</tspan>=0.70</text>
<path d="M614.80 316.10H640.00" stroke="#ff00ff" stroke-width="1.50" stroke-linecap="butt" fill="none"/>
<text transform="translate(641.80 318.90) scale(1.120 1)" font-size="6.90" text-anchor="start" fill="#262626"><tspan font-family="Liberation Serif" font-style="italic">&#945;</tspan>=0.80</text>
<path d="M614.80 324.50H640.00" stroke="#00ff00" stroke-width="2.10" stroke-linecap="butt" stroke-dasharray="1.8 1.5" fill="none"/>
<text transform="translate(641.80 327.30) scale(1.120 1)" font-size="6.90" text-anchor="start" fill="#262626"><tspan font-family="Liberation Serif" font-style="italic">&#945;</tspan>=0.90</text>
<rect x="626.85" y="332.30" width="1.7" height="1.7" fill="#3c3cff"/>
<text transform="translate(641.80 335.70) scale(1.120 1)" font-size="6.90" text-anchor="start" fill="#262626"><tspan font-family="Liberation Serif" font-style="italic">&#945;</tspan>=1</text>
<rect x="31.50" y="451.40" width="272.60" height="179.00" fill="none" stroke="#8c8c8c" stroke-width="1"/>
<path d="M31.50 630.40V627.70M31.50 451.40V454.10M86.02 630.40V627.70M86.02 451.40V454.10M140.54 630.40V627.70M140.54 451.40V454.10M195.06 630.40V627.70M195.06 451.40V454.10M249.58 630.40V627.70M249.58 451.40V454.10M304.10 630.40V627.70M304.10 451.40V454.10M31.50 630.40H34.20M304.10 630.40H301.40M31.50 600.57H34.20M304.10 600.57H301.40M31.50 570.73H34.20M304.10 570.73H301.40M31.50 540.90H34.20M304.10 540.90H301.40M31.50 511.07H34.20M304.10 511.07H301.40M31.50 481.23H34.20M304.10 481.23H301.40M31.50 451.40H34.20M304.10 451.40H301.40" stroke="#8c8c8c" stroke-width="0.8" fill="none"/>
<clipPath id="cpe"><rect x="31.00" y="449.80" width="273.80" height="181.20"/></clipPath>
<g clip-path="url(#cpe)" fill="none" stroke-linejoin="round">
<path d="M31.50 630.40 L31.54 629.39 L31.58 628.38 L31.62 627.37 L31.67 626.36 L31.71 625.35 L31.75 624.34 L31.79 623.33 L31.83 622.32 L31.87 621.31 L31.91 620.30 L31.96 619.29 L32.00 618.28 L32.04 617.27 L32.08 616.26 L32.12 615.25 L32.16 614.24 L32.20 613.23 L32.25 612.22 L32.29 611.21 L32.33 610.20 L32.37 609.19 L32.41 608.18 L32.45 607.17 L32.50 606.16 L32.54 605.15 L32.58 604.14 L32.62 603.13 L32.66 602.12 L32.70 601.11 L32.74 600.10 L32.79 599.09 L32.83 598.08 L32.87 597.07 L32.91 596.06 L32.95 595.05 L32.99 594.04 L33.03 593.03 L33.08 592.02 L33.12 591.01 L33.16 590.00 L33.20 588.99 L33.24 587.98 L33.28 586.97 L33.32 585.96 L33.37 584.95 L33.41 583.94 L33.45 582.93 L33.49 581.92 L33.53 580.91 L33.57 579.90 L33.61 578.89 L33.66 577.88 L33.70 576.87 L33.74 575.86 L33.78 574.85 L33.82 573.84 L33.86 572.83 L33.90 571.82 L33.95 570.81 L33.99 569.80 L34.03 568.79 L34.07 567.78 L34.11 566.77 L34.15 565.76 L34.20 564.75 L34.24 563.74 L34.28 562.73 L34.32 561.72 L34.36 560.71 L34.40 559.70 L34.44 558.69 L34.49 557.68 L34.53 556.67 L34.57 555.66 L34.61 554.65 L34.65 553.64 L34.69 552.63 L34.73 551.62 L34.78 550.61 L34.82 549.60 L34.86 548.59 L34.90 547.58 L34.94 546.57 L34.98 545.56 L35.02 544.55 L35.09 543.56 L35.15 542.56 L35.22 541.56 L35.29 540.56 L35.37 539.57 L35.44 538.57 L35.52 537.57 L35.61 536.58 L35.69 535.58 L35.79 534.58 L35.88 533.59 L35.98 532.59 L36.09 531.60 L36.20 530.60 L36.32 529.61 L36.44 528.62 L36.57 527.63 L36.71 526.64 L36.85 525.65 L37.01 524.66 L37.17 523.67 L37.34 522.69 L37.51 521.70 L37.70 520.72 L37.90 519.74 L38.11 518.76 L38.32 517.79 L38.55 516.81 L38.79 515.84 L39.03 514.87 L39.29 513.91 L39.56 512.94 L39.84 511.98 L40.13 511.02 L40.43 510.07 L40.74 509.12 L41.06 508.17 L41.40 507.23 L41.74 506.29 L42.10 505.36 L42.47 504.43 L42.86 503.51 L43.26 502.59 L43.67 501.68 L44.09 500.78 L44.54 499.88 L44.99 498.99 L45.47 498.11 L45.96 497.24 L46.46 496.37 L46.99 495.52 L47.53 494.68 L48.09 493.85 L48.66 493.03 L49.26 492.23 L49.87 491.44 L50.50 490.66 L51.15 489.90 L51.82 489.16 L52.50 488.43 L53.20 487.72 L53.92 487.02 L54.65 486.34 L55.41 485.68 L56.17 485.04 L56.95 484.41 L57.75 483.81 L58.56 483.22 L59.38 482.65 L60.21 482.09 L61.05 481.56 L61.91 481.04 L62.77 480.54 L63.65 480.05 L64.53 479.58 L65.42 479.13 L66.32 478.69 L67.23 478.26 L68.14 477.85 L69.06 477.46 L69.98 477.07 L70.91 476.70 L71.84 476.34 L72.78 475.99 L73.72 475.66 L74.66 475.33 L75.61 475.02 L76.57 474.71 L77.52 474.41 L78.48 474.13 L79.44 473.85 L80.40 473.58 L81.37 473.32 L82.33 473.06 L83.30 472.81 L84.27 472.57 L85.25 472.34 L86.22 472.11 L87.20 471.89 L88.17 471.68 L89.15 471.47 L90.13 471.27 L91.11 471.07 L92.09 470.87 L93.07 470.69 L94.06 470.50 L95.04 470.32 L96.02 470.15 L97.01 469.98 L98.00 469.81 L98.98 469.65 L99.97 469.49 L100.96 469.34 L101.95 469.18 L102.94 469.04 L103.92 468.89 L104.91 468.75 L105.90 468.61 L106.90 468.47 L107.89 468.34 L108.88 468.21 L109.87 468.08 L110.86 467.96 L111.85 467.84 L112.85 467.72 L113.84 467.60 L114.83 467.48 L115.83 467.37 L116.82 467.26 L117.82 467.15 L118.81 467.04 L119.80 466.94 L120.80 466.83 L121.79 466.73 L122.79 466.63 L123.78 466.53 L124.78 466.44 L125.77 466.34 L126.77 466.25 L127.77 466.16 L128.76 466.07 L129.76 465.98 L130.75 465.89 L131.75 465.81 L132.75 465.72 L133.74 465.64 L134.74 465.56 L135.74 465.48 L136.73 465.40 L137.73 465.32 L138.73 465.24 L139.72 465.17 L140.72 465.09 L141.72 465.02 L142.72 464.94 L143.71 464.87 L144.71 464.80 L145.71 464.73 L146.71 464.66 L147.70 464.60 L148.70 464.53 L149.70 464.46 L150.70 464.40 L151.70 464.33 L152.69 464.27 L153.69 464.21 L154.69 464.15 L155.69 464.08 L156.69 464.02 L157.68 463.96 L158.68 463.91 L159.68 463.85 L160.68 463.79 L161.68 463.73 L162.68 463.68 L163.67 463.62 L164.67 463.57 L165.67 463.51 L166.67 463.46 L167.67 463.41 L168.67 463.35 L169.67 463.30 L170.67 463.25 L171.66 463.20 L172.66 463.15 L173.66 463.10 L174.66 463.05 L175.66 463.00 L176.66 462.96 L177.66 462.91 L178.66 462.86 L179.65 462.82 L180.65 462.77 L181.65 462.72 L182.65 462.68 L183.65 462.63 L184.65 462.59 L185.65 462.55 L186.65 462.50 L187.65 462.46 L188.65 462.42 L189.64 462.38 L190.64 462.33 L191.64 462.29 L192.64 462.25 L193.64 462.21 L194.64 462.17 L195.64 462.13 L196.64 462.09 L197.64 462.05 L198.64 462.02 L199.64 461.98 L200.64 461.94 L201.64 461.90 L202.64 461.87 L203.63 461.83 L204.63 461.79 L205.63 461.76 L206.63 461.72 L207.63 461.68 L208.63 461.65 L209.63 461.61 L210.63 461.58 L211.63 461.54 L212.63 461.51 L213.63 461.48 L214.63 461.44 L215.63 461.41 L216.63 461.38 L217.63 461.34 L218.63 461.31 L219.63 461.28 L220.62 461.25 L221.62 461.21 L222.62 461.18 L223.62 461.15 L224.62 461.12 L225.62 461.09 L226.62 461.06 L227.62 461.03 L228.62 461.00 L229.62 460.97 L230.62 460.94 L231.62 460.91 L232.62 460.88 L233.62 460.85 L234.62 460.82 L235.62 460.79 L236.62 460.77 L237.62 460.74 L238.62 460.71 L239.62 460.68 L240.62 460.65 L241.62 460.63 L242.62 460.60 L243.61 460.57 L244.61 460.55 L245.61 460.52 L246.61 460.49 L247.61 460.47 L248.61 460.44 L249.61 460.41 L250.61 460.39 L251.61 460.36 L252.61 460.34 L253.61 460.31 L254.61 460.29 L255.61 460.26 L256.61 460.24 L257.61 460.21 L258.61 460.19 L259.61 460.16 L260.61 460.14 L261.61 460.12 L262.61 460.09 L263.61 460.07 L264.61 460.05 L265.61 460.02 L266.61 460.00 L267.61 459.98 L268.61 459.95 L269.61 459.93 L270.61 459.91 L271.61 459.89 L272.61 459.86 L273.61 459.84 L274.61 459.82 L275.61 459.80 L276.61 459.77 L277.61 459.75 L278.61 459.73 L279.60 459.71 L280.60 459.69 L281.60 459.67 L282.60 459.65 L283.60 459.62 L284.60 459.60 L285.60 459.58 L286.60 459.56 L287.60 459.54 L288.60 459.52 L289.60 459.50 L290.60 459.48 L291.60 459.46 L292.60 459.44 L293.60 459.42 L294.60 459.40 L295.60 459.38 L296.60 459.36 L297.60 459.34 L298.60 459.32 L299.60 459.30 L300.60 459.28 L301.60 459.27 L302.60 459.25 L303.60 459.23 L304.60 459.21" stroke="#000000" stroke-width="1.60" stroke-linecap="butt" stroke-dasharray="4.8 4.1"/>
<path d="M31.50 630.40 L31.54 629.39 L31.59 628.38 L31.63 627.37 L31.67 626.36 L31.71 625.34 L31.76 624.33 L31.80 623.32 L31.84 622.31 L31.88 621.30 L31.93 620.29 L31.97 619.28 L32.01 618.27 L32.05 617.25 L32.10 616.24 L32.14 615.23 L32.18 614.22 L32.22 613.21 L32.27 612.20 L32.31 611.19 L32.35 610.18 L32.39 609.16 L32.44 608.15 L32.48 607.14 L32.52 606.13 L32.56 605.12 L32.61 604.11 L32.65 603.10 L32.69 602.09 L32.73 601.07 L32.78 600.06 L32.82 599.05 L32.86 598.04 L32.90 597.03 L32.95 596.02 L32.99 595.01 L33.03 594.00 L33.07 592.98 L33.12 591.97 L33.16 590.96 L33.20 589.95 L33.24 588.94 L33.29 587.93 L33.33 586.92 L33.37 585.91 L33.42 584.90 L33.46 583.88 L33.50 582.87 L33.54 581.86 L33.59 580.85 L33.63 579.84 L33.67 578.83 L33.71 577.82 L33.76 576.81 L33.80 575.79 L33.84 574.78 L33.88 573.77 L33.93 572.76 L33.97 571.75 L34.01 570.74 L34.05 569.73 L34.10 568.72 L34.14 567.70 L34.18 566.69 L34.22 565.68 L34.27 564.67 L34.31 563.66 L34.35 562.65 L34.39 561.64 L34.44 560.63 L34.48 559.61 L34.52 558.60 L34.56 557.59 L34.61 556.58 L34.65 555.57 L34.69 554.56 L34.73 553.55 L34.78 552.54 L34.82 551.53 L34.86 550.51 L34.90 549.50 L34.95 548.49 L34.99 547.48 L35.03 546.47 L35.07 545.46 L35.13 544.45 L35.20 543.46 L35.27 542.46 L35.35 541.46 L35.42 540.46 L35.50 539.46 L35.58 538.47 L35.66 537.47 L35.74 536.47 L35.83 535.48 L35.92 534.48 L36.01 533.48 L36.10 532.49 L36.20 531.49 L36.30 530.50 L36.40 529.50 L36.50 528.51 L36.61 527.51 L36.72 526.52 L36.84 525.52 L36.96 524.53 L37.08 523.54 L37.21 522.54 L37.34 521.55 L37.48 520.56 L37.62 519.57 L37.76 518.58 L37.91 517.59 L38.07 516.60 L38.23 515.62 L38.39 514.63 L38.57 513.64 L38.75 512.66 L38.93 511.68 L39.12 510.69 L39.32 509.71 L39.53 508.74 L39.75 507.76 L39.97 506.78 L40.20 505.81 L40.45 504.84 L40.70 503.87 L40.96 502.91 L41.23 501.94 L41.51 500.98 L41.81 500.03 L42.11 499.07 L42.43 498.12 L42.76 497.18 L43.10 496.24 L43.46 495.31 L43.83 494.38 L44.21 493.45 L44.61 492.54 L45.03 491.63 L45.46 490.72 L45.91 489.83 L46.38 488.95 L46.86 488.07 L47.37 487.21 L47.89 486.35 L48.43 485.51 L48.99 484.68 L49.57 483.86 L50.16 483.06 L50.78 482.28 L51.42 481.50 L52.08 480.75 L52.75 480.01 L53.45 479.29 L54.16 478.59 L54.90 477.91 L55.65 477.25 L56.41 476.61 L57.20 475.99 L58.00 475.39 L58.81 474.80 L59.64 474.24 L60.48 473.70 L61.34 473.18 L62.20 472.68 L63.08 472.20 L63.97 471.74 L64.86 471.29 L65.77 470.86 L66.68 470.45 L67.60 470.06 L68.53 469.68 L69.46 469.32 L70.40 468.97 L71.34 468.64 L72.29 468.32 L73.24 468.01 L74.19 467.71 L75.15 467.43 L76.12 467.15 L77.08 466.89 L78.05 466.64 L79.02 466.40 L79.99 466.16 L80.97 465.94 L81.94 465.72 L82.92 465.51 L83.90 465.31 L84.88 465.11 L85.86 464.92 L86.85 464.74 L87.83 464.56 L88.82 464.39 L89.81 464.23 L90.79 464.07 L91.78 463.91 L92.77 463.76 L93.76 463.62 L94.75 463.48 L95.74 463.34 L96.73 463.21 L97.73 463.08 L98.72 462.95 L99.71 462.83 L100.70 462.71 L101.70 462.59 L102.69 462.48 L103.69 462.37 L104.68 462.26 L105.68 462.16 L106.67 462.05 L107.67 461.95 L108.66 461.86 L109.66 461.76 L110.66 461.67 L111.65 461.58 L112.65 461.49 L113.64 461.40 L114.64 461.31 L115.64 461.23 L116.64 461.15 L117.63 461.07 L118.63 460.99 L119.63 460.91 L120.63 460.83 L121.62 460.76 L122.62 460.69 L123.62 460.62 L124.62 460.54 L125.61 460.48 L126.61 460.41 L127.61 460.34 L128.61 460.27 L129.61 460.21 L130.61 460.15 L131.60 460.08 L132.60 460.02 L133.60 459.96 L134.60 459.90 L135.60 459.84 L136.60 459.78 L137.60 459.72 L138.60 459.67 L139.59 459.61 L140.59 459.56 L141.59 459.50 L142.59 459.45 L143.59 459.40 L144.59 459.34 L145.59 459.29 L146.59 459.24 L147.59 459.19 L148.59 459.14 L149.59 459.09 L150.59 459.05 L151.58 459.00 L152.58 458.95 L153.58 458.90 L154.58 458.86 L155.58 458.81 L156.58 458.77 L157.58 458.72 L158.58 458.68 L159.58 458.64 L160.58 458.59 L161.58 458.55 L162.58 458.51 L163.58 458.47 L164.58 458.43 L165.58 458.38 L166.58 458.34 L167.58 458.30 L168.58 458.26 L169.58 458.23 L170.58 458.19 L171.58 458.15 L172.58 458.11 L173.58 458.07 L174.58 458.04 L175.58 458.00 L176.57 457.96 L177.57 457.93 L178.57 457.89 L179.57 457.85 L180.57 457.82 L181.57 457.78 L182.57 457.75 L183.57 457.71 L184.57 457.68 L185.57 457.65 L186.57 457.61 L187.57 457.58 L188.57 457.55 L189.57 457.52 L190.57 457.48 L191.57 457.45 L192.57 457.42 L193.57 457.39 L194.57 457.36 L195.57 457.33 L196.57 457.29 L197.57 457.26 L198.57 457.23 L199.57 457.20 L200.57 457.17 L201.57 457.15 L202.57 457.12 L203.57 457.09 L204.57 457.06 L205.57 457.03 L206.57 457.00 L207.57 456.97 L208.57 456.95 L209.57 456.92 L210.57 456.89 L211.57 456.86 L212.57 456.84 L213.57 456.81 L214.57 456.78 L215.57 456.76 L216.58 456.73 L217.58 456.70 L218.58 456.68 L219.58 456.65 L220.58 456.63 L221.58 456.60 L222.58 456.58 L223.58 456.55 L224.58 456.53 L225.58 456.50 L226.58 456.48 L227.58 456.45 L228.58 456.43 L229.58 456.41 L230.58 456.38 L231.58 456.36 L232.58 456.33 L233.58 456.31 L234.58 456.29 L235.58 456.27 L236.58 456.24 L237.58 456.22 L238.58 456.20 L239.58 456.18 L240.58 456.15 L241.58 456.13 L242.58 456.11 L243.58 456.09 L244.58 456.07 L245.58 456.05 L246.58 456.03 L247.58 456.00 L248.58 455.98 L249.58 455.96 L250.58 455.94 L251.58 455.92 L252.58 455.90 L253.58 455.88 L254.58 455.86 L255.58 455.84 L256.58 455.82 L257.58 455.80 L258.58 455.78 L259.58 455.76 L260.59 455.74 L261.59 455.72 L262.59 455.71 L263.59 455.69 L264.59 455.67 L265.59 455.65 L266.59 455.63 L267.59 455.61 L268.59 455.59 L269.59 455.58 L270.59 455.56 L271.59 455.54 L272.59 455.52 L273.59 455.51 L274.59 455.49 L275.59 455.47 L276.59 455.45 L277.59 455.44 L278.59 455.42 L279.59 455.40 L280.59 455.39 L281.59 455.37 L282.59 455.35 L283.59 455.34 L284.59 455.32 L285.59 455.30 L286.59 455.29 L287.59 455.27 L288.59 455.25 L289.59 455.24 L290.59 455.22 L291.60 455.21 L292.60 455.19 L293.60 455.18 L294.60 455.16 L295.60 455.15 L296.60 455.13 L297.60 455.12 L298.60 455.10 L299.60 455.09 L300.60 455.07 L301.60 455.06 L302.60 455.04 L303.60 455.03 L304.60 455.01" stroke="#ff0000" stroke-width="1.60" stroke-linecap="butt" stroke-dasharray="4.6 1.1 1.5 1.1"/>
<path d="M31.50 630.40 L31.54 629.39 L31.58 628.38 L31.62 627.37 L31.67 626.36 L31.71 625.35 L31.75 624.33 L31.79 623.32 L31.83 622.31 L31.87 621.30 L31.91 620.29 L31.95 619.28 L32.00 618.27 L32.04 617.26 L32.08 616.25 L32.12 615.24 L32.16 614.23 L32.20 613.22 L32.24 612.20 L32.29 611.19 L32.33 610.18 L32.37 609.17 L32.41 608.16 L32.45 607.15 L32.49 606.14 L32.53 605.13 L32.57 604.12 L32.62 603.11 L32.66 602.10 L32.70 601.08 L32.74 600.07 L32.78 599.06 L32.82 598.05 L32.86 597.04 L32.91 596.03 L32.95 595.02 L32.99 594.01 L33.03 593.00 L33.07 591.99 L33.11 590.98 L33.15 589.96 L33.19 588.95 L33.24 587.94 L33.28 586.93 L33.32 585.92 L33.36 584.91 L33.40 583.90 L33.44 582.89 L33.48 581.88 L33.53 580.87 L33.57 579.86 L33.61 578.85 L33.65 577.83 L33.69 576.82 L33.73 575.81 L33.77 574.80 L33.81 573.79 L33.86 572.78 L33.90 571.77 L33.94 570.76 L33.98 569.75 L34.02 568.74 L34.06 567.73 L34.10 566.71 L34.15 565.70 L34.19 564.69 L34.23 563.68 L34.27 562.67 L34.31 561.66 L34.35 560.65 L34.39 559.64 L34.43 558.63 L34.48 557.62 L34.52 556.61 L34.56 555.60 L34.60 554.58 L34.64 553.57 L34.68 552.56 L34.72 551.55 L34.77 550.54 L34.81 549.53 L34.85 548.52 L34.89 547.51 L34.93 546.50 L34.97 545.49 L35.02 544.48 L35.08 543.48 L35.15 542.48 L35.21 541.49 L35.28 540.49 L35.34 539.49 L35.41 538.49 L35.48 537.49 L35.56 536.50 L35.63 535.50 L35.71 534.50 L35.79 533.51 L35.87 532.51 L35.95 531.51 L36.03 530.51 L36.12 529.52 L36.21 528.52 L36.30 527.53 L36.40 526.53 L36.49 525.53 L36.59 524.54 L36.70 523.54 L36.80 522.55 L36.91 521.56 L37.02 520.56 L37.14 519.57 L37.26 518.57 L37.38 517.58 L37.50 516.59 L37.63 515.60 L37.76 514.61 L37.90 513.61 L38.04 512.62 L38.18 511.63 L38.33 510.65 L38.49 509.66 L38.64 508.67 L38.81 507.68 L38.97 506.70 L39.15 505.71 L39.32 504.73 L39.51 503.74 L39.70 502.76 L39.89 501.78 L40.09 500.80 L40.30 499.82 L40.51 498.84 L40.74 497.87 L40.96 496.89 L41.20 495.92 L41.44 494.95 L41.70 493.98 L41.96 493.02 L42.23 492.06 L42.51 491.09 L42.79 490.14 L43.09 489.18 L43.41 488.23 L43.73 487.29 L44.06 486.34 L44.41 485.40 L44.77 484.47 L45.14 483.54 L45.53 482.62 L45.94 481.71 L46.36 480.80 L46.80 479.90 L47.26 479.01 L47.74 478.13 L48.23 477.27 L48.75 476.41 L49.29 475.57 L49.85 474.74 L50.44 473.93 L51.04 473.13 L51.68 472.36 L52.33 471.60 L53.01 470.87 L53.72 470.16 L54.45 469.48 L55.20 468.82 L55.97 468.18 L56.77 467.58 L57.59 467.00 L58.42 466.45 L59.27 465.93 L60.14 465.43 L61.03 464.97 L61.92 464.52 L62.83 464.11 L63.75 463.71 L64.68 463.34 L65.62 463.00 L66.57 462.67 L67.52 462.36 L68.48 462.07 L69.44 461.80 L70.40 461.54 L71.37 461.30 L72.35 461.07 L73.32 460.85 L74.30 460.65 L75.29 460.46 L76.27 460.27 L77.25 460.10 L78.24 459.93 L79.23 459.78 L80.22 459.63 L81.21 459.48 L82.20 459.35 L83.19 459.22 L84.18 459.09 L85.18 458.98 L86.17 458.86 L87.16 458.75 L88.16 458.65 L89.15 458.54 L90.15 458.45 L91.15 458.35 L92.14 458.26 L93.14 458.17 L94.13 458.09 L95.13 458.01 L96.13 457.93 L97.13 457.85 L98.12 457.77 L99.12 457.70 L100.12 457.63 L101.12 457.56 L102.11 457.49 L103.11 457.43 L104.11 457.36 L105.11 457.30 L106.11 457.24 L107.11 457.18 L108.10 457.12 L109.10 457.06 L110.10 457.00 L111.10 456.95 L112.10 456.89 L113.10 456.84 L114.10 456.79 L115.10 456.74 L116.09 456.69 L117.09 456.64 L118.09 456.59 L119.09 456.54 L120.09 456.49 L121.09 456.44 L122.09 456.40 L123.09 456.35 L124.09 456.31 L125.09 456.27 L126.09 456.22 L127.09 456.18 L128.09 456.14 L129.09 456.10 L130.08 456.06 L131.08 456.02 L132.08 455.98 L133.08 455.94 L134.08 455.90 L135.08 455.86 L136.08 455.82 L137.08 455.78 L138.08 455.75 L139.08 455.71 L140.08 455.67 L141.08 455.64 L142.08 455.60 L143.08 455.57 L144.08 455.53 L145.08 455.50 L146.08 455.47 L147.08 455.43 L148.08 455.40 L149.08 455.37 L150.08 455.34 L151.08 455.30 L152.08 455.27 L153.08 455.24 L154.08 455.21 L155.08 455.18 L156.08 455.15 L157.08 455.12 L158.08 455.09 L159.08 455.06 L160.08 455.04 L161.08 455.01 L162.08 454.98 L163.08 454.95 L164.08 454.92 L165.08 454.90 L166.08 454.87 L167.08 454.84 L168.08 454.82 L169.07 454.79 L170.07 454.77 L171.07 454.74 L172.07 454.72 L173.07 454.69 L174.07 454.67 L175.07 454.64 L176.07 454.62 L177.07 454.59 L178.07 454.57 L179.07 454.55 L180.07 454.52 L181.07 454.50 L182.07 454.48 L183.07 454.46 L184.08 454.44 L185.08 454.41 L186.08 454.39 L187.08 454.37 L188.08 454.35 L189.08 454.33 L190.08 454.31 L191.08 454.29 L192.08 454.27 L193.08 454.25 L194.08 454.23 L195.08 454.21 L196.08 454.19 L197.08 454.17 L198.08 454.15 L199.08 454.14 L200.08 454.12 L201.08 454.10 L202.08 454.08 L203.08 454.06 L204.08 454.05 L205.08 454.03 L206.08 454.01 L207.08 454.00 L208.08 453.98 L209.08 453.96 L210.08 453.95 L211.08 453.93 L212.08 453.91 L213.08 453.90 L214.08 453.88 L215.08 453.87 L216.08 453.85 L217.08 453.84 L218.08 453.82 L219.08 453.81 L220.08 453.79 L221.08 453.78 L222.08 453.77 L223.08 453.75 L224.08 453.74 L225.08 453.73 L226.08 453.71 L227.08 453.70 L228.08 453.69 L229.08 453.67 L230.08 453.66 L231.08 453.65 L232.08 453.64 L233.08 453.62 L234.08 453.61 L235.08 453.60 L236.08 453.59 L237.08 453.58 L238.08 453.56 L239.08 453.55 L240.08 453.54 L241.08 453.53 L242.08 453.52 L243.08 453.51 L244.08 453.50 L245.08 453.49 L246.08 453.48 L247.09 453.47 L248.09 453.46 L249.09 453.45 L250.09 453.44 L251.09 453.43 L252.09 453.42 L253.09 453.41 L254.09 453.40 L255.09 453.39 L256.09 453.38 L257.09 453.37 L258.09 453.36 L259.09 453.36 L260.09 453.35 L261.09 453.34 L262.09 453.33 L263.09 453.32 L264.09 453.31 L265.09 453.31 L266.09 453.30 L267.09 453.29 L268.09 453.28 L269.09 453.27 L270.09 453.27 L271.09 453.26 L272.09 453.25 L273.09 453.24 L274.09 453.24 L275.09 453.23 L276.09 453.22 L277.09 453.22 L278.09 453.21 L279.09 453.20 L280.09 453.20 L281.09 453.19 L282.09 453.18 L283.09 453.18 L284.09 453.17 L285.09 453.16 L286.10 453.16 L287.10 453.15 L288.10 453.15 L289.10 453.14 L290.10 453.13 L291.10 453.13 L292.10 453.12 L293.10 453.12 L294.10 453.11 L295.10 453.11 L296.10 453.10 L297.10 453.10 L298.10 453.09 L299.10 453.09 L300.10 453.08 L301.10 453.08 L302.10 453.07 L303.10 453.07 L304.10 453.06 L304.60 453.06" stroke="#ff00ff" stroke-width="1.50" stroke-linecap="butt"/>
<path d="M31.50 630.40 L31.54 629.39 L31.58 628.38 L31.62 627.37 L31.66 626.36 L31.70 625.34 L31.74 624.33 L31.78 623.32 L31.82 622.31 L31.86 621.30 L31.90 620.29 L31.94 619.28 L31.98 618.27 L32.02 617.25 L32.06 616.24 L32.10 615.23 L32.14 614.22 L32.18 613.21 L32.22 612.20 L32.26 611.19 L32.30 610.18 L32.34 609.17 L32.38 608.15 L32.42 607.14 L32.46 606.13 L32.50 605.12 L32.54 604.11 L32.58 603.10 L32.62 602.09 L32.66 601.08 L32.70 600.06 L32.74 599.05 L32.78 598.04 L32.82 597.03 L32.86 596.02 L32.90 595.01 L32.94 594.00 L32.98 592.99 L33.02 591.98 L33.06 590.96 L33.10 589.95 L33.14 588.94 L33.18 587.93 L33.22 586.92 L33.26 585.91 L33.30 584.90 L33.34 583.89 L33.38 582.87 L33.42 581.86 L33.45 580.85 L33.49 579.84 L33.53 578.83 L33.57 577.82 L33.61 576.81 L33.65 575.80 L33.69 574.79 L33.73 573.77 L33.77 572.76 L33.81 571.75 L33.85 570.74 L33.89 569.73 L33.93 568.72 L33.97 567.71 L34.01 566.70 L34.05 565.69 L34.09 564.67 L34.13 563.66 L34.17 562.65 L34.21 561.64 L34.25 560.63 L34.29 559.62 L34.33 558.61 L34.37 557.60 L34.41 556.58 L34.45 555.57 L34.49 554.56 L34.53 553.55 L34.57 552.54 L34.61 551.53 L34.65 550.52 L34.69 549.51 L34.73 548.50 L34.77 547.48 L34.81 546.47 L34.85 545.46 L34.90 544.46 L34.95 543.46 L35.01 542.46 L35.06 541.46 L35.12 540.46 L35.18 539.46 L35.24 538.47 L35.30 537.47 L35.37 536.47 L35.44 535.47 L35.50 534.47 L35.57 533.48 L35.65 532.48 L35.72 531.48 L35.80 530.48 L35.88 529.49 L35.96 528.49 L36.05 527.49 L36.13 526.50 L36.23 525.50 L36.32 524.51 L36.42 523.51 L36.52 522.52 L36.62 521.52 L36.73 520.53 L36.84 519.53 L36.96 518.54 L37.07 517.55 L37.20 516.55 L37.32 515.56 L37.46 514.57 L37.59 513.58 L37.73 512.59 L37.87 511.60 L38.02 510.61 L38.17 509.62 L38.33 508.63 L38.49 507.65 L38.65 506.66 L38.81 505.67 L38.98 504.69 L39.16 503.70 L39.33 502.72 L39.51 501.73 L39.70 500.75 L39.88 499.77 L40.07 498.79 L40.26 497.80 L40.46 496.82 L40.66 495.84 L40.86 494.86 L41.06 493.88 L41.27 492.91 L41.48 491.93 L41.69 490.95 L41.91 489.97 L42.13 489.00 L42.35 488.02 L42.58 487.05 L42.81 486.08 L43.05 485.11 L43.29 484.14 L43.54 483.17 L43.80 482.20 L44.06 481.24 L44.33 480.27 L44.60 479.31 L44.88 478.35 L45.18 477.39 L45.48 476.44 L45.79 475.49 L46.12 474.55 L46.45 473.60 L46.80 472.67 L47.17 471.74 L47.55 470.81 L47.96 469.90 L48.38 468.99 L48.82 468.09 L49.29 467.21 L49.79 466.34 L50.32 465.50 L50.88 464.67 L51.47 463.86 L52.11 463.09 L52.78 462.35 L53.49 461.65 L54.24 460.99 L55.03 460.37 L55.86 459.81 L56.71 459.29 L57.60 458.82 L58.50 458.40 L59.43 458.02 L60.37 457.69 L61.32 457.39 L62.29 457.12 L63.26 456.87 L64.23 456.66 L65.21 456.46 L66.20 456.28 L67.18 456.12 L68.17 455.97 L69.16 455.83 L70.16 455.70 L71.15 455.58 L72.14 455.47 L73.14 455.37 L74.13 455.27 L75.13 455.18 L76.13 455.09 L77.12 455.01 L78.12 454.93 L79.12 454.85 L80.11 454.78 L81.11 454.71 L82.11 454.64 L83.11 454.58 L84.11 454.52 L85.10 454.46 L86.10 454.40 L87.10 454.35 L88.10 454.30 L89.10 454.24 L90.10 454.19 L91.10 454.15 L92.10 454.10 L93.09 454.05 L94.09 454.01 L95.09 453.97 L96.09 453.93 L97.09 453.89 L98.09 453.85 L99.09 453.81 L100.09 453.77 L101.09 453.74 L102.09 453.70 L103.09 453.67 L104.09 453.64 L105.09 453.61 L106.09 453.58 L107.09 453.55 L108.09 453.52 L109.09 453.49 L110.09 453.46 L111.09 453.43 L112.09 453.41 L113.09 453.38 L114.09 453.35 L115.08 453.33 L116.08 453.31 L117.08 453.28 L118.08 453.26 L119.08 453.24 L120.08 453.21 L121.08 453.19 L122.08 453.17 L123.08 453.15 L124.08 453.13 L125.08 453.11 L126.08 453.09 L127.08 453.07 L128.08 453.06 L129.08 453.04 L130.08 453.02 L131.08 453.00 L132.08 452.99 L133.08 452.97 L134.08 452.96 L135.08 452.94 L136.08 452.92 L137.08 452.91 L138.08 452.89 L139.08 452.88 L140.08 452.87 L141.08 452.85 L142.08 452.84 L143.08 452.82 L144.08 452.81 L145.08 452.80 L146.08 452.79 L147.08 452.77 L148.08 452.76 L149.08 452.75 L150.08 452.74 L151.08 452.73 L152.08 452.72 L153.08 452.70 L154.08 452.69 L155.08 452.68 L156.08 452.67 L157.08 452.66 L158.08 452.65 L159.08 452.64 L160.08 452.63 L161.08 452.62 L162.08 452.61 L163.08 452.60 L164.08 452.60 L165.08 452.59 L166.08 452.58 L167.09 452.57 L168.09 452.56 L169.09 452.55 L170.09 452.54 L171.09 452.54 L172.09 452.53 L173.09 452.52 L174.09 452.51 L175.09 452.51 L176.09 452.50 L177.09 452.49 L178.09 452.48 L179.09 452.48 L180.09 452.47 L181.09 452.46 L182.09 452.46 L183.09 452.45 L184.09 452.44 L185.09 452.44 L186.09 452.43 L187.09 452.42 L188.09 452.42 L189.09 452.41 L190.09 452.41 L191.09 452.40 L192.09 452.39 L193.09 452.39 L194.09 452.38 L195.09 452.38 L196.09 452.37 L197.09 452.37 L198.09 452.36 L199.09 452.36 L200.09 452.35 L201.09 452.34 L202.09 452.34 L203.09 452.33 L204.09 452.33 L205.09 452.33 L206.09 452.32 L207.09 452.32 L208.09 452.31 L209.09 452.31 L210.09 452.30 L211.09 452.30 L212.09 452.29 L213.09 452.29 L214.09 452.28 L215.09 452.28 L216.09 452.28 L217.09 452.27 L218.09 452.27 L219.09 452.26 L220.09 452.26 L221.09 452.26 L222.09 452.25 L223.09 452.25 L224.09 452.25 L225.09 452.24 L226.09 452.24 L227.09 452.23 L228.09 452.23 L229.09 452.23 L230.09 452.22 L231.09 452.22 L232.09 452.22 L233.09 452.21 L234.09 452.21 L235.09 452.21 L236.09 452.20 L237.09 452.20 L238.09 452.20 L239.09 452.19 L240.09 452.19 L241.09 452.19 L242.09 452.19 L243.09 452.18 L244.09 452.18 L245.09 452.18 L246.09 452.17 L247.09 452.17 L248.09 452.17 L249.09 452.17 L250.09 452.16 L251.09 452.16 L252.09 452.16 L253.09 452.15 L254.09 452.15 L255.09 452.15 L256.09 452.15 L257.09 452.14 L258.09 452.14 L259.09 452.14 L260.09 452.14 L261.09 452.13 L262.10 452.13 L263.10 452.13 L264.10 452.13 L265.10 452.13 L266.10 452.12 L267.10 452.12 L268.10 452.12 L269.10 452.12 L270.10 452.11 L271.10 452.11 L272.10 452.11 L273.10 452.11 L274.10 452.11 L275.10 452.10 L276.10 452.10 L277.10 452.10 L278.10 452.10 L279.10 452.10 L280.10 452.09 L281.10 452.09 L282.10 452.09 L283.10 452.09 L284.10 452.09 L285.10 452.08 L286.10 452.08 L287.10 452.08 L288.10 452.08 L289.10 452.08 L290.10 452.08 L291.10 452.07 L292.10 452.07 L293.10 452.07 L294.10 452.07 L295.10 452.07 L296.10 452.06 L297.10 452.06 L298.10 452.06 L299.10 452.06 L300.10 452.06 L301.10 452.06 L302.10 452.06 L303.10 452.05 L304.10 452.05 L304.60 452.05" stroke="#00ff00" stroke-width="2.10" stroke-linecap="butt" stroke-dasharray="1.8 1.5"/>
<path d="M31.50 630.40l0 0.01M32.05 616.45l0 0.01M32.59 602.50l0 0.01M33.14 588.55l0 0.01M33.68 574.60l0 0.01M34.23 560.65l0 0.01M34.77 546.70l0 0.01M35.32 535.18l0 0.01M35.86 526.49l0 0.01M36.41 519.59l0 0.01M36.95 513.86l0 0.01M37.50 508.85l0 0.01M38.04 504.30l0 0.01M38.59 500.02l0 0.01M39.13 495.92l0 0.01M39.68 491.98l0 0.01M40.22 488.19l0 0.01M40.77 484.57l0 0.01M41.31 481.13l0 0.01M41.86 477.91l0 0.01M42.40 474.91l0 0.01M42.95 472.15l0 0.01M43.49 469.63l0 0.01M44.04 467.36l0 0.01M44.58 465.32l0 0.01M45.13 463.50 L45.68 461.88 L46.22 460.46 L46.77 459.20 L47.31 458.11 L47.86 457.15 L48.40 456.32 L48.95 455.60 L49.49 454.97 L50.04 454.43 L50.58 453.96 L51.13 453.55 L51.67 453.20 L52.22 452.90 L52.76 452.63 L53.85 452.22 L54.94 451.90 L56.03 451.66 L57.12 451.49 L58.21 451.35 L59.31 451.25 L60.40 451.17 L61.49 451.11 L62.58 451.06 L63.67 451.03 L64.76 451.00 L65.85 450.97 L66.94 450.95 L68.03 450.94 L69.12 450.92 L70.21 450.91 L71.30 450.90 L72.39 450.89 L73.48 450.88 L74.57 450.88 L75.66 450.87 L76.75 450.87 L77.84 450.86 L78.93 450.86 L80.02 450.85 L81.11 450.85 L82.20 450.85 L83.29 450.84 L84.38 450.84 L85.47 450.84 L86.57 450.83 L87.66 450.83 L88.75 450.83 L89.84 450.83 L90.93 450.83 L92.02 450.82 L93.11 450.82 L94.20 450.82 L95.29 450.82 L96.38 450.82 L97.47 450.82 L98.56 450.82 L99.65 450.82 L100.74 450.81 L101.83 450.81 L102.92 450.81 L104.01 450.81 L105.10 450.81 L106.19 450.81 L107.28 450.81 L108.37 450.81 L109.46 450.81 L110.55 450.81 L111.64 450.81 L112.73 450.81 L113.83 450.80 L114.92 450.80 L116.01 450.80 L117.10 450.80 L118.19 450.80 L119.28 450.80 L120.37 450.80 L121.46 450.80 L122.55 450.80 L123.64 450.80 L124.73 450.80 L125.82 450.80 L126.91 450.80 L128.00 450.80 L129.09 450.80 L130.18 450.80 L131.27 450.80 L132.36 450.80 L133.45 450.80 L134.54 450.80 L135.63 450.80 L136.72 450.80 L137.81 450.80 L138.90 450.80 L139.99 450.80 L141.09 450.80 L142.18 450.80 L143.27 450.80 L144.36 450.80 L145.45 450.80 L146.54 450.80 L147.63 450.80 L148.72 450.80 L149.81 450.79 L150.90 450.79 L151.99 450.79 L153.08 450.79 L154.17 450.79 L155.26 450.79 L156.35 450.79 L157.44 450.79 L158.53 450.79 L159.62 450.79 L160.71 450.79 L161.80 450.79 L162.89 450.79 L163.98 450.79 L165.07 450.79 L166.16 450.79 L167.25 450.79 L168.35 450.79 L169.44 450.79 L170.53 450.79 L171.62 450.79 L172.71 450.79 L173.80 450.79 L174.89 450.79 L175.98 450.79 L177.07 450.79 L178.16 450.79 L179.25 450.79 L180.34 450.79 L181.43 450.79 L182.52 450.79 L183.61 450.79 L184.70 450.79 L185.79 450.79 L186.88 450.79 L187.97 450.79 L189.06 450.79 L190.15 450.79 L191.24 450.79 L192.33 450.79 L193.42 450.79 L194.51 450.79 L195.61 450.79 L196.70 450.79 L197.79 450.79 L198.88 450.79 L199.97 450.79 L201.06 450.79 L202.15 450.79 L203.24 450.79 L204.33 450.79 L205.42 450.79 L206.51 450.79 L207.60 450.79 L208.69 450.79 L209.78 450.79 L210.87 450.79 L211.96 450.79 L213.05 450.79 L214.14 450.79 L215.23 450.79 L216.32 450.79 L217.41 450.79 L218.50 450.79 L219.59 450.79 L220.68 450.79 L221.77 450.79 L222.87 450.79 L223.96 450.79 L225.05 450.79 L226.14 450.79 L227.23 450.79 L228.32 450.79 L229.41 450.79 L230.50 450.79 L231.59 450.79 L232.68 450.79 L233.77 450.79 L234.86 450.79 L235.95 450.79 L237.04 450.79 L238.13 450.79 L239.22 450.79 L240.31 450.79 L241.40 450.79 L242.49 450.79 L243.58 450.79 L244.67 450.79 L245.76 450.79 L246.85 450.79 L247.94 450.79 L249.03 450.79 L250.13 450.79 L251.22 450.79 L252.31 450.79 L253.40 450.79 L254.49 450.79 L255.58 450.79 L256.67 450.79 L257.76 450.79 L258.85 450.79 L259.94 450.79 L261.03 450.79 L262.12 450.79 L263.21 450.79 L264.30 450.79 L265.39 450.79 L266.48 450.79 L267.57 450.79 L268.66 450.79 L269.75 450.79 L270.84 450.79 L271.93 450.79 L273.02 450.79 L274.11 450.79 L275.20 450.79 L276.29 450.79 L277.39 450.79 L278.48 450.79 L279.57 450.79 L280.66 450.79 L281.75 450.79 L282.84 450.79 L283.93 450.79 L285.02 450.79 L286.11 450.79 L287.20 450.79 L288.29 450.79 L289.38 450.79 L290.47 450.79 L291.56 450.79 L292.65 450.79 L293.74 450.79 L294.83 450.79 L295.92 450.79 L297.01 450.79 L298.10 450.79 L299.19 450.79 L300.28 450.79 L301.37 450.79 L302.46 450.79 L303.55 450.79 L304.10 450.79" stroke="#0000ff" stroke-width="2.10" stroke-linecap="round"/>
</g>
<text transform="translate(31.50 640.90) scale(1.120 1)" font-size="7.60" text-anchor="middle" fill="#262626">0</text>
<text transform="translate(86.02 640.90) scale(1.120 1)" font-size="7.60" text-anchor="middle" fill="#262626">10</text>
<text transform="translate(140.54 640.90) scale(1.120 1)" font-size="7.60" text-anchor="middle" fill="#262626">20</text>
<text transform="translate(195.06 640.90) scale(1.120 1)" font-size="7.60" text-anchor="middle" fill="#262626">30</text>
<text transform="translate(249.58 640.90) scale(1.120 1)" font-size="7.60" text-anchor="middle" fill="#262626">40</text>
<text transform="translate(304.10 640.90) scale(1.120 1)" font-size="7.60" text-anchor="middle" fill="#262626">50</text>
<text transform="translate(27.50 633.50) scale(1.120 1)" font-size="7.60" text-anchor="end" fill="#262626">0</text>
<text transform="translate(27.50 603.67) scale(1.120 1)" font-size="7.60" text-anchor="end" fill="#262626">0.05</text>
<text transform="translate(27.50 573.83) scale(1.120 1)" font-size="7.60" text-anchor="end" fill="#262626">0.1</text>
<text transform="translate(27.50 544.00) scale(1.120 1)" font-size="7.60" text-anchor="end" fill="#262626">0.15</text>
<text transform="translate(27.50 514.17) scale(1.120 1)" font-size="7.60" text-anchor="end" fill="#262626">0.2</text>
<text transform="translate(27.50 484.33) scale(1.120 1)" font-size="7.60" text-anchor="end" fill="#262626">0.25</text>
<text transform="translate(27.50 454.50) scale(1.120 1)" font-size="7.60" text-anchor="end" fill="#262626">0.3</text>
<text transform="translate(167.80 650.40) scale(1.160 1)" font-size="7.90" text-anchor="middle" fill="#262626">Time(days)</text>
<text transform="translate(6.50 540.90) rotate(-90) scale(1 1.200)" font-size="7.70" text-anchor="middle" fill="#262626">P(t)</text>
<text transform="translate(167.80 449.40) scale(1.120 1)" font-size="8.10" text-anchor="middle" fill="#262626">(e)</text>
<rect x="240.20" y="481.20" width="56.30" height="43.90" fill="#ffffff" stroke="#8f8f8f" stroke-width="1.2"/>
<path d="M242.80 486.60H268.00" stroke="#000000" stroke-width="1.60" stroke-linecap="butt" stroke-dasharray="4.8 4.1" fill="none"/>
<text transform="translate(269.80 489.40) scale(1.120 1)" font-size="6.90" text-anchor="start" fill="#262626"><tspan font-family="Liberation Serif" font-style="italic">&#945;</tspan>=0.60</text>
<path d="M242.80 494.90H268.00" stroke="#ff0000" stroke-width="1.60" stroke-linecap="butt" stroke-dasharray="4.6 1.1 1.5 1.1" fill="none"/>
<text transform="translate(269.80 497.70) scale(1.120 1)" font-size="6.90" text-anchor="start" fill="#262626"><tspan font-family="Liberation Serif" font-style="italic">&#945;</tspan>=0.70</text>
<path d="M242.80 503.20H268.00" stroke="#ff00ff" stroke-width="1.50" stroke-linecap="butt" fill="none"/>
<text transform="translate(269.80 506.00) scale(1.120 1)" font-size="6.90" text-anchor="start" fill="#262626"><tspan font-family="Liberation Serif" font-style="italic">&#945;</tspan>=0.80</text>
<path d="M242.80 511.60H268.00" stroke="#00ff00" stroke-width="2.10" stroke-linecap="butt" stroke-dasharray="1.8 1.5" fill="none"/>
<text transform="translate(269.80 514.40) scale(1.120 1)" font-size="6.90" text-anchor="start" fill="#262626"><tspan font-family="Liberation Serif" font-style="italic">&#945;</tspan>=0.90</text>
<rect x="254.85" y="519.40" width="1.7" height="1.7" fill="#3c3cff"/>
<text transform="translate(269.80 522.80) scale(1.120 1)" font-size="6.90" text-anchor="start" fill="#262626"><tspan font-family="Liberation Serif" font-style="italic">&#945;</tspan>=1</text>
</svg>
</body></html>
